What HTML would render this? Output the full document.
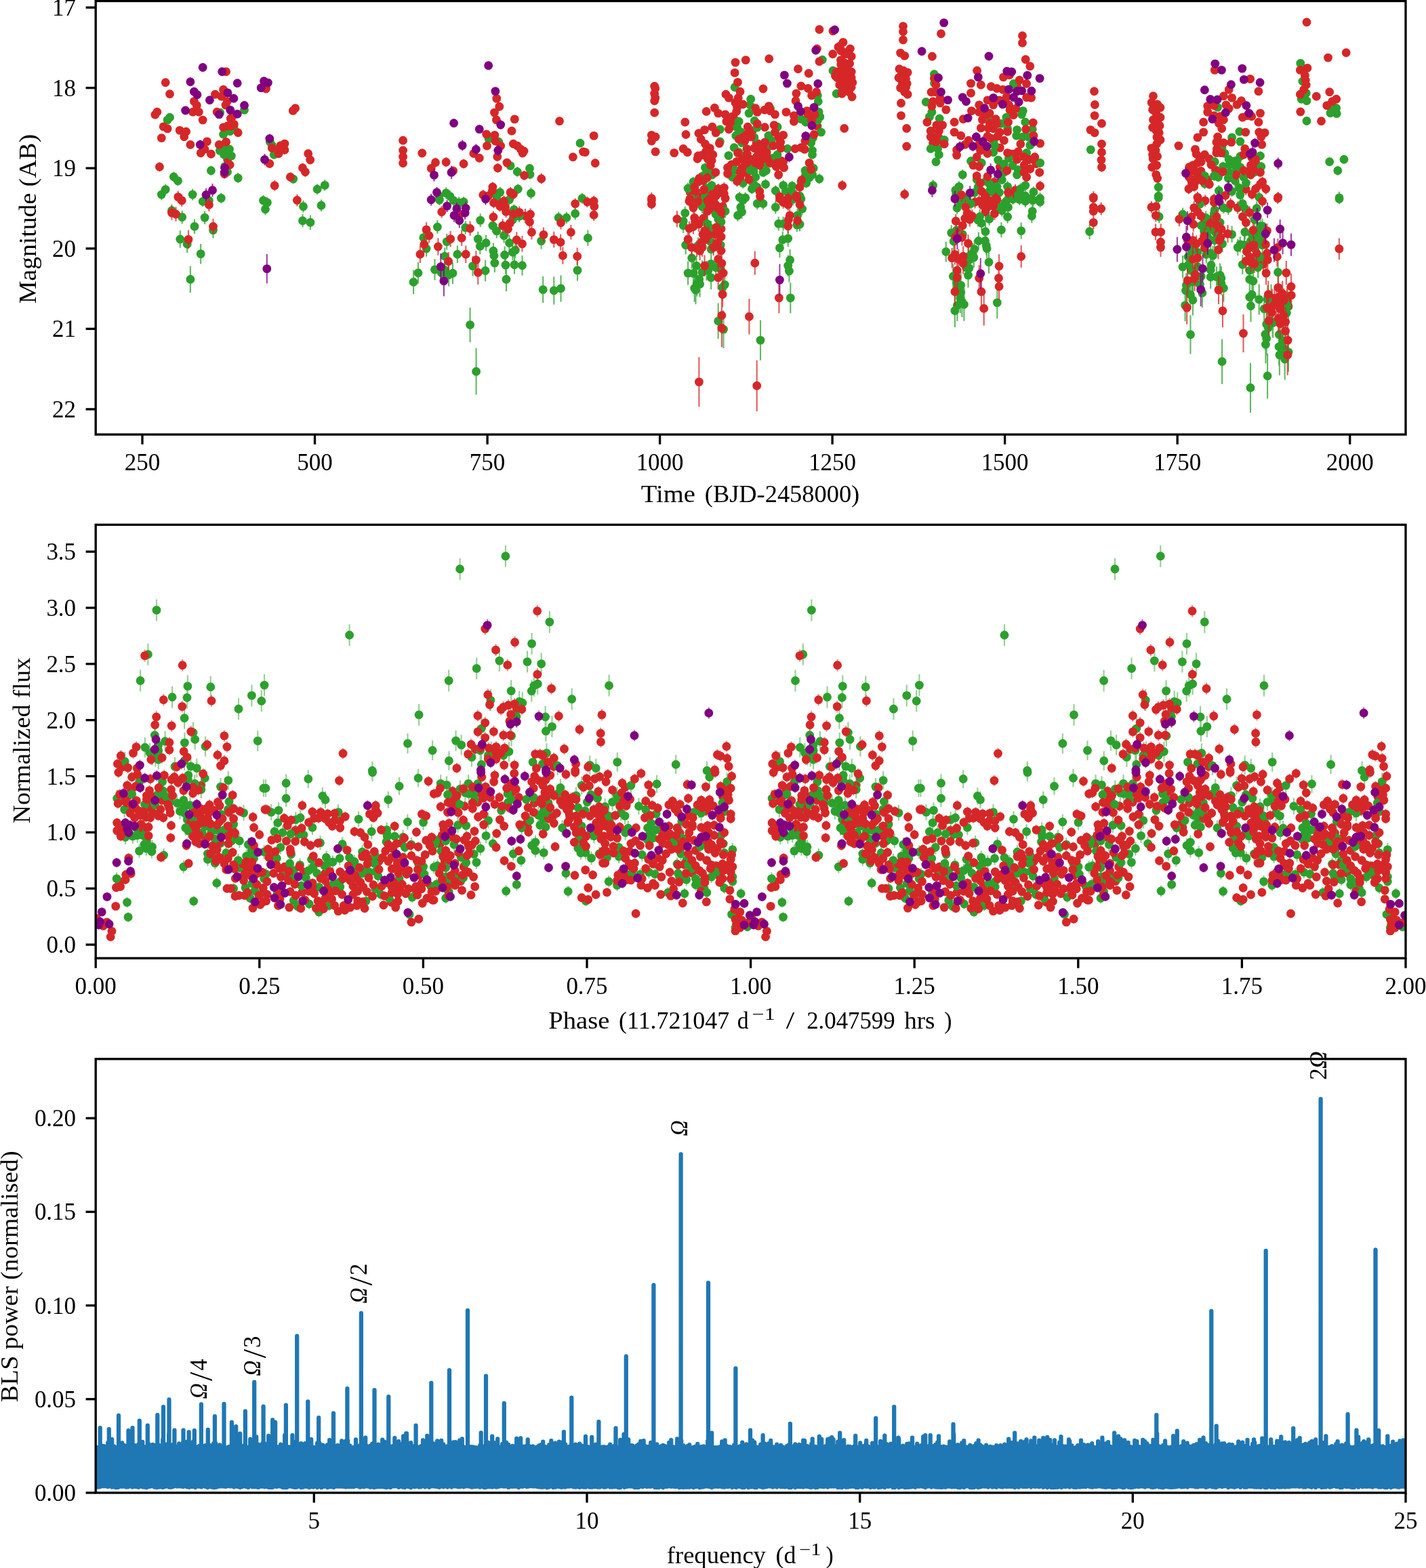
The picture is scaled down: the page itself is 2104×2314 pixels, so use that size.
<!DOCTYPE html><html><head><meta charset="utf-8"><title>Light curve and periodogram</title>
<style>html,body{margin:0;padding:0;background:#fff}svg{display:block}text{font-family:"Liberation Serif", "DejaVu Serif", serif;font-size:34.8px;fill:#000}</style></head><body>
<svg width="2104" height="2314" viewBox="0 0 2104 2314">
<rect width="2104" height="2314" fill="#fff"/>
<defs>
<clipPath id="c1"><rect x="141.2" y="1.5" width="1932.8" height="639.7"/></clipPath>
<clipPath id="c2"><rect x="141.2" y="774.4" width="1932.8" height="639.7"/></clipPath>
<clipPath id="c3"><rect x="141.2" y="1562.8" width="1932.8" height="640.2"/></clipPath>
</defs>
<g clip-path="url(#c1)"><path d="M1135.0 209.0v12.2M1514.7 219.6v12.1M1140.1 227.4v12.0M1515.6 230.0v12.1M1821.6 231.1v13.7M1825.3 231.1v12.5M1110.9 238.2v13.5M1129.8 234.3v12.4M1494.2 237.1v14.4M1824.8 235.7v12.6M1793.8 243.8v14.3M1824.0 241.2v14.6M1045.7 245.3v14.6M1823.6 248.2v14.3M1851.6 246.7v14.0M1198.6 250.2v14.9M1454.7 259.7v15.4M1478.3 258.3v14.0M1822.3 259.0v15.8M1049.8 271.7v16.6M1116.9 268.2v15.7M1443.3 268.3v15.1M1461.8 270.5v16.0M1410.7 277.9v16.4M1459.5 275.3v15.2M1817.6 274.4v16.0M647.7 281.0v16.7M1426.2 282.1v18.1M1495.5 280.1v16.9M1521.9 283.7v17.8M1035.0 286.4v16.4M1170.0 284.8v18.5M1484.3 288.7v17.0M1494.5 285.8v16.3M1521.5 285.9v16.6M1524.3 286.2v18.4M677.2 290.4v17.6M1036.0 295.5v18.7M1416.8 290.0v18.1M1481.6 293.4v18.5M1482.5 290.8v16.7M1478.3 301.8v17.8M1792.2 300.0v19.5M1038.4 311.8v21.6M1789.8 311.4v21.0M1008.2 315.9v20.9M1851.0 314.2v20.3M1779.0 323.5v22.7M1411.4 328.7v22.3M1776.6 330.4v21.8M1793.5 331.4v23.2M1847.3 335.4v21.4M1852.5 333.7v24.0M1856.6 330.4v23.5M1792.1 343.0v22.9M1835.9 348.3v26.1M1851.8 355.3v24.1M1779.8 362.4v26.2M1429.1 363.9v29.0M1855.7 371.4v26.5M1027.6 377.8v29.1M1753.9 376.0v28.6M1766.9 379.6v27.8M656.4 383.5v29.9M1042.4 384.7v29.2M1045.0 384.7v28.1M1772.3 392.6v30.1M1794.9 393.2v30.6M1758.9 399.1v33.7M1801.8 400.4v35.0M1412.8 407.5v34.2M1875.6 419.5v39.9M1899.2 427.8v38.4M1893.4 430.5v40.7M1891.6 448.3v44.5M1877.6 454.2v42.1M1878.2 454.0v44.8M1892.8 477.1v51.8" stroke="#2ca02c" stroke-width="2.1" stroke-opacity="0.75" fill="none"/><path d="M1378.6 123.0h0M1966.5 157.5h0M1971.6 159.5h0M1507.5 168.9h0M1113.3 178.2h0M1462.3 176.1h0M1081.7 183.1h0M1476.8 182.4h0M1079.3 185.4h0M1206.1 186.3h0M339.5 193.8h0M1092.9 194.6h0M1107.9 194.5h0M1517.1 202.0h0M721.1 204.9h0M1465.9 207.5h0M1135.0 215.1h0M1802.9 218.4h0M324.4 222.4h0M1514.7 225.6h0M1140.1 233.4h0M1515.6 236.0h0M1821.6 238.0h0M1825.3 237.3h0M1110.9 244.9h0M1129.8 240.5h0M1494.2 244.3h0M1824.8 242.0h0M1793.8 251.0h0M1824.0 248.5h0M1045.7 252.6h0M1823.6 255.3h0M1851.6 253.8h0M1198.6 257.7h0M1454.7 267.4h0M1478.3 265.2h0M1822.3 266.8h0M1049.8 279.9h0M1116.9 276.1h0M1443.3 275.8h0M1461.8 278.5h0M1410.7 286.1h0M1459.5 282.9h0M1817.6 282.4h0M647.7 289.3h0M1426.2 291.2h0M1495.5 288.6h0M1521.9 292.6h0M1035.0 294.6h0M1170.0 294.1h0M1484.3 297.2h0M1494.5 294.0h0M1521.5 294.2h0M1524.3 295.4h0M677.2 299.2h0M1036.0 304.9h0M1416.8 299.0h0M1481.6 302.7h0M1482.5 299.2h0M1478.3 310.7h0M1792.2 309.7h0M1038.4 322.6h0M1789.8 321.9h0M1008.2 326.4h0M1851.0 324.3h0M1779.0 334.8h0M1411.4 339.9h0M1776.6 341.3h0M1793.5 343.0h0M1847.3 346.0h0M1852.5 345.7h0M1856.6 342.2h0M1792.1 354.5h0M1835.9 361.4h0M1851.8 367.4h0M1779.8 375.5h0M1429.1 378.4h0M1855.7 384.6h0M1027.6 392.3h0M1753.9 390.3h0M1766.9 393.5h0M656.4 398.5h0M1042.4 399.3h0M1045.0 398.8h0M1772.3 407.7h0M1794.9 408.5h0M1758.9 415.9h0M1801.8 417.9h0M1412.8 424.6h0M1875.6 439.5h0M1899.2 447.0h0M1893.4 450.8h0M1891.6 470.5h0M1877.6 475.3h0M1878.2 476.4h0M1892.8 503.0h0" stroke="#2ca02c" stroke-width="12.9" stroke-linecap="round" fill="none"/><path d="M413.8 208.8v12.3M302.0 214.0v12.3M1475.3 211.9v12.4M1454.0 215.0v12.3M1770.1 225.9v13.0M1044.4 227.8v13.5M1120.7 232.4v12.0M1153.5 231.0v13.4M1518.7 228.9v13.2M1701.3 228.0v12.3M1784.2 228.0v12.7M1079.1 236.5v13.0M1136.3 234.0v13.2M1155.6 232.9v12.4M1528.7 235.4v12.7M1853.0 233.9v14.0M1101.9 240.5v13.4M1475.3 239.7v13.8M1853.4 243.6v13.4M1854.8 244.2v13.1M1102.0 248.0v15.1M1756.9 245.7v14.6M1762.5 245.1v12.9M1771.9 246.0v12.9M1793.7 244.5v14.1M1843.7 245.1v13.4M1823.8 250.8v14.9M1037.8 259.6v14.1M1466.9 260.8v16.1M1757.8 258.4v15.9M1764.0 260.1v15.0M1781.9 258.0v14.2M1758.6 262.6v16.4M1498.0 271.9v17.4M1838.2 270.8v17.1M1018.1 275.1v16.8M1044.2 278.1v15.6M1055.6 275.3v16.1M1060.0 276.4v17.7M1494.3 277.7v15.5M720.8 280.2v17.6M1033.5 282.1v16.8M1047.0 279.0v16.1M737.4 289.9v17.9M1438.6 288.5v19.0M1778.1 287.4v17.3M1046.9 293.7v17.0M1066.4 295.6v18.1M1050.2 297.7v18.2M1826.2 297.3v18.3M1453.9 303.4v18.7M774.9 308.1v21.1M1037.8 312.8v18.9M1063.4 308.7v19.3M1758.0 310.7v18.9M1778.3 317.5v21.2M1031.2 319.8v22.1M1064.0 326.5v22.9M1792.4 325.6v23.4M1414.8 334.0v21.3M1752.4 343.5v23.1M1773.4 343.1v25.2M1861.6 342.3v25.5M1759.3 351.4v25.6M1844.1 364.8v29.4M1863.9 376.6v26.8M1880.4 421.4v37.4M1899.2 422.5v36.9M1877.0 426.5v35.7M1890.8 428.5v40.9M1876.5 433.5v40.7M1876.4 438.6v45.1" stroke="#d62728" stroke-width="2.1" stroke-opacity="0.75" fill="none"/><path d="M1240.6 74.9h0M1243.3 76.1h0M1246.1 92.7h0M1240.8 95.3h0M1489.5 110.8h0M1380.9 125.2h0M1500.4 127.3h0M1485.3 143.0h0M1089.2 144.5h0M1387.2 145.1h0M1514.6 143.8h0M335.3 149.5h0M1387.2 152.1h0M1483.3 149.0h0M1809.0 154.9h0M1825.1 154.4h0M1128.1 162.3h0M1490.1 162.5h0M342.8 172.1h0M1080.9 171.9h0M1192.1 169.3h0M1460.1 167.2h0M1800.4 171.6h0M1846.7 171.8h0M340.3 175.0h0M1078.1 175.0h0M1082.6 173.7h0M1192.0 175.0h0M1449.4 176.6h0M1080.3 185.7h0M1128.4 187.8h0M1205.2 185.8h0M1458.1 189.2h0M1110.1 193.3h0M1475.1 195.3h0M1096.1 202.9h0M1381.9 201.8h0M1707.0 202.4h0M1150.9 208.4h0M1385.2 203.2h0M1462.1 204.2h0M413.8 214.9h0M1116.0 211.6h0M1118.2 211.9h0M1151.7 210.1h0M1376.6 211.4h0M1443.8 214.3h0M1446.1 213.9h0M302.0 220.2h0M412.4 218.9h0M1102.0 219.6h0M1118.9 220.6h0M1475.3 218.1h0M1795.4 219.7h0M1041.7 223.2h0M1121.0 225.1h0M1454.0 221.1h0M1097.8 230.4h0M1492.2 227.1h0M1495.5 227.2h0M1770.1 232.4h0M1846.8 232.5h0M335.7 235.6h0M1044.4 234.6h0M1120.7 238.4h0M1153.5 237.7h0M1518.7 235.5h0M1701.3 234.2h0M1784.2 234.4h0M1079.1 243.0h0M1136.3 240.6h0M1155.6 239.1h0M1528.7 241.8h0M1853.0 240.9h0M1101.9 247.2h0M1475.3 246.6h0M1853.4 250.4h0M1854.8 250.7h0M1102.0 255.5h0M1756.9 252.9h0M1762.5 251.6h0M1771.9 252.4h0M1793.7 251.5h0M1843.7 251.8h0M1823.8 258.2h0M1037.8 266.7h0M1466.9 268.9h0M1757.8 266.4h0M1764.0 267.6h0M1781.9 265.1h0M1758.6 270.8h0M1498.0 280.6h0M1838.2 279.3h0M1018.1 283.5h0M1044.2 285.9h0M1055.6 283.4h0M1060.0 285.2h0M1494.3 285.5h0M720.8 289.0h0M1033.5 290.5h0M1047.0 287.0h0M737.4 298.9h0M1438.6 298.1h0M1778.1 296.1h0M1046.9 302.2h0M1066.4 304.7h0M1050.2 306.8h0M1826.2 306.5h0M1453.9 312.7h0M774.9 318.6h0M1037.8 322.2h0M1063.4 318.3h0M1758.0 320.1h0M1778.3 328.0h0M1031.2 330.8h0M1064.0 337.9h0M1792.4 337.3h0M1414.8 344.6h0M1752.4 355.0h0M1773.4 355.7h0M1861.6 355.0h0M1759.3 364.3h0M1844.1 379.5h0M1863.9 390.0h0M1880.4 440.1h0M1899.2 440.9h0M1877.0 444.4h0M1890.8 449.0h0M1876.5 453.8h0M1876.4 461.2h0" stroke="#d62728" stroke-width="12.9" stroke-linecap="round" fill="none"/><path d="M330.6 218.1v12.4M335.5 220.2v12.1M330.6 222.2v12.0M341.4 223.9v12.4M404.3 221.6v13.2M311.4 244.8v14.0M331.6 239.2v13.4M335.5 246.2v15.1M351.2 255.0v15.2M256.4 253.6v14.8M262.5 259.8v14.1M432.7 257.3v13.7M244.2 272.0v15.3M238.3 278.6v17.0M284.1 278.7v16.7M479.3 265.0v16.7M468.1 271.4v15.7M326.3 284.5v15.7M388.5 288.1v15.7M394.4 291.0v15.7M391.5 299.9v17.7M299.2 289.5v15.7M308.4 288.1v15.7M447.5 295.9v17.7M474.0 294.4v17.7M253.4 301.8v17.7M268.7 310.7v19.6M302.1 311.3v19.6M287.0 323.4v21.6M446.5 316.0v19.6M457.9 317.5v21.6M314.5 327.9v23.6M265.8 340.2v25.5M276.2 347.5v25.5M296.2 359.9v29.5M280.9 392.7v39.3M753.1 238.5v12.3M781.5 242.1v12.9M763.3 246.1v14.7M781.9 250.2v14.4M764.3 271.5v14.9M737.7 276.1v15.6M783.5 276.5v17.5M658.2 276.3v17.2M664.1 281.2v17.1M669.0 287.8v15.7M648.4 287.2v15.7M684.1 290.2v15.7M732.8 281.9v15.7M751.5 286.8v15.7M858.9 284.9v15.7M758.4 301.6v15.7M848.7 306.5v17.7M824.2 312.4v17.7M835.9 312.4v17.7M766.2 310.4v17.7M708.7 315.3v19.6M756.4 314.3v19.6M645.4 325.1v19.6M726.9 323.2v19.6M686.7 326.1v19.6M732.8 330.0v21.6M743.6 336.9v21.6M624.8 339.9v21.6M705.3 341.8v21.6M867.4 339.5v23.6M659.2 344.8v23.6M717.1 346.7v23.6M798.6 343.8v23.6M751.5 346.7v23.6M708.3 351.7v23.6M629.1 355.2v23.6M760.3 357.5v23.6M727.9 358.5v23.6M674.9 362.5v25.5M744.6 363.4v25.5M756.4 360.5v23.6M656.2 365.4v25.5M760.3 357.3v23.6M728.9 364.5v25.5M729.9 374.4v27.5M746.0 377.3v27.5M759.0 376.9v27.5M770.5 376.9v29.5M697.5 377.9v29.5M716.1 383.8v31.4M852.0 383.2v31.4M641.5 382.2v31.4M617.0 387.1v31.4M651.3 386.7v31.4M668.0 387.5v31.4M662.1 389.1v33.4M610.1 398.5v35.4M747.0 394.6v35.4M801.2 407.8v39.3M817.3 408.2v41.2M827.5 406.2v39.3M693.6 453.9v51.1M702.6 513.8v68.7M1198.5 215.9v12.4M1075.0 223.3v12.6M1147.0 222.1v12.2M1090.2 218.7v12.1M1198.5 222.0v12.5M1040.5 240.8v13.3M1200.2 241.1v14.5M1188.0 244.7v14.2M1084.1 243.8v14.2M1106.8 244.4v13.0M1112.0 245.5v14.2M1130.4 244.5v14.6M1126.0 247.4v14.1M1050.9 251.2v13.5M1188.8 250.8v14.3M1037.0 252.2v15.0M1080.6 254.7v13.4M1114.7 254.3v14.1M1208.9 256.6v14.7M1194.1 254.6v15.3M1023.0 261.3v14.2M1096.3 262.1v16.1M1181.9 260.7v15.4M1189.7 262.8v14.7M1129.5 264.3v15.0M1112.0 264.6v16.2M1155.7 266.1v15.1M1168.8 267.2v14.6M1015.1 269.7v16.6M1042.2 269.8v16.4M1050.1 266.4v14.5M1109.4 271.5v14.8M1144.3 273.4v16.2M1159.2 274.1v16.5M1167.9 273.7v17.2M1091.1 283.1v16.0M1099.8 283.7v16.5M1040.5 282.3v17.6M1180.1 280.4v17.8M1024.7 283.5v16.4M1042.2 282.7v18.1M1056.2 306.5v19.4M1096.3 286.8v16.8M1092.8 297.0v17.3M1094.6 302.7v20.1M1088.5 309.2v17.5M1117.3 291.7v17.5M1126.0 291.7v17.5M1144.3 295.8v19.7M1181.9 285.1v16.7M1183.6 299.0v18.6M1010.8 304.8v19.2M1070.1 302.2v19.2M1059.7 313.2v20.0M1064.0 317.9v19.2M1176.6 307.8v20.3M1148.7 319.7v20.9M1155.7 319.7v20.9M1175.8 321.4v20.9M1180.1 320.6v20.9M1008.2 321.4v22.7M1043.4 320.0v20.3M1049.2 325.7v22.8M1154.8 341.5v24.4M1162.7 339.8v24.4M1011.7 347.6v27.9M1049.2 344.6v25.3M1063.2 348.8v25.5M1150.4 352.0v27.9M1049.2 352.8v29.7M1030.0 350.3v24.4M1020.7 365.1v31.4M1165.6 368.0v31.4M1162.7 376.4v31.4M1164.4 383.4v33.2M1049.2 375.9v27.2M1056.2 380.0v29.5M1063.2 382.1v28.9M1015.1 385.7v34.9M1023.0 386.0v34.9M1036.1 384.3v34.9M1049.2 392.1v34.9M1031.7 394.7v34.9M1028.2 399.1v38.4M1032.6 400.0v38.4M1024.7 405.2v40.2M1026.5 407.0v41.9M1069.3 400.9v38.4M1065.8 405.2v38.4M1166.3 416.9v45.4M1059.7 447.5v52.4M1067.5 458.1v55.9M1122.0 472.4v59.4M1465.7 218.5v12.5M1381.0 232.2v13.1M1432.5 231.1v13.5M1472.7 230.0v12.2M1534.6 233.8v13.3M1448.2 233.8v13.2M1481.4 235.5v13.4M1502.3 243.7v14.5M1420.3 250.2v15.3M1441.2 257.3v15.2M1500.6 251.3v13.3M1481.4 247.4v14.0M1376.6 265.5v16.3M1460.4 263.7v16.3M1470.9 267.4v15.9M1486.6 267.0v16.7M1512.8 265.3v16.7M1415.1 267.2v16.3M1409.8 272.4v16.3M1505.8 270.5v16.7M1525.0 275.3v15.9M1437.7 275.4v17.4M1465.7 275.2v17.7M1474.4 275.7v16.7M1502.3 279.7v15.8M1512.8 280.3v18.1M1534.6 284.2v17.3M1421.2 284.3v18.4M1432.5 292.2v16.6M1488.4 283.1v17.2M1504.1 285.9v16.9M1512.8 288.1v17.8M1534.6 289.6v16.4M1412.1 298.2v17.5M1472.7 295.8v18.1M1487.5 297.0v17.5M1523.3 302.2v19.2M1522.4 308.3v20.9M1486.6 310.4v19.2M1445.6 309.0v21.3M1443.0 315.3v19.2M1448.2 318.2v22.1M1459.6 313.6v19.2M1477.4 327.9v22.7M1506.7 328.4v24.4M1454.0 330.5v22.7M1403.7 332.2v22.7M1420.3 335.0v21.7M1443.9 342.4v26.2M1453.5 342.4v26.2M1407.2 343.2v26.2M1455.2 348.5v27.9M1456.1 352.8v27.9M1437.7 353.7v27.9M1395.8 356.7v29.7M1435.1 359.0v29.7M1436.9 365.1v29.7M1429.0 370.2v28.1M1459.0 370.3v33.2M1429.9 379.0v33.2M1425.5 378.2v33.2M1428.5 387.8v36.7M1406.3 389.5v36.7M1411.6 398.2v38.4M1417.7 400.9v40.2M1417.7 410.5v41.9M1416.8 418.3v43.6M1419.4 422.7v45.4M1422.4 424.8v48.9M1412.4 427.0v47.1M1408.9 434.0v48.9M1471.3 423.0v47.1M1709.3 267.8v16.9M1709.3 281.2v16.3M1807.1 220.0v13.0M1829.8 224.5v12.7M1813.2 228.9v12.7M1792.3 231.8v13.8M1814.1 236.0v14.2M1804.5 238.8v13.7M1829.8 240.0v13.2M1859.5 223.4v13.2M1777.4 252.1v15.1M1791.4 252.1v15.1M1797.5 254.4v13.9M1813.2 247.6v13.5M1812.3 255.3v15.8M1835.0 254.4v13.9M1838.5 262.6v15.0M1828.1 268.7v16.8M1798.4 273.2v16.5M1777.4 263.2v15.5M1829.8 279.3v16.6M1857.7 282.6v17.0M1709.3 282.7v18.1M1710.2 310.1v19.2M1607.6 330.5v22.7M1770.4 292.2v18.3M1745.1 306.6v19.2M1805.4 297.9v17.3M1812.3 297.7v19.4M1791.4 305.1v20.5M1833.3 291.5v17.9M1836.8 298.6v17.7M1854.2 297.4v20.1M1779.2 311.3v20.2M1800.1 317.3v22.3M1772.2 322.2v21.2M1786.2 328.0v21.7M1817.6 333.6v24.4M1836.8 330.7v23.4M1859.5 323.4v20.5M1782.7 340.0v22.2M1803.6 347.4v24.9M1829.8 348.9v23.6M1826.3 353.0v24.2M1845.5 343.0v25.0M1856.0 343.1v22.9M1758.2 358.2v24.2M1767.0 358.7v26.6M1786.2 359.5v28.6M1753.0 365.8v26.5M1789.6 362.9v28.7M1745.1 377.3v33.2M1787.0 374.7v33.2M1757.3 381.7v34.9M1786.2 383.5v29.5M1833.3 376.1v28.6M1843.8 383.3v31.6M1856.0 379.6v30.2M1786.2 391.3v34.9M1800.1 388.6v34.9M1801.9 393.0v34.9M1843.8 395.2v33.9M1849.0 399.0v31.6M1770.4 402.3v35.6M1750.4 403.1v35.6M1749.5 407.8v41.9M1805.4 405.2v40.2M1756.5 413.1v43.6M1773.9 410.5v43.6M1760.0 420.1v45.4M1847.3 416.7v36.5M1843.8 419.1v38.6M1857.7 419.2v45.4M1748.6 427.0v47.1M1845.5 427.9v47.1M1756.5 464.9v57.6M1803.1 500.4v66.3M1845.0 535.6v73.3M1983.0 228.8v12.7M1961.7 232.6v12.1M1973.8 244.8v14.0M1860.8 239.4v12.6M1976.0 282.8v18.2M1976.0 285.6v15.7M1862.6 322.6v22.1M1860.8 336.8v21.6M1862.6 349.9v23.3M1862.6 364.4v29.2M1885.6 384.3v34.9M1856.4 377.3v33.2M1870.4 420.9v41.9M1901.0 430.5v43.6M1865.2 435.8v40.1M1898.3 442.2v39.5M1868.7 455.5v46.2M1871.3 460.2v47.1M1866.9 469.8v47.1M1868.7 473.8v51.3M1887.3 467.5v52.4M1867.4 480.3v55.9M1887.0 483.8v55.9M1895.7 486.4v57.6M1901.0 490.8v57.6M1887.9 494.3v59.4M1895.7 499.5v61.1M1870.1 521.7v66.3" stroke="#2ca02c" stroke-width="2.1" stroke-opacity="0.75" fill="none"/><path d="M360.5 162.4h0M324.7 166.3h0M250.5 173.2h0M247.1 177.1h0M345.3 188.9h0M329.6 198.3h0M398.4 209.5h0M401.3 214.4h0M333.6 218.4h0M338.5 220.3h0M330.6 224.3h0M335.5 226.2h0M330.6 228.2h0M341.4 230.1h0M404.3 228.2h0M311.4 251.8h0M331.6 245.9h0M335.5 253.7h0M351.2 262.6h0M256.4 261.0h0M262.5 266.9h0M432.7 264.1h0M244.2 279.6h0M238.3 287.1h0M284.1 287.1h0M479.3 273.4h0M468.1 279.2h0M326.3 292.4h0M388.5 295.9h0M394.4 298.9h0M391.5 308.7h0M299.2 297.3h0M308.4 295.9h0M447.5 304.8h0M474.0 303.2h0M253.4 310.7h0M268.7 320.5h0M302.1 321.1h0M287.0 334.2h0M446.5 325.8h0M457.9 328.3h0M314.5 339.6h0M265.8 353.0h0M276.2 360.3h0M296.2 374.6h0M280.9 412.3h0M735.8 209.3h0M856.0 211.2h0M753.1 244.6h0M781.5 248.5h0M763.3 253.5h0M781.9 257.4h0M764.3 279.0h0M737.7 283.9h0M783.5 285.3h0M658.2 284.9h0M664.1 289.8h0M669.0 295.7h0M648.4 295.1h0M684.1 298.0h0M732.8 289.8h0M751.5 294.7h0M858.9 292.7h0M758.4 309.4h0M848.7 315.3h0M824.2 321.2h0M835.9 321.2h0M766.2 319.2h0M708.7 325.1h0M756.4 324.2h0M645.4 335.0h0M726.9 333.0h0M686.7 335.9h0M732.8 340.9h0M743.6 347.7h0M624.8 350.7h0M705.3 352.6h0M867.4 351.3h0M659.2 356.6h0M717.1 358.5h0M798.6 355.6h0M751.5 358.5h0M708.3 363.4h0M629.1 367.0h0M760.3 369.3h0M727.9 370.3h0M674.9 375.2h0M744.6 376.2h0M756.4 372.3h0M656.2 378.2h0M760.3 369.1h0M728.9 377.3h0M729.9 388.1h0M746.0 391.1h0M759.0 390.7h0M770.5 391.7h0M697.5 392.6h0M716.1 399.5h0M852.0 398.9h0M641.5 397.9h0M617.0 402.8h0M651.3 402.5h0M668.0 403.2h0M662.1 405.8h0M610.1 416.2h0M747.0 412.3h0M801.2 427.4h0M817.3 428.8h0M827.5 425.8h0M693.6 479.4h0M702.6 548.2h0M1213.3 88.2h0M1229.0 104.3h0M1084.1 128.7h0M1234.2 138.3h0M1107.7 146.2h0M1206.3 140.9h0M1207.2 149.7h0M1106.8 154.9h0M1105.1 167.1h0M1136.5 160.1h0M1208.1 165.4h0M1209.8 172.4h0M1090.2 179.3h0M1181.9 175.8h0M1188.8 180.2h0M1087.6 188.1h0M1206.3 177.6h0M1062.3 191.0h0M1117.3 188.1h0M1147.0 187.2h0M1211.5 195.1h0M1085.8 200.3h0M1133.9 200.3h0M1112.9 202.9h0M1062.3 209.0h0M1199.3 203.8h0M1138.2 207.3h0M1094.6 210.8h0M1196.7 210.8h0M1083.2 217.7h0M1161.8 219.5h0M1198.5 222.1h0M1075.0 229.6h0M1147.0 228.2h0M1090.2 224.7h0M1198.5 228.2h0M1040.5 247.4h0M1200.2 248.3h0M1188.0 251.8h0M1084.1 250.9h0M1106.8 250.9h0M1112.0 252.7h0M1130.4 251.8h0M1126.0 254.4h0M1050.9 257.9h0M1188.8 257.9h0M1037.0 259.6h0M1080.6 261.4h0M1114.7 261.4h0M1208.9 264.0h0M1194.1 262.3h0M1023.0 268.4h0M1096.3 270.1h0M1181.9 268.4h0M1189.7 270.1h0M1129.5 271.9h0M1112.0 272.7h0M1155.7 273.6h0M1168.8 274.5h0M1015.1 278.0h0M1042.2 278.0h0M1050.1 273.6h0M1109.4 278.8h0M1144.3 281.5h0M1159.2 282.3h0M1167.9 282.3h0M1091.1 291.1h0M1099.8 291.9h0M1040.5 291.1h0M1180.1 289.3h0M1024.7 291.7h0M1042.2 291.7h0M1056.2 316.2h0M1096.3 295.2h0M1092.8 305.7h0M1094.6 312.7h0M1088.5 317.9h0M1117.3 300.5h0M1126.0 300.5h0M1144.3 305.7h0M1181.9 293.5h0M1183.6 308.3h0M1010.8 314.4h0M1070.1 311.8h0M1059.7 323.2h0M1064.0 327.5h0M1176.6 317.9h0M1148.7 330.2h0M1155.7 330.2h0M1175.8 331.9h0M1180.1 331.0h0M1008.2 332.8h0M1043.4 330.2h0M1049.2 337.1h0M1154.8 353.7h0M1162.7 352.0h0M1011.7 361.6h0M1049.2 357.2h0M1063.2 361.6h0M1150.4 365.9h0M1049.2 367.7h0M1030.0 362.4h0M1020.7 380.8h0M1165.6 383.7h0M1162.7 392.1h0M1164.4 400.0h0M1049.2 389.5h0M1056.2 394.7h0M1063.2 396.5h0M1015.1 403.1h0M1023.0 403.5h0M1036.1 401.7h0M1049.2 409.6h0M1031.7 412.2h0M1028.2 418.3h0M1032.6 419.2h0M1024.7 425.3h0M1026.5 427.9h0M1069.3 420.1h0M1065.8 424.4h0M1166.3 439.6h0M1059.7 473.7h0M1067.5 486.1h0M1122.0 502.1h0M1234.4 138.3h0M1378.4 109.5h0M1495.4 123.5h0M1366.2 150.5h0M1374.9 165.4h0M1509.3 163.6h0M1371.4 172.4h0M1386.2 175.0h0M1484.9 173.2h0M1512.8 180.2h0M1500.6 191.6h0M1486.6 189.8h0M1523.3 190.7h0M1499.7 200.3h0M1509.3 202.0h0M1393.2 206.4h0M1467.4 214.3h0M1373.2 219.5h0M1383.6 219.5h0M1519.8 214.3h0M1465.7 224.7h0M1385.4 228.2h0M1381.0 238.7h0M1432.5 237.8h0M1472.7 236.1h0M1488.4 233.5h0M1534.6 240.4h0M1448.2 240.4h0M1481.4 242.2h0M1502.3 250.9h0M1420.3 257.9h0M1441.2 264.9h0M1500.6 257.9h0M1481.4 254.4h0M1376.6 273.6h0M1460.4 271.9h0M1470.9 275.4h0M1486.6 275.4h0M1512.8 273.6h0M1415.1 275.4h0M1409.8 280.6h0M1505.8 278.8h0M1525.0 283.2h0M1437.7 284.1h0M1465.7 284.1h0M1474.4 284.1h0M1502.3 287.6h0M1512.8 289.3h0M1534.6 292.8h0M1421.2 293.5h0M1432.5 300.5h0M1488.4 291.7h0M1504.1 294.4h0M1512.8 297.0h0M1534.6 297.9h0M1412.1 306.9h0M1472.7 304.8h0M1487.5 305.7h0M1523.3 311.8h0M1522.4 318.8h0M1486.6 320.0h0M1445.6 319.7h0M1443.0 324.9h0M1448.2 329.3h0M1459.6 323.2h0M1477.4 339.2h0M1506.7 340.6h0M1454.0 341.8h0M1403.7 343.6h0M1420.3 345.9h0M1443.9 355.5h0M1453.5 355.5h0M1407.2 356.3h0M1455.2 362.4h0M1456.1 366.8h0M1437.7 367.7h0M1395.8 371.5h0M1435.1 373.8h0M1436.9 379.9h0M1429.0 384.3h0M1459.0 386.9h0M1429.9 395.6h0M1425.5 394.7h0M1428.5 406.1h0M1406.3 407.8h0M1411.6 417.4h0M1417.7 420.9h0M1417.7 431.4h0M1416.8 440.1h0M1419.4 445.4h0M1422.4 449.2h0M1412.4 450.6h0M1408.9 458.5h0M1471.3 446.6h0M1609.3 220.9h0M1709.3 276.2h0M1709.3 289.3h0M1796.6 158.4h0M1828.9 194.2h0M1817.6 202.9h0M1829.8 209.0h0M1807.1 226.5h0M1829.8 230.8h0M1813.2 235.2h0M1792.3 238.7h0M1814.1 243.1h0M1804.5 245.7h0M1829.8 246.6h0M1859.5 230.0h0M1777.4 259.6h0M1791.4 259.6h0M1797.5 261.4h0M1813.2 254.4h0M1812.3 263.1h0M1835.0 261.4h0M1838.5 270.1h0M1828.1 277.1h0M1798.4 281.5h0M1777.4 271.0h0M1829.8 287.6h0M1857.7 291.1h0M1709.3 291.7h0M1710.2 319.7h0M1607.6 341.8h0M1770.4 301.3h0M1745.1 316.2h0M1805.4 306.6h0M1812.3 307.5h0M1791.4 315.3h0M1833.3 300.5h0M1836.8 307.5h0M1854.2 307.5h0M1779.2 321.4h0M1800.1 328.4h0M1772.2 332.8h0M1786.2 338.9h0M1817.6 345.9h0M1836.8 342.4h0M1859.5 333.6h0M1782.7 351.1h0M1803.6 359.8h0M1829.8 360.7h0M1826.3 365.1h0M1845.5 355.5h0M1856.0 354.6h0M1758.2 370.3h0M1767.0 372.1h0M1786.2 373.8h0M1753.0 379.0h0M1789.6 377.3h0M1745.1 393.9h0M1787.0 391.3h0M1757.3 399.1h0M1786.2 398.2h0M1833.3 390.4h0M1843.8 399.1h0M1856.0 394.7h0M1786.2 408.7h0M1800.1 406.1h0M1801.9 410.5h0M1843.8 412.2h0M1849.0 414.8h0M1770.4 420.1h0M1750.4 420.9h0M1749.5 428.8h0M1805.4 425.3h0M1756.5 434.9h0M1773.9 432.3h0M1760.0 442.8h0M1847.3 434.9h0M1843.8 438.4h0M1857.7 441.9h0M1748.6 450.6h0M1845.5 451.5h0M1756.5 493.7h0M1803.1 533.5h0M1845.0 572.3h0M1918.8 93.4h0M1921.9 120.0h0M1927.2 137.4h0M1920.2 146.2h0M1928.0 148.8h0M1962.9 166.8h0M1972.2 167.6h0M1928.0 178.5h0M1983.0 235.2h0M1961.7 238.7h0M1973.8 251.8h0M1860.8 245.7h0M1976.0 291.9h0M1976.0 293.5h0M1862.6 333.6h0M1860.8 347.6h0M1862.6 361.6h0M1862.6 379.0h0M1885.6 401.7h0M1856.4 393.9h0M1870.4 441.9h0M1901.0 452.4h0M1865.2 455.8h0M1898.3 462.0h0M1868.7 478.5h0M1871.3 483.8h0M1866.9 493.4h0M1868.7 499.5h0M1887.3 493.7h0M1867.4 508.2h0M1887.0 511.7h0M1895.7 515.2h0M1901.0 519.6h0M1887.9 523.9h0M1895.7 530.0h0M1870.1 554.8h0" stroke="#2ca02c" stroke-width="12.9" stroke-linecap="round" fill="none"/><path d="M296.2 219.3v13.0M311.4 221.2v12.0M401.3 212.2v12.2M420.0 215.1v12.3M454.7 220.6v12.3M457.7 229.9v12.4M397.8 234.9v13.2M339.1 236.1v14.3M235.4 239.4v13.7M446.5 240.9v13.9M450.4 246.2v14.9M331.2 249.8v13.8M428.4 254.4v13.6M405.2 266.1v15.7M262.8 281.8v17.7M268.3 287.1v17.7M308.4 292.4v19.6M438.4 286.7v17.7M253.4 303.2v21.6M259.5 305.2v21.6M314.5 322.5v23.6M278.0 339.6v27.5M757.4 206.2v12.0M773.1 216.8v12.4M594.6 225.0v12.6M594.6 234.0v13.3M622.8 219.8v12.4M698.9 220.3v12.6M707.3 227.0v12.5M733.8 224.7v13.2M845.4 225.8v12.1M642.5 232.7v13.9M658.2 232.3v14.0M684.1 234.8v13.8M878.2 234.1v13.1M748.0 233.8v12.5M636.2 241.5v14.0M668.6 245.4v13.4M734.4 241.0v13.8M773.5 252.0v14.0M798.8 255.8v15.7M726.9 268.5v15.0M726.5 272.3v17.3M712.8 280.0v15.7M753.1 276.0v15.7M757.4 279.0v15.7M743.6 288.8v15.7M728.5 291.4v15.7M848.7 292.7v15.7M866.4 290.2v15.7M876.2 288.8v15.7M876.8 296.7v15.7M737.7 296.7v15.7M745.6 297.6v15.7M746.6 303.5v17.7M651.7 303.9v17.7M766.2 304.5v17.7M757.4 307.5v17.7M782.5 307.5v17.7M876.2 308.4v17.7M727.9 311.4v17.7M678.8 307.5v17.7M781.5 317.7v19.6M827.5 318.9v19.6M752.5 319.2v19.6M741.7 323.2v19.6M749.5 328.1v19.6M629.1 328.1v21.6M693.6 326.5v21.6M784.5 332.0v21.6M842.4 332.0v21.6M802.0 335.5v21.6M633.1 336.9v21.6M664.7 340.9v23.6M681.2 339.5v23.6M817.3 341.8v23.6M762.3 342.2v23.6M827.1 345.8v23.6M625.8 348.7v23.6M770.5 348.1v23.6M646.4 351.3v25.5M619.9 362.5v25.5M687.3 362.5v25.5M830.4 364.4v25.5M851.7 365.4v25.5M661.7 372.0v27.5M702.4 369.9v27.5M705.3 384.6v35.4M1112.9 212.6v12.1M1014.3 218.6v12.2M1088.5 219.5v12.2M1131.2 218.6v12.2M1051.8 221.6v13.2M1030.0 223.8v12.3M1035.2 223.1v11.9M1117.3 223.3v13.3M1029.1 228.2v12.2M1094.6 228.6v13.3M1126.0 228.1v12.4M1132.1 227.2v12.5M1086.7 231.9v13.5M1194.1 234.3v12.3M1050.1 230.5v12.9M1147.0 234.2v12.5M1101.6 233.7v13.5M1114.7 234.0v12.8M1048.3 237.6v12.7M1120.8 236.8v14.3M1073.6 241.1v12.7M1145.2 238.6v14.2M1094.6 241.0v14.5M1156.6 240.9v13.0M1196.7 243.1v13.9M1092.0 247.8v13.3M1055.8 247.8v13.2M1073.6 248.7v14.8M1148.7 250.4v15.0M1031.7 255.6v15.0M1043.4 255.1v14.3M1092.0 254.0v14.8M1105.1 257.3v15.1M1087.6 259.5v16.1M1182.7 257.9v15.7M1030.0 261.3v14.2M1024.7 269.0v14.5M1068.4 269.1v16.0M1059.7 270.9v15.9M1180.1 268.0v16.5M1038.7 272.2v15.0M1026.5 273.5v17.6M1120.8 273.7v17.4M1068.4 277.2v17.2M1056.2 281.2v16.3M961.4 284.1v17.4M1017.8 285.0v17.4M1150.4 281.7v17.0M1162.7 283.9v17.8M1174.9 280.4v17.7M1047.4 285.7v16.0M961.4 287.0v16.6M961.4 293.5v15.7M1016.9 288.9v16.2M1029.1 289.2v17.4M1023.0 297.9v17.4M1043.9 287.1v18.1M1052.7 287.0v16.5M1070.1 284.2v16.9M1056.2 293.9v16.7M1059.7 298.4v18.1M1043.9 302.5v18.6M1064.0 303.7v18.0M1121.6 282.1v15.8M1150.4 284.5v17.9M1160.9 287.7v18.6M1175.8 282.7v18.1M1180.1 293.1v17.6M1155.7 289.7v18.0M1162.7 293.4v17.6M998.9 310.9v24.4M1024.7 310.7v21.5M1025.6 316.4v22.3M1165.3 308.6v18.7M1163.5 313.8v20.4M1176.6 316.3v19.1M1023.0 323.6v21.9M1016.9 326.8v20.8M1162.7 322.9v21.6M1057.0 324.7v21.3M1039.6 329.3v22.7M1037.0 334.9v21.9M1045.7 334.4v24.8M1055.3 334.4v23.0M1064.0 338.5v21.7M1015.1 340.4v25.6M1040.5 341.8v23.8M1035.2 344.8v24.8M1057.9 347.6v22.8M1020.4 352.1v25.9M1052.7 352.8v24.5M1028.2 354.8v24.0M1036.1 351.4v27.3M1032.6 356.3v27.9M1064.0 356.4v27.2M1059.7 368.5v28.1M1064.9 373.3v30.8M1039.6 376.4v31.4M1113.8 370.8v34.9M1067.2 387.6v30.8M1059.7 392.1v34.9M1066.1 415.2v38.4M1149.4 416.9v45.4M1064.9 439.3v52.4M1105.4 441.0v52.4M1064.9 456.4v55.9M1031.4 526.9v73.3M1116.7 531.8v75.1M1242.7 266.0v15.3M1334.7 278.6v16.1M1505.8 206.5v12.1M1534.6 205.7v11.9M1411.6 215.0v12.6M1446.5 216.0v12.2M1502.3 217.4v12.9M1457.0 220.5v11.9M1411.6 223.1v12.0M1441.2 225.3v12.7M1526.8 225.5v12.3M1436.0 237.6v12.7M1444.7 238.5v14.3M1511.1 237.0v14.0M1519.8 242.0v14.3M1485.8 244.9v13.7M1511.1 247.5v13.8M1533.8 247.6v13.7M1441.2 252.7v13.9M1457.0 253.3v14.5M1514.6 254.5v13.7M1446.5 263.1v14.1M1534.6 266.8v15.5M1448.2 274.1v16.5M1487.5 275.4v17.4M1418.5 278.8v17.6M1453.5 281.1v16.4M1469.2 284.2v17.2M1444.7 287.6v18.8M1451.7 287.0v16.5M1460.4 287.6v17.1M1470.9 286.2v16.4M1450.0 294.2v17.8M1457.0 295.8v19.9M1465.7 294.8v18.4M1424.7 295.8v19.8M1467.4 305.7v19.1M1427.3 304.6v19.7M1434.3 309.2v19.3M1423.8 312.1v20.3M1410.3 315.8v20.9M1430.8 313.6v20.9M1420.3 322.3v20.9M1409.8 337.1v24.4M1419.4 338.0v24.4M1428.5 346.2v26.2M1408.9 360.7v29.7M1404.6 365.9v29.7M1421.2 363.3v29.7M1414.2 367.7v29.7M1421.2 372.9v31.4M1506.7 361.9v33.2M1474.1 375.2v34.9M1412.1 381.7v34.9M1412.1 391.3v36.7M1444.7 391.3v38.4M1473.5 391.3v38.4M1474.1 402.6v40.2M1408.9 409.6v41.9M1447.9 408.7v43.6M1451.7 430.0v50.6M1625.5 218.5v12.6M1625.0 229.5v13.2M1625.5 239.5v14.2M1613.3 282.2v17.7M1706.7 236.8v14.2M1699.7 239.7v13.7M1705.8 251.2v13.5M1707.6 256.2v13.9M1763.5 214.4v12.0M1801.9 219.5v12.2M1835.0 221.8v12.8M1767.0 234.4v12.0M1772.2 231.8v13.7M1760.0 237.6v12.7M1754.7 240.0v13.0M1787.0 236.7v12.7M1845.5 237.7v12.6M1835.0 244.5v14.6M1804.0 246.7v13.6M1767.0 253.2v14.6M1754.7 253.6v15.6M1845.5 250.9v14.0M1859.5 247.6v13.7M1773.9 259.2v14.9M1784.4 264.7v14.4M1761.7 268.1v14.6M1753.9 271.4v15.0M1852.5 271.1v15.5M1859.5 264.1v15.6M1847.3 278.9v15.6M1808.0 279.6v17.7M1767.0 283.0v16.1M1791.4 285.7v16.0M1613.3 284.6v16.1M1613.3 296.8v17.7M1624.7 298.4v19.2M1613.3 302.4v18.8M1613.3 318.2v20.3M1698.9 297.0v17.5M1705.8 296.1v17.5M1705.3 308.3v19.2M1705.0 330.2v24.4M1712.8 330.2v24.4M1712.5 344.1v26.2M1712.5 351.1v27.9M1767.8 285.4v16.1M1791.4 289.3v18.8M1815.8 292.5v17.7M1761.7 296.9v19.5M1767.0 302.4v20.6M1772.2 309.4v18.8M1794.9 309.0v21.4M1739.9 313.0v20.9M1760.8 320.2v21.6M1786.2 318.1v22.4M1794.9 321.7v20.3M1833.3 309.9v19.5M1843.8 304.5v18.1M1838.5 318.7v19.4M1801.9 327.3v21.4M1849.0 329.2v21.0M1811.5 331.9v26.2M1776.6 337.6v21.8M1801.0 339.3v21.9M1760.0 342.8v23.6M1765.2 347.3v25.1M1799.2 341.7v25.8M1777.4 353.2v25.5M1797.5 354.6v27.9M1843.8 353.3v23.5M1849.9 349.5v24.1M1839.4 358.7v24.9M1854.2 359.7v28.2M1760.0 367.6v29.9M1767.0 367.1v27.3M1838.5 370.1v30.1M1845.5 373.4v27.0M1850.7 376.2v26.7M1763.5 387.8v34.9M1752.1 395.6v36.7M1762.6 393.0v36.7M1798.0 407.0v41.9M1751.2 429.7v48.9M1804.0 434.4v48.9M1834.5 464.1v55.9M1867.8 270.8v16.1M1862.6 261.0v14.8M1885.8 282.9v16.3M1885.3 284.1v17.0M1862.6 288.0v18.0M1869.5 329.7v21.8M1867.4 348.2v24.9M1885.3 352.1v25.9M1869.5 359.9v27.8M1884.4 364.2v29.0M1870.4 368.5v29.8M1868.1 385.7v34.9M1897.8 385.1v34.9M1886.1 406.3v36.2M1905.0 403.8v38.4M1871.3 414.5v40.2M1892.2 414.6v37.2M1887.0 420.4v35.9M1905.3 415.7v40.2M1894.0 425.6v36.1M1883.5 427.1v40.1M1869.5 432.3v43.6M1888.7 434.6v42.5M1894.0 445.0v40.9M1886.1 448.3v43.1M1872.2 451.7v43.2M1896.6 454.1v42.0M1888.7 455.5v44.3M1896.6 462.3v52.4M1900.1 475.1v54.1M1899.7 494.3v59.4M1975.9 351.6v31.4" stroke="#d62728" stroke-width="2.1" stroke-opacity="0.75" fill="none"/><path d="M333.6 105.8h0M244.2 121.7h0M250.5 138.8h0M329.6 132.3h0M317.4 139.2h0M326.7 142.2h0M286.4 149.6h0M290.3 155.5h0M333.0 155.1h0M392.5 131.0h0M231.8 165.3h0M228.9 169.3h0M284.5 165.3h0M293.3 165.3h0M320.2 165.3h0M435.7 159.8h0M432.3 163.4h0M299.2 177.1h0M241.2 186.9h0M247.1 189.9h0M265.2 192.4h0M274.6 194.2h0M271.7 201.7h0M329.6 187.9h0M335.5 186.0h0M341.4 186.0h0M345.3 183.4h0M351.2 195.8h0M238.3 203.6h0M305.5 208.9h0M280.9 213.5h0M323.3 213.5h0M333.6 209.5h0M296.2 225.8h0M311.4 227.2h0M420.0 212.1h0M401.3 218.4h0M420.0 221.3h0M411.1 226.8h0M454.7 226.8h0M457.7 236.0h0M397.8 241.5h0M339.1 243.3h0M235.4 246.3h0M446.5 247.8h0M450.4 253.7h0M331.2 256.7h0M428.4 261.2h0M405.2 273.9h0M262.8 290.6h0M268.3 295.9h0M308.4 302.2h0M438.4 295.5h0M253.4 314.0h0M259.5 316.0h0M314.5 334.2h0M278.0 353.4h0M732.8 145.4h0M736.8 157.2h0M729.5 166.1h0M732.4 176.9h0M759.3 175.9h0M825.5 178.8h0M755.0 193.2h0M717.7 198.1h0M729.9 199.4h0M876.2 200.4h0M594.6 207.3h0M730.9 208.3h0M718.5 215.2h0M738.7 215.2h0M757.4 212.2h0M763.3 215.2h0M768.2 220.1h0M773.1 223.0h0M771.1 226.0h0M594.6 222.0h0M594.6 231.3h0M594.6 240.7h0M622.8 226.0h0M698.9 226.5h0M707.3 233.2h0M733.8 231.3h0M860.5 224.0h0M863.4 224.6h0M845.4 231.8h0M642.5 239.7h0M658.2 239.3h0M684.1 241.7h0M878.2 240.7h0M748.0 240.1h0M636.2 248.5h0M668.6 252.1h0M734.4 248.0h0M773.5 259.0h0M798.8 263.7h0M726.9 276.0h0M726.5 280.9h0M712.8 287.8h0M753.1 283.9h0M757.4 286.8h0M743.6 296.7h0M728.5 299.2h0M848.7 300.6h0M866.4 298.0h0M876.2 296.7h0M876.8 304.5h0M737.7 304.5h0M745.6 305.5h0M746.6 312.4h0M651.7 312.8h0M766.2 313.4h0M757.4 316.3h0M782.5 316.3h0M876.2 317.3h0M727.9 320.2h0M678.8 316.3h0M781.5 327.5h0M827.5 328.7h0M752.5 329.1h0M741.7 333.0h0M749.5 337.9h0M629.1 338.9h0M693.6 337.3h0M784.5 342.8h0M842.4 342.8h0M802.0 346.4h0M633.1 347.7h0M664.7 352.6h0M681.2 351.3h0M817.3 353.6h0M762.3 354.0h0M827.1 357.5h0M625.8 360.5h0M770.5 359.9h0M646.4 364.0h0M619.9 375.2h0M687.3 375.2h0M830.4 377.2h0M851.7 378.2h0M661.7 385.8h0M702.4 383.6h0M705.3 402.3h0M1208.9 43.5h0M1229.0 45.8h0M1205.4 72.0h0M1228.7 79.8h0M1239.8 67.6h0M1085.0 92.1h0M1100.3 88.6h0M1134.7 86.8h0M1208.9 90.7h0M1177.5 101.7h0M1193.2 108.3h0M1084.1 107.4h0M1234.2 106.0h0M1232.5 112.1h0M1239.8 114.7h0M1088.5 121.4h0M965.7 127.3h0M966.8 130.5h0M1181.9 127.0h0M1192.3 130.5h0M1126.0 131.0h0M1092.0 135.2h0M1204.6 135.7h0M1174.9 138.0h0M965.7 138.3h0M1071.0 139.2h0M1197.6 140.9h0M966.8 144.4h0M965.7 148.8h0M1075.4 144.4h0M1085.0 151.4h0M1096.3 154.0h0M1087.6 158.4h0M1174.0 148.8h0M1054.4 159.3h0M1042.2 164.5h0M1114.7 159.8h0M1134.4 156.6h0M1117.3 165.4h0M1086.7 164.5h0M1059.7 167.1h0M1070.1 168.9h0M1136.5 163.6h0M1143.5 168.9h0M1160.0 165.4h0M1171.4 170.6h0M1190.6 163.6h0M1201.9 168.9h0M1197.6 177.6h0M965.7 166.2h0M1010.8 180.2h0M1071.9 179.3h0M1117.3 182.8h0M1142.1 184.6h0M1171.4 179.3h0M1050.9 187.2h0M1103.3 187.2h0M1039.6 191.6h0M1075.4 190.7h0M1143.5 195.1h0M1030.9 196.8h0M1056.2 195.9h0M1012.0 198.5h0M1101.6 198.5h0M1155.7 199.4h0M961.4 199.4h0M967.1 202.0h0M1034.3 205.5h0M961.4 208.1h0M1090.2 205.5h0M1108.5 202.0h0M1148.7 202.0h0M1201.1 198.5h0M1098.9 208.1h0M1128.6 209.9h0M1061.4 211.6h0M1040.5 212.5h0M1188.0 208.1h0M1126.0 216.0h0M1140.8 215.1h0M1112.9 218.6h0M1047.4 218.6h0M1152.2 218.6h0M1008.2 219.5h0M1173.1 219.5h0M1181.9 217.7h0M1187.1 220.4h0M1014.3 224.7h0M967.1 223.9h0M994.7 225.6h0M1088.5 225.6h0M1131.2 224.7h0M1051.8 228.2h0M1030.0 230.0h0M1035.2 229.1h0M1102.4 227.3h0M1117.3 230.0h0M1029.1 234.3h0M1094.6 235.2h0M1108.5 235.2h0M1126.0 234.3h0M1132.1 233.5h0M1086.7 238.7h0M1194.1 240.4h0M1050.1 237.0h0M1147.0 240.4h0M1101.6 240.4h0M1114.7 240.4h0M1048.3 243.9h0M1120.8 243.9h0M1073.6 247.4h0M1145.2 245.7h0M1094.6 248.3h0M1156.6 247.4h0M1196.7 250.0h0M1092.0 254.4h0M1055.8 254.4h0M1073.6 256.2h0M1148.7 257.9h0M1031.7 263.1h0M1043.4 262.3h0M1092.0 261.4h0M1105.1 264.9h0M1087.6 267.5h0M1182.7 265.8h0M1030.0 268.4h0M1024.7 276.2h0M1068.4 277.1h0M1059.7 278.8h0M1180.1 276.2h0M1038.7 279.7h0M1026.5 282.3h0M1120.8 282.3h0M1068.4 285.8h0M1056.2 289.3h0M961.4 292.8h0M1017.8 293.7h0M1150.4 290.2h0M1162.7 292.8h0M1174.9 289.3h0M1047.4 293.7h0M961.4 295.2h0M961.4 301.3h0M1016.9 297.0h0M1029.1 297.9h0M1023.0 306.6h0M1043.9 296.1h0M1052.7 295.2h0M1070.1 292.6h0M1056.2 302.2h0M1059.7 307.5h0M1043.9 311.8h0M1064.0 312.7h0M1121.6 290.0h0M1150.4 293.5h0M1160.9 297.0h0M1175.8 291.7h0M1180.1 301.9h0M1155.7 298.7h0M1162.7 302.2h0M998.9 323.2h0M1024.7 321.4h0M1025.6 327.5h0M1165.3 317.9h0M1163.5 324.0h0M1176.6 325.8h0M1023.0 334.5h0M1016.9 337.1h0M1162.7 333.6h0M1057.0 335.4h0M1039.6 340.6h0M1037.0 345.9h0M1045.7 346.7h0M1055.3 345.9h0M1064.0 349.4h0M1015.1 353.2h0M1040.5 353.7h0M1035.2 357.2h0M1057.9 359.0h0M1020.4 365.1h0M1052.7 365.1h0M1028.2 366.8h0M1036.1 365.1h0M1032.6 370.3h0M1064.0 370.0h0M1059.7 382.5h0M1064.9 388.6h0M1039.6 392.1h0M1113.8 388.3h0M1067.2 403.0h0M1059.7 409.6h0M1066.1 434.4h0M1149.4 439.6h0M1064.9 465.5h0M1105.4 467.2h0M1064.9 484.3h0M1031.4 563.6h0M1116.7 569.3h0M1244.0 62.4h0M1254.4 72.0h0M1256.2 83.3h0M1253.6 93.8h0M1242.2 102.5h0M1256.2 106.0h0M1247.5 111.3h0M1256.2 114.7h0M1240.5 116.5h0M1250.9 123.5h0M1256.2 128.7h0M1243.1 132.2h0M1242.2 138.3h0M1257.1 143.0h0M1245.7 189.5h0M1242.7 273.6h0M1332.5 38.8h0M1332.5 46.7h0M1332.5 58.9h0M1328.6 78.1h0M1334.7 82.4h0M1326.9 101.7h0M1339.1 106.9h0M1329.5 111.3h0M1336.5 116.5h0M1326.0 114.7h0M1338.2 123.5h0M1328.6 129.6h0M1334.7 135.7h0M1339.1 139.2h0M1329.5 152.3h0M1329.5 170.6h0M1337.7 189.5h0M1337.7 216.0h0M1334.7 286.7h0M1388.5 49.8h0M1375.4 83.3h0M1508.5 52.8h0M1508.5 63.2h0M1513.2 87.7h0M1519.8 97.8h0M1441.6 104.3h0M1480.5 113.9h0M1378.4 115.6h0M1504.1 118.2h0M1432.5 123.1h0M1447.3 125.2h0M1462.2 127.8h0M1470.9 130.5h0M1479.6 132.2h0M1514.6 123.5h0M1374.0 136.0h0M1380.1 135.7h0M1432.5 137.4h0M1521.5 144.4h0M1376.6 149.7h0M1457.0 147.9h0M1444.7 154.9h0M1465.7 154.9h0M1474.4 147.9h0M1488.4 154.9h0M1498.8 160.1h0M1374.9 156.6h0M1395.8 161.9h0M1433.4 163.6h0M1444.7 165.4h0M1455.2 169.7h0M1495.4 169.7h0M1421.2 175.8h0M1367.9 180.2h0M1408.1 180.2h0M1469.2 175.8h0M1460.4 182.0h0M1470.9 182.8h0M1487.5 180.2h0M1524.2 181.1h0M1381.9 184.6h0M1390.6 184.6h0M1447.3 188.9h0M1465.7 189.8h0M1513.7 190.7h0M1373.2 193.3h0M1385.4 193.3h0M1408.1 195.1h0M1486.6 194.2h0M1417.7 200.3h0M1457.0 201.2h0M1471.8 201.2h0M1525.0 200.3h0M1373.2 202.0h0M1429.0 207.3h0M1481.4 207.3h0M1381.9 209.0h0M1393.2 212.5h0M1505.8 212.5h0M1534.6 211.6h0M1423.8 213.4h0M1411.6 221.2h0M1446.5 222.1h0M1502.3 223.9h0M1486.6 225.6h0M1457.0 226.5h0M1411.6 229.1h0M1441.2 231.7h0M1511.1 231.7h0M1526.8 231.7h0M1500.6 235.2h0M1436.0 243.9h0M1444.7 245.7h0M1511.1 243.9h0M1519.8 249.2h0M1485.8 251.8h0M1511.1 254.4h0M1533.8 254.4h0M1441.2 259.6h0M1457.0 260.5h0M1514.6 261.4h0M1446.5 270.1h0M1534.6 274.5h0M1448.2 282.3h0M1487.5 284.1h0M1418.5 287.6h0M1453.5 289.3h0M1469.2 292.8h0M1444.7 297.0h0M1451.7 295.2h0M1460.4 296.1h0M1470.9 294.4h0M1450.0 303.1h0M1457.0 305.7h0M1465.7 304.0h0M1424.7 305.7h0M1467.4 315.3h0M1427.3 314.4h0M1434.3 318.8h0M1423.8 322.3h0M1410.3 326.3h0M1430.8 324.0h0M1420.3 332.8h0M1409.8 349.4h0M1419.4 350.2h0M1428.5 359.3h0M1408.9 375.5h0M1404.6 380.8h0M1421.2 378.2h0M1414.2 382.5h0M1421.2 388.6h0M1506.7 378.5h0M1474.1 392.7h0M1412.1 399.1h0M1412.1 409.6h0M1444.7 410.5h0M1473.5 410.5h0M1474.1 422.7h0M1408.9 430.5h0M1447.9 430.5h0M1451.7 455.3h0M1614.5 134.8h0M1615.4 154.5h0M1615.1 170.6h0M1625.5 182.3h0M1609.0 191.6h0M1615.1 195.9h0M1625.5 212.5h0M1625.5 224.7h0M1625.0 236.1h0M1625.5 246.6h0M1613.3 291.1h0M1701.5 141.8h0M1699.2 151.4h0M1707.6 154.0h0M1712.0 158.7h0M1700.6 161.9h0M1705.8 167.1h0M1712.0 173.2h0M1701.5 176.7h0M1707.6 180.2h0M1711.1 185.5h0M1700.6 188.1h0M1705.8 192.4h0M1710.2 195.9h0M1712.0 206.4h0M1706.7 212.5h0M1698.9 218.6h0M1705.0 222.1h0M1700.6 228.2h0M1707.6 230.8h0M1706.7 243.9h0M1699.7 246.6h0M1705.8 257.9h0M1707.6 263.1h0M1739.0 215.1h0M1792.3 103.4h0M1844.6 116.5h0M1813.2 132.2h0M1856.9 134.8h0M1805.4 141.8h0M1817.6 144.4h0M1831.5 148.8h0M1781.8 156.6h0M1791.4 155.8h0M1813.2 160.1h0M1781.8 165.4h0M1833.3 173.2h0M1791.4 170.6h0M1840.3 170.6h0M1859.5 167.1h0M1775.7 180.2h0M1805.4 176.7h0M1798.4 182.0h0M1856.9 180.2h0M1802.7 189.8h0M1775.7 195.1h0M1837.7 195.1h0M1857.7 195.1h0M1767.0 202.9h0M1796.6 202.0h0M1794.9 209.9h0M1805.4 210.8h0M1816.7 209.9h0M1763.5 220.4h0M1765.2 227.3h0M1836.8 219.5h0M1777.4 228.2h0M1794.9 225.6h0M1801.9 225.6h0M1835.0 228.2h0M1767.0 240.4h0M1772.2 238.7h0M1760.0 243.9h0M1754.7 246.6h0M1787.0 243.1h0M1852.5 235.2h0M1845.5 243.9h0M1835.0 251.8h0M1804.0 253.5h0M1767.0 260.5h0M1754.7 261.4h0M1845.5 257.9h0M1859.5 254.4h0M1773.9 266.6h0M1784.4 271.9h0M1761.7 275.4h0M1753.9 278.8h0M1852.5 278.8h0M1859.5 271.9h0M1847.3 286.7h0M1808.0 288.5h0M1767.0 291.1h0M1791.4 293.7h0M1613.3 292.6h0M1613.3 305.7h0M1624.7 308.0h0M1613.3 311.8h0M1613.3 328.4h0M1698.9 305.7h0M1705.8 304.8h0M1705.3 317.9h0M1705.0 342.4h0M1712.8 342.4h0M1712.5 357.2h0M1712.5 365.1h0M1767.8 293.5h0M1791.4 298.7h0M1815.8 301.3h0M1761.7 306.6h0M1767.0 312.7h0M1772.2 318.8h0M1794.9 319.7h0M1739.9 323.5h0M1760.8 331.0h0M1786.2 329.3h0M1794.9 331.9h0M1833.3 319.7h0M1843.8 313.6h0M1838.5 328.4h0M1801.9 338.0h0M1849.0 339.8h0M1811.5 345.0h0M1776.6 348.5h0M1801.0 350.2h0M1760.0 354.6h0M1765.2 359.8h0M1799.2 354.6h0M1777.4 365.9h0M1797.5 368.6h0M1843.8 365.1h0M1849.9 361.6h0M1839.4 371.2h0M1854.2 373.8h0M1760.0 382.5h0M1767.0 380.8h0M1838.5 385.1h0M1845.5 386.9h0M1850.7 389.5h0M1763.5 405.2h0M1752.1 413.9h0M1762.6 411.3h0M1798.0 427.9h0M1751.2 454.1h0M1804.0 458.8h0M1834.5 492.0h0M1928.0 32.7h0M1986.2 77.7h0M1959.5 85.1h0M1928.9 100.4h0M1918.4 103.4h0M1925.4 111.3h0M1926.3 118.2h0M1927.2 125.2h0M1923.7 132.2h0M1918.4 139.2h0M1961.7 135.7h0M1942.3 142.2h0M1971.7 146.2h0M1965.6 149.7h0M1957.7 155.8h0M1918.8 165.0h0M1949.5 178.8h0M1866.1 195.9h0M1860.8 202.0h0M1861.7 213.4h0M1867.8 278.8h0M1862.6 268.4h0M1885.8 291.1h0M1885.3 292.6h0M1862.6 297.0h0M1869.5 340.6h0M1867.4 360.7h0M1885.3 365.1h0M1869.5 373.8h0M1884.4 378.7h0M1870.4 383.4h0M1868.1 403.1h0M1897.8 402.6h0M1886.1 424.4h0M1905.0 423.0h0M1871.3 434.5h0M1892.2 433.2h0M1887.0 438.4h0M1905.3 435.8h0M1894.0 443.6h0M1883.5 447.1h0M1869.5 454.1h0M1888.7 455.8h0M1894.0 465.5h0M1886.1 469.8h0M1872.2 473.3h0M1896.6 475.1h0M1888.7 477.7h0M1896.6 488.5h0M1900.1 502.1h0M1899.7 523.9h0M1975.9 367.3h0M1237.0 69.4h0M1247.5 79.8h0M1240.5 88.6h0M1249.2 100.8h0M1237.0 107.8h0M1252.7 109.5h0M1245.7 120.0h0M1238.7 125.2h0M1252.7 135.7h0M1247.5 130.5h0M1235.2 114.7h0M1257.9 121.7h0M1333.0 104.3h0M1334.7 113.0h0M1331.3 121.7h0M1336.5 128.7h0M1333.0 132.2h0" stroke="#d62728" stroke-width="12.9" stroke-linecap="round" fill="none"/><path d="M295.3 206.6v13.7M397.8 197.5v14.2M390.5 226.9v17.2M331.6 239.4v16.8M331.2 245.1v17.3M313.5 271.0v19.6M304.1 277.7v19.6M393.8 375.0v43.2M669.6 175.4v12.7M738.7 177.3v13.6M707.3 184.3v12.7M682.2 206.6v16.0M702.4 212.5v15.9M734.8 213.8v16.5M666.1 244.8v19.4M640.5 249.0v18.8M644.5 276.0v15.7M636.2 285.9v17.7M716.5 284.9v17.7M659.6 295.3v17.7M673.9 299.0v17.7M687.1 298.2v17.7M686.1 304.5v19.6M670.0 308.1v19.6M677.8 314.7v21.6M650.3 374.0v39.3M654.9 392.0v45.2M1197.9 178.7v13.6M1188.8 193.9v13.6M1164.4 223.9v15.6M1150.4 389.5v47.1M1428.1 167.9v12.4M1440.4 195.2v13.7M1450.0 201.6v14.9M1456.1 209.0v14.0M1416.4 208.4v15.9M1435.5 208.8v14.5M1525.9 201.1v15.2M1461.7 241.3v19.1M1472.3 248.0v18.0M1375.4 270.7v20.4M1431.3 274.3v20.5M1408.9 281.5v22.7M1408.9 282.3v22.4M1412.4 336.6v31.4M1446.8 381.1v45.4M1808.3 160.1v12.3M1788.8 169.7v12.3M1851.6 204.0v14.2M1848.1 216.4v16.7M1844.6 219.1v16.5M1749.5 247.0v17.3M1812.3 266.8v19.6M1798.4 281.6v22.3M1798.9 285.9v22.8M1855.1 306.9v24.4M1752.1 311.8v27.9M1750.4 333.3v33.2M1750.4 346.7v34.9M1781.8 342.7v33.2M1736.9 349.7v36.7M1774.5 376.4v40.2M1771.7 403.0v48.9M1885.8 232.8v17.1M1870.1 298.7v22.7M1854.7 307.1v24.4M1888.7 324.0v27.9M1867.3 330.2v29.7M1892.6 342.0v33.2M1905.0 344.5v33.2M1880.0 351.5v34.9" stroke="#800080" stroke-width="2.1" stroke-opacity="0.75" fill="none"/><path d="M299.2 99.5h0M327.7 105.8h0M280.9 120.8h0M350.2 122.7h0M389.5 119.8h0M395.4 122.1h0M385.2 129.6h0M286.4 135.3h0M290.9 139.8h0M335.9 136.9h0M309.4 147.7h0M344.9 145.3h0M360.5 155.5h0M273.6 163.0h0M339.8 162.4h0M350.2 168.3h0M323.3 168.9h0M295.3 213.5h0M397.8 204.6h0M390.5 235.5h0M331.6 247.8h0M331.2 253.7h0M313.5 280.8h0M304.1 287.5h0M393.8 396.6h0M720.7 96.7h0M730.9 134.6h0M669.6 181.8h0M738.7 184.1h0M707.3 190.6h0M682.2 214.6h0M702.4 220.5h0M734.8 222.0h0M666.1 254.4h0M640.5 258.4h0M644.5 283.9h0M636.2 294.7h0M716.5 293.7h0M659.6 304.1h0M673.9 307.9h0M687.1 307.1h0M686.1 314.3h0M670.0 317.9h0M677.8 325.5h0M650.3 393.6h0M654.9 414.6h0M1231.6 44.0h0M1203.7 74.2h0M1157.4 110.9h0M1161.4 123.1h0M1206.8 123.5h0M1177.5 156.6h0M1181.3 164.5h0M1201.1 158.4h0M1197.9 185.5h0M1188.8 200.6h0M1164.4 231.7h0M1150.4 413.1h0M1392.7 33.6h0M1360.1 75.8h0M1459.0 83.0h0M1485.8 105.1h0M1492.7 106.0h0M1384.5 114.7h0M1443.3 113.9h0M1515.8 111.3h0M1534.1 115.6h0M1488.4 131.9h0M1500.6 134.8h0M1507.6 133.9h0M1521.9 134.3h0M1388.5 135.7h0M1495.4 143.6h0M1465.7 144.4h0M1420.3 143.6h0M1425.5 149.7h0M1398.5 147.6h0M1503.2 150.5h0M1479.3 154.0h0M1452.6 159.8h0M1428.1 174.1h0M1440.4 202.0h0M1450.0 209.0h0M1456.1 216.0h0M1416.4 216.4h0M1435.5 216.0h0M1525.9 208.7h0M1461.7 250.9h0M1472.3 257.0h0M1375.4 280.9h0M1431.3 284.6h0M1408.9 292.8h0M1408.9 293.5h0M1412.4 352.3h0M1446.8 403.8h0M1792.8 94.1h0M1802.4 103.4h0M1832.8 101.1h0M1835.4 117.4h0M1816.4 124.7h0M1859.1 121.7h0M1777.4 132.7h0M1785.8 146.5h0M1796.1 147.0h0M1838.9 155.8h0M1842.9 167.1h0M1808.3 166.2h0M1788.8 175.8h0M1851.6 211.1h0M1848.1 224.7h0M1844.6 227.3h0M1749.5 255.6h0M1812.3 276.6h0M1798.4 292.8h0M1798.9 297.3h0M1855.1 319.2h0M1752.1 325.8h0M1750.4 349.9h0M1750.4 364.2h0M1781.8 359.3h0M1736.9 368.0h0M1774.5 396.5h0M1771.7 427.4h0M1885.8 241.3h0M1870.1 310.1h0M1854.7 319.3h0M1888.7 338.0h0M1867.3 345.0h0M1892.6 358.6h0M1905.0 361.1h0M1880.0 368.9h0" stroke="#800080" stroke-width="12.9" stroke-linecap="round" fill="none"/></g>
<rect x="141.2" y="1.5" width="1932.8" height="639.7" fill="none" stroke="#000" stroke-width="3.33"/>
<path d="M210.0 641.2v14.6" stroke="#000" stroke-width="3.33"/>
<text x="210.0" y="693.5" text-anchor="middle" textLength="52.5" lengthAdjust="spacingAndGlyphs">250</text>
<path d="M464.5 641.2v14.6" stroke="#000" stroke-width="3.33"/>
<text x="464.5" y="693.5" text-anchor="middle" textLength="52.5" lengthAdjust="spacingAndGlyphs">500</text>
<path d="M719.1 641.2v14.6" stroke="#000" stroke-width="3.33"/>
<text x="719.1" y="693.5" text-anchor="middle" textLength="52.5" lengthAdjust="spacingAndGlyphs">750</text>
<path d="M973.6 641.2v14.6" stroke="#000" stroke-width="3.33"/>
<text x="973.6" y="693.5" text-anchor="middle" textLength="69.9" lengthAdjust="spacingAndGlyphs">1000</text>
<path d="M1228.1 641.2v14.6" stroke="#000" stroke-width="3.33"/>
<text x="1228.1" y="693.5" text-anchor="middle" textLength="69.9" lengthAdjust="spacingAndGlyphs">1250</text>
<path d="M1482.6 641.2v14.6" stroke="#000" stroke-width="3.33"/>
<text x="1482.6" y="693.5" text-anchor="middle" textLength="69.9" lengthAdjust="spacingAndGlyphs">1500</text>
<path d="M1737.2 641.2v14.6" stroke="#000" stroke-width="3.33"/>
<text x="1737.2" y="693.5" text-anchor="middle" textLength="69.9" lengthAdjust="spacingAndGlyphs">1750</text>
<path d="M1991.7 641.2v14.6" stroke="#000" stroke-width="3.33"/>
<text x="1991.7" y="693.5" text-anchor="middle" textLength="69.9" lengthAdjust="spacingAndGlyphs">2000</text>
<path d="M141.2 11.1h-14.6" stroke="#000" stroke-width="3.33"/>
<text x="112.1" y="23.1" text-anchor="end" textLength="35.0" lengthAdjust="spacingAndGlyphs">17</text>
<path d="M141.2 129.7h-14.6" stroke="#000" stroke-width="3.33"/>
<text x="112.1" y="141.7" text-anchor="end" textLength="35.0" lengthAdjust="spacingAndGlyphs">18</text>
<path d="M141.2 248.2h-14.6" stroke="#000" stroke-width="3.33"/>
<text x="112.1" y="260.2" text-anchor="end" textLength="35.0" lengthAdjust="spacingAndGlyphs">19</text>
<path d="M141.2 366.8h-14.6" stroke="#000" stroke-width="3.33"/>
<text x="112.1" y="378.8" text-anchor="end" textLength="35.0" lengthAdjust="spacingAndGlyphs">20</text>
<path d="M141.2 485.3h-14.6" stroke="#000" stroke-width="3.33"/>
<text x="112.1" y="497.3" text-anchor="end" textLength="35.0" lengthAdjust="spacingAndGlyphs">21</text>
<path d="M141.2 603.9h-14.6" stroke="#000" stroke-width="3.33"/>
<text x="112.1" y="615.9" text-anchor="end" textLength="35.0" lengthAdjust="spacingAndGlyphs">22</text>
<text><tspan x="945.8" y="740.8" textLength="80.2" lengthAdjust="spacingAndGlyphs">Time</tspan> <tspan x="1039.8" y="740.8" textLength="228.4" lengthAdjust="spacingAndGlyphs">(BJD-2458000)</tspan></text>
<text transform="translate(52.9 323) rotate(-90)" text-anchor="middle" textLength="250" lengthAdjust="spacingAndGlyphs">Magnitude (AB)</text>
<g clip-path="url(#c2)"><path d="M760.2 1036.6v32.0M761.9 1041.4v32.0M233.5 1085.0v29.8M724.8 1094.1v29.2M225.1 1100.8v28.8M229.3 1102.5v28.7M272.0 1108.5v28.4M277.3 1136.9v26.7M205.9 1140.1v26.5M275.0 1139.8v26.5M704.8 1143.5v26.3M240.2 1153.9v25.7M686.4 1157.2v25.5M698.7 1158.1v25.5M704.0 1157.2v25.5M223.5 1162.8v25.2M239.0 1163.8v25.1M822.4 1158.8v25.4M222.4 1166.5v25.0M338.0 1170.6v24.7M672.2 1167.1v24.9M881.5 1165.5v25.0M912.0 1170.4v24.8M221.2 1173.8v24.6M261.3 1172.8v24.6M749.5 1172.1v24.7M809.1 1172.6v24.6M271.7 1179.7v24.2M1042.7 1180.1v24.2M220.5 1184.9v23.9M839.7 1188.0v23.7M863.1 1184.6v23.9M916.2 1187.7v23.7M1031.3 1183.4v24.0M1068.6 1185.7v23.9M326.3 1190.0v23.6M803.6 1190.2v23.6M968.1 1189.2v23.7M276.3 1197.8v23.1M291.2 1200.2v23.0M801.5 1196.8v23.2M899.3 1200.9v23.0M202.7 1212.2v22.3M302.9 1208.0v22.6M926.8 1210.9v22.4M321.4 1214.3v22.2M417.0 1217.8v22.0M570.6 1219.4v21.9M960.7 1218.2v22.0M440.9 1220.4v21.8M571.4 1223.7v21.6M876.5 1223.0v21.7M957.8 1221.4v21.8M990.0 1226.2v21.5M1014.3 1226.1v21.5M1063.4 1222.5v21.7M216.5 1231.0v21.2M634.4 1230.1v21.3M647.8 1228.1v21.4M650.4 1232.3v21.1M955.1 1228.3v21.4M325.4 1234.0v21.0M1004.1 1238.5v20.8M216.0 1242.1v20.6M371.3 1245.4v20.4M400.7 1248.9v20.2M699.3 1250.4v20.1M864.0 1248.3v20.2M319.3 1251.7v20.0M680.1 1255.1v19.8M522.9 1261.8v19.4M1012.7 1260.1v19.5M485.1 1263.5v19.3M617.3 1265.0v19.2M353.6 1271.1v18.9M433.3 1275.5v18.6M461.8 1270.4v18.9M538.5 1274.6v18.6M1055.4 1270.3v18.9M421.6 1280.8v18.3M540.1 1276.6v18.5M554.3 1277.1v18.5M944.7 1281.3v18.3M957.4 1277.9v18.5M658.2 1284.9v18.0M1002.6 1285.6v18.0M501.7 1292.2v17.6M660.8 1294.1v17.5M922.5 1288.4v17.8M1031.4 1292.7v17.6M529.7 1299.7v17.2M362.0 1301.4v17.1M660.9 1305.9v16.8M1035.4 1301.9v17.1M1038.9 1302.6v17.0M409.3 1309.6v16.6M561.8 1311.7v16.5M662.3 1307.5v16.7M433.3 1321.0v15.9M456.2 1326.2v15.6M1726.6 1036.6v32.0M1728.3 1041.4v32.0M1199.9 1085.0v29.8M1691.2 1094.1v29.2M1191.5 1100.8v28.8M1195.7 1102.5v28.7M1238.4 1108.5v28.4M1243.7 1136.9v26.7M1172.3 1140.1v26.5M1241.4 1139.8v26.5M1671.2 1143.5v26.3M1206.6 1153.9v25.7M1652.8 1157.2v25.5M1665.1 1158.1v25.5M1670.4 1157.2v25.5M1189.9 1162.8v25.2M1205.4 1163.8v25.1M1788.8 1158.8v25.4M1188.8 1166.5v25.0M1304.4 1170.6v24.7M1638.6 1167.1v24.9M1847.9 1165.5v25.0M1878.4 1170.4v24.8M1187.6 1173.8v24.6M1227.7 1172.8v24.6M1715.9 1172.1v24.7M1775.5 1172.6v24.6M1238.1 1179.7v24.2M2009.1 1180.1v24.2M1186.9 1184.9v23.9M1806.1 1188.0v23.7M1829.5 1184.6v23.9M1882.6 1187.7v23.7M1997.7 1183.4v24.0M2035.0 1185.7v23.9M1292.7 1190.0v23.6M1770.0 1190.2v23.6M1934.5 1189.2v23.7M1242.7 1197.8v23.1M1257.6 1200.2v23.0M1767.9 1196.8v23.2M1865.7 1200.9v23.0M1169.1 1212.2v22.3M1269.3 1208.0v22.6M1893.2 1210.9v22.4M1287.8 1214.3v22.2M1383.4 1217.8v22.0M1537.0 1219.4v21.9M1927.1 1218.2v22.0M1407.3 1220.4v21.8M1537.8 1223.7v21.6M1842.9 1223.0v21.7M1924.2 1221.4v21.8M1956.4 1226.2v21.5M1980.7 1226.1v21.5M2029.8 1222.5v21.7M1182.9 1231.0v21.2M1600.8 1230.1v21.3M1614.2 1228.1v21.4M1616.8 1232.3v21.1M1921.5 1228.3v21.4M1291.8 1234.0v21.0M1970.5 1238.5v20.8M1182.4 1242.1v20.6M1337.7 1245.4v20.4M1367.1 1248.9v20.2M1665.7 1250.4v20.1M1830.4 1248.3v20.2M1285.7 1251.7v20.0M1646.5 1255.1v19.8M1489.3 1261.8v19.4M1979.1 1260.1v19.5M1451.5 1263.5v19.3M1583.7 1265.0v19.2M1320.0 1271.1v18.9M1399.7 1275.5v18.6M1428.2 1270.4v18.9M1504.9 1274.6v18.6M2021.8 1270.3v18.9M1388.0 1280.8v18.3M1506.5 1276.6v18.5M1520.7 1277.1v18.5M1911.1 1281.3v18.3M1923.8 1277.9v18.5M1624.6 1284.9v18.0M1969.0 1285.6v18.0M1468.1 1292.2v17.6M1627.2 1294.1v17.5M1888.9 1288.4v17.8M1997.8 1292.7v17.6M1496.1 1299.7v17.2M1328.4 1301.4v17.1M1627.3 1305.9v16.8M2001.8 1301.9v17.1M2005.3 1302.6v17.0M1375.7 1309.6v16.6M1528.2 1311.7v16.5M1628.7 1307.5v16.7M1399.7 1321.0v15.9M1422.6 1326.2v15.6" stroke="#2ca02c" stroke-width="2.1" stroke-opacity="0.5" fill="none"/><path d="M760.2 1052.6h0M761.9 1057.4h0M233.5 1099.8h0M724.8 1108.7h0M225.1 1115.2h0M229.3 1116.9h0M272.0 1122.7h0M277.3 1150.2h0M205.9 1153.4h0M275.0 1153.0h0M704.8 1156.7h0M240.2 1166.7h0M686.4 1169.9h0M698.7 1170.8h0M704.0 1170.0h0M223.5 1175.4h0M239.0 1176.4h0M822.4 1171.5h0M222.4 1178.9h0M338.0 1183.0h0M672.2 1179.6h0M881.5 1178.1h0M912.0 1182.7h0M221.2 1186.1h0M261.3 1185.1h0M749.5 1184.4h0M809.1 1184.9h0M271.7 1191.8h0M1042.7 1192.2h0M220.5 1196.9h0M839.7 1199.9h0M863.1 1196.6h0M916.2 1199.6h0M1031.3 1195.4h0M1068.6 1197.7h0M326.3 1201.8h0M803.6 1202.0h0M968.1 1201.0h0M276.3 1209.4h0M291.2 1211.7h0M801.5 1208.4h0M899.3 1212.3h0M202.7 1223.4h0M302.9 1219.2h0M926.8 1222.1h0M321.4 1225.4h0M417.0 1228.8h0M570.6 1230.3h0M960.7 1229.2h0M440.9 1231.3h0M571.4 1234.5h0M876.5 1233.8h0M957.8 1232.3h0M990.0 1236.9h0M1014.3 1236.9h0M1063.4 1233.4h0M216.5 1241.6h0M634.4 1240.8h0M647.8 1238.8h0M650.4 1242.8h0M955.1 1239.0h0M325.4 1244.5h0M1004.1 1248.9h0M216.0 1252.3h0M371.3 1255.5h0M400.7 1259.0h0M699.3 1260.5h0M864.0 1258.4h0M319.3 1261.7h0M680.1 1265.0h0M522.9 1271.5h0M1012.7 1269.8h0M485.1 1273.1h0M617.3 1274.6h0M353.6 1280.6h0M433.3 1284.8h0M461.8 1279.8h0M538.5 1283.9h0M1055.4 1279.8h0M421.6 1289.9h0M540.1 1285.8h0M554.3 1286.3h0M944.7 1290.4h0M957.4 1287.1h0M658.2 1293.9h0M1002.6 1294.6h0M501.7 1301.1h0M660.8 1302.9h0M922.5 1297.3h0M1031.4 1301.5h0M529.7 1308.3h0M362.0 1309.9h0M660.9 1314.3h0M1035.4 1310.4h0M1038.9 1311.1h0M409.3 1317.9h0M561.8 1319.9h0M662.3 1315.9h0M433.3 1328.9h0M456.2 1334.0h0M1726.6 1052.6h0M1728.3 1057.4h0M1199.9 1099.8h0M1691.2 1108.7h0M1191.5 1115.2h0M1195.7 1116.9h0M1238.4 1122.7h0M1243.7 1150.2h0M1172.3 1153.4h0M1241.4 1153.0h0M1671.2 1156.7h0M1206.6 1166.7h0M1652.8 1169.9h0M1665.1 1170.8h0M1670.4 1170.0h0M1189.9 1175.4h0M1205.4 1176.4h0M1788.8 1171.5h0M1188.8 1178.9h0M1304.4 1183.0h0M1638.6 1179.6h0M1847.9 1178.1h0M1878.4 1182.7h0M1187.6 1186.1h0M1227.7 1185.1h0M1715.9 1184.4h0M1775.5 1184.9h0M1238.1 1191.8h0M2009.1 1192.2h0M1186.9 1196.9h0M1806.1 1199.9h0M1829.5 1196.6h0M1882.6 1199.6h0M1997.7 1195.4h0M2035.0 1197.7h0M1292.7 1201.8h0M1770.0 1202.0h0M1934.5 1201.0h0M1242.7 1209.4h0M1257.6 1211.7h0M1767.9 1208.4h0M1865.7 1212.3h0M1169.1 1223.4h0M1269.3 1219.2h0M1893.2 1222.1h0M1287.8 1225.4h0M1383.4 1228.8h0M1537.0 1230.3h0M1927.1 1229.2h0M1407.3 1231.3h0M1537.8 1234.5h0M1842.9 1233.8h0M1924.2 1232.3h0M1956.4 1236.9h0M1980.7 1236.9h0M2029.8 1233.4h0M1182.9 1241.6h0M1600.8 1240.8h0M1614.2 1238.8h0M1616.8 1242.8h0M1921.5 1239.0h0M1291.8 1244.5h0M1970.5 1248.9h0M1182.4 1252.3h0M1337.7 1255.5h0M1367.1 1259.0h0M1665.7 1260.5h0M1830.4 1258.4h0M1285.7 1261.7h0M1646.5 1265.0h0M1489.3 1271.5h0M1979.1 1269.8h0M1451.5 1273.1h0M1583.7 1274.6h0M1320.0 1280.6h0M1399.7 1284.8h0M1428.2 1279.8h0M1504.9 1283.9h0M2021.8 1279.8h0M1388.0 1289.9h0M1506.5 1285.8h0M1520.7 1286.3h0M1911.1 1290.4h0M1923.8 1287.1h0M1624.6 1293.9h0M1969.0 1294.6h0M1468.1 1301.1h0M1627.2 1302.9h0M1888.9 1297.3h0M1997.8 1301.5h0M1496.1 1308.3h0M1328.4 1309.9h0M1627.3 1314.3h0M2001.8 1310.4h0M2005.3 1311.1h0M1375.7 1317.9h0M1528.2 1319.9h0M1628.7 1315.9h0M1399.7 1328.9h0M1422.6 1334.0h0" stroke="#2ca02c" stroke-width="12.9" stroke-linecap="round" fill="none"/><path d="M761.9 1035.7v17.5M701.3 1097.3v16.5M731.7 1101.3v16.5M726.4 1104.3v16.4M179.9 1124.2v16.1M817.0 1123.2v16.1M884.7 1138.3v15.9M253.1 1142.6v15.8M753.8 1148.9v15.7M193.5 1157.0v15.6M296.6 1151.3v15.7M869.5 1151.8v15.7M922.4 1153.9v15.6M1068.3 1156.9v15.6M667.7 1159.7v15.6M718.4 1161.3v15.5M755.8 1161.3v15.5M803.9 1161.7v15.5M187.6 1168.5v15.4M228.1 1167.9v15.4M1066.5 1168.3v15.4M179.9 1173.3v15.3M238.9 1173.3v15.3M670.0 1172.1v15.4M713.3 1170.1v15.4M837.0 1171.0v15.4M919.9 1173.3v15.3M667.5 1180.8v15.2M705.0 1176.2v15.3M730.0 1179.3v15.3M788.4 1177.7v15.3M838.4 1176.2v15.3M840.1 1175.4v15.3M1043.8 1177.4v15.3M191.2 1185.4v15.2M219.0 1183.2v15.2M249.7 1185.3v15.2M285.4 1186.6v15.1M296.9 1186.3v15.1M554.1 1186.7v15.1M668.7 1185.1v15.2M685.6 1182.2v15.2M751.6 1184.7v15.2M995.9 1186.4v15.1M1044.2 1185.1v15.2M205.0 1189.0v15.1M285.5 1188.6v15.1M299.2 1188.1v15.1M316.0 1188.7v15.1M1041.1 1189.0v15.1M207.1 1195.7v15.0M215.3 1198.4v15.0M233.6 1196.4v15.0M483.4 1193.5v15.0M840.4 1195.9v15.0M887.3 1193.8v15.0M1062.2 1194.4v15.0M306.6 1200.4v14.9M323.9 1205.0v14.9M469.9 1199.8v14.9M494.3 1203.0v14.9M501.6 1204.1v14.9M809.2 1200.6v14.9M840.7 1200.4v14.9M889.8 1203.4v14.9M280.4 1206.9v14.8M292.6 1209.3v14.8M776.3 1208.2v14.8M879.5 1207.1v14.8M896.0 1205.7v14.8M1021.3 1209.7v14.8M177.7 1215.4v14.7M180.5 1216.8v14.7M213.6 1214.2v14.7M342.8 1216.6v14.7M655.0 1216.6v14.7M778.5 1213.7v14.7M877.2 1215.3v14.7M977.1 1217.0v14.7M1021.5 1212.6v14.7M181.9 1219.3v14.6M211.8 1217.7v14.7M340.3 1222.9v14.6M435.8 1218.1v14.6M657.7 1220.1v14.6M976.6 1220.7v14.6M978.6 1218.5v14.6M988.8 1223.7v14.6M1003.2 1222.0v14.6M1041.1 1218.9v14.6M1045.6 1221.2v14.6M346.6 1229.3v14.5M666.8 1228.2v14.5M901.1 1227.9v14.5M984.8 1226.6v14.5M303.5 1231.7v14.4M422.5 1233.9v14.4M860.3 1230.7v14.5M1001.2 1234.0v14.4M1013.8 1230.5v14.5M1023.9 1232.9v14.4M1037.0 1235.5v14.4M1044.5 1234.1v14.4M323.6 1236.0v14.4M592.0 1236.9v14.4M649.3 1238.3v14.3M690.9 1239.4v14.3M696.4 1239.8v14.3M977.9 1237.4v14.3M1041.6 1239.6v14.3M579.9 1245.7v14.2M691.9 1242.5v14.3M1005.7 1243.1v14.3M1026.2 1247.9v14.2M1054.9 1244.8v14.2M1058.2 1245.0v14.2M676.5 1251.1v14.1M913.7 1250.0v14.1M929.0 1249.1v14.2M314.2 1259.8v14.0M402.7 1257.3v14.0M542.5 1258.8v14.0M577.7 1258.4v14.0M594.6 1258.2v14.0M970.2 1259.1v14.0M542.5 1260.4v14.0M547.9 1262.3v14.0M559.1 1264.1v13.9M656.3 1264.5v13.9M660.9 1263.0v13.9M357.6 1267.4v13.9M928.3 1267.6v13.9M930.2 1271.2v13.8M1009.0 1268.8v13.9M1057.3 1271.1v13.8M1073.8 1269.9v13.8M346.0 1275.3v13.8M370.4 1275.0v13.8M419.6 1272.4v13.8M578.3 1275.3v13.8M591.6 1274.2v13.8M671.3 1278.0v13.7M684.2 1272.4v13.8M1073.3 1275.2v13.8M448.5 1280.2v13.7M479.7 1282.2v13.6M511.7 1283.6v13.6M922.5 1282.5v13.6M1020.8 1281.4v13.7M1036.6 1282.0v13.7M370.0 1285.6v13.6M427.0 1287.0v13.6M526.9 1289.9v13.5M618.5 1285.0v13.6M678.1 1288.6v13.5M922.2 1289.5v13.5M1061.6 1286.8v13.6M1066.0 1289.9v13.5M176.1 1294.4v13.5M679.6 1293.8v13.5M925.1 1291.5v13.5M461.1 1296.3v13.4M484.3 1301.1v13.4M573.1 1296.5v13.4M584.0 1301.3v13.4M613.7 1301.7v13.3M660.0 1302.0v13.3M411.3 1307.8v13.3M483.9 1304.3v13.3M584.7 1302.7v13.3M614.0 1307.3v13.3M445.9 1310.0v13.2M487.8 1310.5v13.2M586.8 1312.9v13.2M614.7 1308.4v13.2M1034.3 1308.4v13.2M352.6 1314.8v13.1M412.9 1320.4v13.1M577.3 1325.0v13.0M1086.2 1345.0v12.7M1728.3 1035.7v17.5M1667.7 1097.3v16.5M1698.1 1101.3v16.5M1692.8 1104.3v16.4M1146.3 1124.2v16.1M1783.4 1123.2v16.1M1851.1 1138.3v15.9M1219.5 1142.6v15.8M1720.2 1148.9v15.7M1159.9 1157.0v15.6M1263.0 1151.3v15.7M1835.9 1151.8v15.7M1888.8 1153.9v15.6M2034.7 1156.9v15.6M1634.1 1159.7v15.6M1684.8 1161.3v15.5M1722.2 1161.3v15.5M1770.3 1161.7v15.5M1154.0 1168.5v15.4M1194.5 1167.9v15.4M2032.9 1168.3v15.4M1146.3 1173.3v15.3M1205.3 1173.3v15.3M1636.4 1172.1v15.4M1679.7 1170.1v15.4M1803.4 1171.0v15.4M1886.3 1173.3v15.3M1633.9 1180.8v15.2M1671.4 1176.2v15.3M1696.4 1179.3v15.3M1754.8 1177.7v15.3M1804.8 1176.2v15.3M1806.5 1175.4v15.3M2010.2 1177.4v15.3M1157.6 1185.4v15.2M1185.4 1183.2v15.2M1216.1 1185.3v15.2M1251.8 1186.6v15.1M1263.3 1186.3v15.1M1520.5 1186.7v15.1M1635.1 1185.1v15.2M1652.0 1182.2v15.2M1718.0 1184.7v15.2M1962.3 1186.4v15.1M2010.6 1185.1v15.2M1171.4 1189.0v15.1M1251.9 1188.6v15.1M1265.6 1188.1v15.1M1282.4 1188.7v15.1M2007.5 1189.0v15.1M1173.5 1195.7v15.0M1181.7 1198.4v15.0M1200.0 1196.4v15.0M1449.8 1193.5v15.0M1806.8 1195.9v15.0M1853.7 1193.8v15.0M2028.6 1194.4v15.0M1273.0 1200.4v14.9M1290.3 1205.0v14.9M1436.3 1199.8v14.9M1460.7 1203.0v14.9M1468.0 1204.1v14.9M1775.6 1200.6v14.9M1807.1 1200.4v14.9M1856.2 1203.4v14.9M1246.8 1206.9v14.8M1259.0 1209.3v14.8M1742.7 1208.2v14.8M1845.9 1207.1v14.8M1862.4 1205.7v14.8M1987.7 1209.7v14.8M1144.1 1215.4v14.7M1146.9 1216.8v14.7M1180.0 1214.2v14.7M1309.2 1216.6v14.7M1621.4 1216.6v14.7M1744.9 1213.7v14.7M1843.6 1215.3v14.7M1943.5 1217.0v14.7M1987.9 1212.6v14.7M1148.3 1219.3v14.6M1178.2 1217.7v14.7M1306.7 1222.9v14.6M1402.2 1218.1v14.6M1624.1 1220.1v14.6M1943.0 1220.7v14.6M1945.0 1218.5v14.6M1955.2 1223.7v14.6M1969.6 1222.0v14.6M2007.5 1218.9v14.6M2012.0 1221.2v14.6M1313.0 1229.3v14.5M1633.2 1228.2v14.5M1867.5 1227.9v14.5M1951.2 1226.6v14.5M1269.9 1231.7v14.4M1388.9 1233.9v14.4M1826.7 1230.7v14.5M1967.6 1234.0v14.4M1980.2 1230.5v14.5M1990.3 1232.9v14.4M2003.4 1235.5v14.4M2010.9 1234.1v14.4M1290.0 1236.0v14.4M1558.4 1236.9v14.4M1615.7 1238.3v14.3M1657.3 1239.4v14.3M1662.8 1239.8v14.3M1944.3 1237.4v14.3M2008.0 1239.6v14.3M1546.3 1245.7v14.2M1658.3 1242.5v14.3M1972.1 1243.1v14.3M1992.6 1247.9v14.2M2021.3 1244.8v14.2M2024.6 1245.0v14.2M1642.9 1251.1v14.1M1880.1 1250.0v14.1M1895.4 1249.1v14.2M1280.6 1259.8v14.0M1369.1 1257.3v14.0M1508.9 1258.8v14.0M1544.1 1258.4v14.0M1561.0 1258.2v14.0M1936.6 1259.1v14.0M1508.9 1260.4v14.0M1514.3 1262.3v14.0M1525.5 1264.1v13.9M1622.7 1264.5v13.9M1627.3 1263.0v13.9M1324.0 1267.4v13.9M1894.7 1267.6v13.9M1896.6 1271.2v13.8M1975.4 1268.8v13.9M2023.7 1271.1v13.8M2040.2 1269.9v13.8M1312.4 1275.3v13.8M1336.8 1275.0v13.8M1386.0 1272.4v13.8M1544.7 1275.3v13.8M1558.0 1274.2v13.8M1637.7 1278.0v13.7M1650.6 1272.4v13.8M2039.7 1275.2v13.8M1414.9 1280.2v13.7M1446.1 1282.2v13.6M1478.1 1283.6v13.6M1888.9 1282.5v13.6M1987.2 1281.4v13.7M2003.0 1282.0v13.7M1336.4 1285.6v13.6M1393.4 1287.0v13.6M1493.3 1289.9v13.5M1584.9 1285.0v13.6M1644.5 1288.6v13.5M1888.6 1289.5v13.5M2028.0 1286.8v13.6M2032.4 1289.9v13.5M1142.5 1294.4v13.5M1646.0 1293.8v13.5M1891.5 1291.5v13.5M1427.5 1296.3v13.4M1450.7 1301.1v13.4M1539.5 1296.5v13.4M1550.4 1301.3v13.4M1580.1 1301.7v13.3M1626.4 1302.0v13.3M1377.7 1307.8v13.3M1450.3 1304.3v13.3M1551.1 1302.7v13.3M1580.4 1307.3v13.3M1412.3 1310.0v13.2M1454.2 1310.5v13.2M1553.2 1312.9v13.2M1581.1 1308.4v13.2M2000.7 1308.4v13.2M1319.0 1314.8v13.1M1379.3 1320.4v13.1M1543.7 1325.0v13.0M2052.6 1345.0v12.7" stroke="#d62728" stroke-width="2.1" stroke-opacity="0.5" fill="none"/><path d="M761.9 1044.4h0M701.3 1105.6h0M731.7 1109.5h0M726.4 1112.5h0M179.9 1132.2h0M817.0 1131.2h0M884.7 1146.2h0M253.1 1150.5h0M753.8 1156.7h0M193.5 1164.8h0M296.6 1159.1h0M869.5 1159.7h0M922.4 1161.8h0M1068.3 1164.7h0M667.7 1167.5h0M718.4 1169.1h0M755.8 1169.1h0M803.9 1169.4h0M187.6 1176.2h0M228.1 1175.6h0M1066.5 1176.0h0M179.9 1181.0h0M238.9 1180.9h0M670.0 1179.8h0M713.3 1177.8h0M837.0 1178.7h0M919.9 1181.0h0M667.5 1188.5h0M705.0 1183.8h0M730.0 1187.0h0M788.4 1185.3h0M838.4 1183.8h0M840.1 1183.1h0M1043.8 1185.0h0M191.2 1193.0h0M219.0 1190.8h0M249.7 1192.8h0M285.4 1194.2h0M296.9 1193.8h0M554.1 1194.3h0M668.7 1192.6h0M685.6 1189.8h0M751.6 1192.3h0M995.9 1194.0h0M1044.2 1192.7h0M205.0 1196.6h0M285.5 1196.1h0M299.2 1195.6h0M316.0 1196.3h0M1041.1 1196.5h0M207.1 1203.2h0M215.3 1205.9h0M233.6 1203.9h0M483.4 1201.0h0M840.4 1203.4h0M887.3 1201.3h0M1062.2 1201.9h0M306.6 1207.9h0M323.9 1212.5h0M469.9 1207.2h0M494.3 1210.4h0M501.6 1211.5h0M809.2 1208.0h0M840.7 1207.9h0M889.8 1210.8h0M280.4 1214.3h0M292.6 1216.7h0M776.3 1215.6h0M879.5 1214.5h0M896.0 1213.1h0M1021.3 1217.1h0M177.7 1222.8h0M180.5 1224.2h0M213.6 1221.5h0M342.8 1223.9h0M655.0 1223.9h0M778.5 1221.0h0M877.2 1222.6h0M977.1 1224.4h0M1021.5 1220.0h0M181.9 1226.6h0M211.8 1225.0h0M340.3 1230.2h0M435.8 1225.4h0M657.7 1227.4h0M976.6 1228.0h0M978.6 1225.9h0M988.8 1231.0h0M1003.2 1229.3h0M1041.1 1226.2h0M1045.6 1228.5h0M346.6 1236.6h0M666.8 1235.4h0M901.1 1235.1h0M984.8 1233.9h0M303.5 1238.9h0M422.5 1241.1h0M860.3 1237.9h0M1001.2 1241.2h0M1013.8 1237.7h0M1023.9 1240.1h0M1037.0 1242.7h0M1044.5 1241.3h0M323.6 1243.1h0M592.0 1244.0h0M649.3 1245.5h0M690.9 1246.5h0M696.4 1246.9h0M977.9 1244.5h0M1041.6 1246.8h0M579.9 1252.8h0M691.9 1249.7h0M1005.7 1250.2h0M1026.2 1255.0h0M1054.9 1252.0h0M1058.2 1252.1h0M676.5 1258.2h0M913.7 1257.1h0M929.0 1256.2h0M314.2 1266.8h0M402.7 1264.3h0M542.5 1265.8h0M577.7 1265.4h0M594.6 1265.2h0M970.2 1266.1h0M542.5 1267.4h0M547.9 1269.3h0M559.1 1271.1h0M656.3 1271.4h0M660.9 1270.0h0M357.6 1274.4h0M928.3 1274.5h0M930.2 1278.1h0M1009.0 1275.7h0M1057.3 1278.0h0M1073.8 1276.8h0M346.0 1282.1h0M370.4 1281.9h0M419.6 1279.3h0M578.3 1282.2h0M591.6 1281.1h0M671.3 1284.9h0M684.2 1279.3h0M1073.3 1282.1h0M448.5 1287.0h0M479.7 1289.0h0M511.7 1290.4h0M922.5 1289.3h0M1020.8 1288.2h0M1036.6 1288.8h0M370.0 1292.4h0M427.0 1293.8h0M526.9 1296.7h0M618.5 1291.8h0M678.1 1295.3h0M922.2 1296.3h0M1061.6 1293.6h0M1066.0 1296.6h0M176.1 1301.1h0M679.6 1300.5h0M925.1 1298.3h0M461.1 1303.1h0M484.3 1307.8h0M573.1 1303.2h0M584.0 1308.0h0M613.7 1308.3h0M660.0 1308.6h0M411.3 1314.4h0M483.9 1311.0h0M584.7 1309.4h0M614.0 1314.0h0M445.9 1316.6h0M487.8 1317.1h0M586.8 1319.5h0M614.7 1315.1h0M1034.3 1315.1h0M352.6 1321.4h0M412.9 1327.0h0M577.3 1331.5h0M1086.2 1351.3h0M1728.3 1044.4h0M1667.7 1105.6h0M1698.1 1109.5h0M1692.8 1112.5h0M1146.3 1132.2h0M1783.4 1131.2h0M1851.1 1146.2h0M1219.5 1150.5h0M1720.2 1156.7h0M1159.9 1164.8h0M1263.0 1159.1h0M1835.9 1159.7h0M1888.8 1161.8h0M2034.7 1164.7h0M1634.1 1167.5h0M1684.8 1169.1h0M1722.2 1169.1h0M1770.3 1169.4h0M1154.0 1176.2h0M1194.5 1175.6h0M2032.9 1176.0h0M1146.3 1181.0h0M1205.3 1180.9h0M1636.4 1179.8h0M1679.7 1177.8h0M1803.4 1178.7h0M1886.3 1181.0h0M1633.9 1188.5h0M1671.4 1183.8h0M1696.4 1187.0h0M1754.8 1185.3h0M1804.8 1183.8h0M1806.5 1183.1h0M2010.2 1185.0h0M1157.6 1193.0h0M1185.4 1190.8h0M1216.1 1192.8h0M1251.8 1194.2h0M1263.3 1193.8h0M1520.5 1194.3h0M1635.1 1192.6h0M1652.0 1189.8h0M1718.0 1192.3h0M1962.3 1194.0h0M2010.6 1192.7h0M1171.4 1196.6h0M1251.9 1196.1h0M1265.6 1195.6h0M1282.4 1196.3h0M2007.5 1196.5h0M1173.5 1203.2h0M1181.7 1205.9h0M1200.0 1203.9h0M1449.8 1201.0h0M1806.8 1203.4h0M1853.7 1201.3h0M2028.6 1201.9h0M1273.0 1207.9h0M1290.3 1212.5h0M1436.3 1207.2h0M1460.7 1210.4h0M1468.0 1211.5h0M1775.6 1208.0h0M1807.1 1207.9h0M1856.2 1210.8h0M1246.8 1214.3h0M1259.0 1216.7h0M1742.7 1215.6h0M1845.9 1214.5h0M1862.4 1213.1h0M1987.7 1217.1h0M1144.1 1222.8h0M1146.9 1224.2h0M1180.0 1221.5h0M1309.2 1223.9h0M1621.4 1223.9h0M1744.9 1221.0h0M1843.6 1222.6h0M1943.5 1224.4h0M1987.9 1220.0h0M1148.3 1226.6h0M1178.2 1225.0h0M1306.7 1230.2h0M1402.2 1225.4h0M1624.1 1227.4h0M1943.0 1228.0h0M1945.0 1225.9h0M1955.2 1231.0h0M1969.6 1229.3h0M2007.5 1226.2h0M2012.0 1228.5h0M1313.0 1236.6h0M1633.2 1235.4h0M1867.5 1235.1h0M1951.2 1233.9h0M1269.9 1238.9h0M1388.9 1241.1h0M1826.7 1237.9h0M1967.6 1241.2h0M1980.2 1237.7h0M1990.3 1240.1h0M2003.4 1242.7h0M2010.9 1241.3h0M1290.0 1243.1h0M1558.4 1244.0h0M1615.7 1245.5h0M1657.3 1246.5h0M1662.8 1246.9h0M1944.3 1244.5h0M2008.0 1246.8h0M1546.3 1252.8h0M1658.3 1249.7h0M1972.1 1250.2h0M1992.6 1255.0h0M2021.3 1252.0h0M2024.6 1252.1h0M1642.9 1258.2h0M1880.1 1257.1h0M1895.4 1256.2h0M1280.6 1266.8h0M1369.1 1264.3h0M1508.9 1265.8h0M1544.1 1265.4h0M1561.0 1265.2h0M1936.6 1266.1h0M1508.9 1267.4h0M1514.3 1269.3h0M1525.5 1271.1h0M1622.7 1271.4h0M1627.3 1270.0h0M1324.0 1274.4h0M1894.7 1274.5h0M1896.6 1278.1h0M1975.4 1275.7h0M2023.7 1278.0h0M2040.2 1276.8h0M1312.4 1282.1h0M1336.8 1281.9h0M1386.0 1279.3h0M1544.7 1282.2h0M1558.0 1281.1h0M1637.7 1284.9h0M1650.6 1279.3h0M2039.7 1282.1h0M1414.9 1287.0h0M1446.1 1289.0h0M1478.1 1290.4h0M1888.9 1289.3h0M1987.2 1288.2h0M2003.0 1288.8h0M1336.4 1292.4h0M1393.4 1293.8h0M1493.3 1296.7h0M1584.9 1291.8h0M1644.5 1295.3h0M1888.6 1296.3h0M2028.0 1293.6h0M2032.4 1296.6h0M1142.5 1301.1h0M1646.0 1300.5h0M1891.5 1298.3h0M1427.5 1303.1h0M1450.7 1307.8h0M1539.5 1303.2h0M1550.4 1308.0h0M1580.1 1308.3h0M1626.4 1308.6h0M1377.7 1314.4h0M1450.3 1311.0h0M1551.1 1309.4h0M1580.4 1314.0h0M1412.3 1316.6h0M1454.2 1317.1h0M1553.2 1319.5h0M1581.1 1315.1h0M2000.7 1315.1h0M1319.0 1321.4h0M1379.3 1327.0h0M1543.7 1331.5h0M2052.6 1351.3h0" stroke="#d62728" stroke-width="12.9" stroke-linecap="round" fill="none"/><path d="M239.6 1140.4v26.5M277.8 1130.5v27.1M287.3 1143.2v26.3M302.3 1134.8v26.8M336.8 1138.3v26.6M296.8 1152.3v25.8M325.5 1148.1v26.1M388.9 1150.2v25.9M194.6 1159.4v25.4M234.1 1158.6v25.4M245.0 1162.9v25.2M172.7 1165.7v25.0M270.9 1168.5v24.9M250.5 1172.0v24.7M280.5 1176.2v24.4M213.6 1174.8v24.5M228.7 1175.5v24.5M183.6 1182.5v24.0M265.5 1185.3v23.9M336.4 1182.5v24.0M359.6 1187.7v23.7M272.3 1188.2v23.7M284.6 1195.2v23.3M344.6 1205.0v22.7M273.7 1210.6v22.4M277.8 1214.9v22.1M298.2 1217.7v22.0M330.9 1213.4v22.2M311.8 1216.3v22.1M185.0 1224.7v21.6M195.9 1223.3v21.7M202.7 1221.9v21.7M210.9 1221.9v21.7M317.3 1227.5v21.4M341.9 1230.3v21.2M353.4 1230.3v21.2M366.4 1235.9v20.9M213.0 1235.9v20.9M224.6 1239.4v20.7M205.5 1245.8v20.3M223.9 1246.5v20.3M241.6 1252.1v20.0M306.4 1250.0v20.1M333.7 1248.6v20.2M306.4 1258.4v19.6M317.3 1264.0v19.3M351.4 1259.8v19.5M363.7 1253.5v19.9M374.6 1257.0v19.7M389.6 1247.2v20.3M270.9 1269.6v18.9M172.1 1287.6v17.9M319.8 1294.5v17.5M344.6 1302.7v17.0M389.6 1287.9v17.9M371.9 1294.9v17.5M376.0 1306.2v16.8M369.1 1317.4v16.1M388.2 1309.0v16.6M187.5 1323.7v15.8M285.7 1321.9v15.9M189.1 1346.2v14.5M549.6 1126.3v27.3M454.8 1136.2v26.8M422.1 1142.5v26.4M617.1 1134.8v26.8M589.1 1147.1v26.1M392.0 1150.2v25.9M422.1 1165.7v25.0M475.9 1162.2v25.2M480.0 1167.8v24.9M572.8 1167.8v24.9M411.1 1183.9v24.0M400.2 1186.7v23.8M499.1 1186.7v23.8M443.2 1195.2v23.3M436.4 1198.0v23.1M529.1 1197.3v23.2M409.8 1202.9v22.8M601.4 1201.5v22.9M624.6 1202.2v22.9M460.9 1209.9v22.4M570.7 1213.4v22.2M548.2 1216.3v22.1M405.0 1216.3v22.1M428.9 1219.8v21.9M448.0 1221.2v21.8M582.3 1223.3v21.7M594.6 1224.7v21.6M570.0 1231.7v21.2M472.5 1233.1v21.1M505.2 1235.2v21.0M413.9 1240.1v20.7M606.9 1235.9v20.9M597.3 1240.1v20.7M641.0 1235.9v20.9M534.6 1247.2v20.3M429.6 1250.7v20.1M515.5 1255.6v19.8M481.4 1255.6v19.8M501.2 1257.0v19.7M408.4 1257.0v19.7M553.7 1252.8v19.9M459.6 1258.4v19.6M427.5 1264.7v19.2M442.5 1266.8v19.1M490.9 1262.6v19.4M552.3 1264.7v19.2M526.4 1269.6v18.9M624.6 1269.6v18.9M640.3 1270.3v18.9M478.7 1268.2v19.0M455.5 1275.3v18.6M467.7 1279.5v18.4M545.5 1278.1v18.4M534.6 1279.5v18.4M626.0 1280.9v18.3M392.7 1280.9v18.3M451.4 1286.5v18.0M557.8 1283.7v18.1M589.1 1287.9v17.9M432.3 1287.9v17.9M492.3 1294.9v17.5M444.6 1298.4v17.3M470.5 1300.6v17.1M501.8 1300.6v17.1M553.7 1303.4v17.0M635.5 1299.2v17.2M608.2 1316.0v16.2M574.1 1317.4v16.1M540.0 1321.6v15.9M439.1 1330.1v15.4M485.5 1328.7v15.5M470.5 1338.5v14.9M604.1 1342.0v14.7M650.2 1143.2v26.3M659.1 1145.3v26.2M691.1 1143.2v26.3M678.9 1151.6v25.9M826.9 1149.5v26.0M858.2 1146.0v26.2M660.5 1160.1v25.4M691.8 1158.6v25.4M749.1 1158.6v25.4M871.9 1160.1v25.4M850.0 1161.5v25.3M754.6 1167.1v24.9M776.4 1167.1v24.9M787.3 1164.3v25.1M678.2 1174.8v24.5M700.0 1168.5v24.9M866.4 1171.3v24.7M739.6 1183.9v24.0M852.8 1179.7v24.2M802.3 1183.9v24.0M794.1 1191.0v23.5M781.8 1199.4v23.1M720.5 1199.4v23.1M809.1 1188.2v23.7M675.5 1206.4v22.6M687.7 1207.1v22.6M769.6 1210.6v22.4M796.8 1206.4v22.6M805.0 1209.2v22.5M829.6 1210.6v22.4M858.2 1207.8v22.6M717.1 1222.6v21.7M871.9 1217.7v22.0M642.7 1231.7v21.2M657.7 1230.3v21.2M670.0 1235.9v20.9M727.3 1234.5v21.0M790.0 1232.4v21.1M784.6 1237.3v20.8M854.1 1227.5v21.4M708.9 1242.0v20.6M650.9 1245.8v20.3M757.3 1250.0v20.1M790.0 1245.1v20.4M802.3 1248.3v20.2M856.9 1248.6v20.2M852.8 1241.5v20.6M884.1 1250.0v20.1M768.9 1259.8v19.5M872.5 1256.6v19.7M687.7 1263.3v19.3M703.0 1262.9v19.3M645.5 1268.2v19.0M657.7 1271.1v18.9M835.0 1279.5v18.4M683.6 1286.5v18.0M671.4 1287.9v17.9M762.3 1296.8v17.4M644.1 1296.3v17.4M746.7 1306.6v16.8M838.2 1307.2v16.7M657.7 1317.4v16.1M864.4 1321.6v15.9M1046.8 1133.4v26.9M1072.8 1140.4v26.5M969.1 1143.9v26.3M930.9 1146.0v26.2M910.5 1161.5v25.3M903.6 1171.3v24.7M892.7 1178.3v24.3M942.5 1177.6v24.3M1065.9 1172.7v24.6M952.7 1182.5v24.0M1023.7 1186.7v23.8M1034.6 1188.2v23.7M922.1 1192.4v23.5M898.2 1192.4v23.5M960.9 1203.6v22.8M955.5 1210.6v22.4M967.7 1213.4v22.2M922.7 1217.7v22.0M1005.9 1200.8v23.0M963.6 1226.1v21.5M1005.9 1226.1v21.5M993.7 1234.5v21.0M1067.3 1234.5v21.0M1033.2 1238.7v20.8M1080.9 1243.7v20.5M1068.7 1248.6v20.2M913.2 1240.1v20.7M947.3 1251.4v20.0M895.5 1255.6v19.8M913.2 1254.2v19.8M1004.6 1250.0v20.1M999.1 1265.4v19.2M1015.5 1266.8v19.1M1056.4 1278.1v18.4M1020.9 1272.5v18.8M1000.5 1279.5v18.4M1049.6 1285.1v18.0M1080.9 1285.1v18.0M966.4 1280.9v18.3M932.3 1279.5v18.4M898.2 1292.1v17.6M910.5 1297.7v17.3M1012.7 1289.3v17.8M1026.4 1287.9v17.9M1026.4 1297.0v17.3M1068.7 1302.0v17.0M1080.9 1292.1v17.6M985.5 1309.0v16.6M1010.0 1310.4v16.6M1042.8 1309.0v16.6M1093.2 1310.4v16.6M1079.6 1342.0v14.7M1102.8 1361.0v13.6M1085.0 1362.4v13.5M231.0 884.4v32.0M218.4 949.8v32.0M207.1 988.5v32.0M276.9 996.6v32.0M310.8 997.8v32.0M390.0 995.1v32.0M254.1 1012.8v32.0M276.0 1013.5v32.0M371.4 1010.4v32.0M385.8 1018.5v32.0M352.0 1030.2v32.0M272.1 1043.8v32.0M285.0 1065.5v30.9M228.3 1069.6v30.7M287.7 1076.1v30.3M243.6 1078.9v30.1M272.4 1081.1v30.0M380.3 1078.3v30.1M213.9 1088.2v29.6M303.0 1086.7v29.7M233.7 1092.8v29.3M221.1 1096.5v29.1M184.2 1109.5v28.3M233.7 1106.7v28.5M281.4 1116.9v27.9M258.0 1117.3v27.9M290.4 1119.7v27.7M745.9 804.8v32.0M678.6 823.8v32.0M515.6 921.3v32.0M784.6 933.9v32.0M736.9 959.1v32.0M778.0 960.6v32.0M798.7 963.6v32.0M703.2 970.5v32.0M662.2 988.5v32.0M793.3 993.3v32.0M787.9 996.0v32.0M754.2 1003.6v32.0M784.3 1003.8v32.0M723.9 1017.3v32.0M766.3 1019.4v32.0M770.8 1021.2v32.0M618.1 1038.9v32.0M710.4 1059.4v31.3M672.6 1078.0v30.2M680.7 1084.5v29.8M601.5 1082.2v29.9M754.6 1070.6v30.6M638.1 1092.8v29.3M708.6 1092.8v29.3M751.0 1094.7v29.2M696.0 1103.0v28.7M662.4 1108.6v28.4M720.3 1100.2v28.9M742.8 1100.2v28.9M786.1 1110.4v28.3M710.4 1114.1v28.0M549.3 1123.4v27.5M800.5 1113.2v28.1M810.9 901.9v32.0M898.6 995.7v32.0M843.7 1015.8v32.0M804.6 1042.0v32.0M814.5 1056.6v31.4M805.5 1063.5v31.0M806.4 1096.9v29.1M910.8 1110.4v28.3M997.2 1114.1v28.0M879.3 1119.7v27.7M822.6 1116.0v27.9M870.3 1115.1v28.0M1043.1 1123.4v27.5M1206.0 1140.4v26.5M1244.2 1130.5v27.1M1253.7 1143.2v26.3M1268.7 1134.8v26.8M1303.2 1138.3v26.6M1263.2 1152.3v25.8M1291.9 1148.1v26.1M1355.3 1150.2v25.9M1161.0 1159.4v25.4M1200.5 1158.6v25.4M1211.4 1162.9v25.2M1139.1 1165.7v25.0M1237.3 1168.5v24.9M1216.9 1172.0v24.7M1246.9 1176.2v24.4M1180.0 1174.8v24.5M1195.1 1175.5v24.5M1150.0 1182.5v24.0M1231.9 1185.3v23.9M1302.8 1182.5v24.0M1326.0 1187.7v23.7M1238.7 1188.2v23.7M1251.0 1195.2v23.3M1311.0 1205.0v22.7M1240.1 1210.6v22.4M1244.2 1214.9v22.1M1264.6 1217.7v22.0M1297.3 1213.4v22.2M1278.2 1216.3v22.1M1151.4 1224.7v21.6M1162.3 1223.3v21.7M1169.1 1221.9v21.7M1177.3 1221.9v21.7M1283.7 1227.5v21.4M1308.3 1230.3v21.2M1319.8 1230.3v21.2M1332.8 1235.9v20.9M1179.4 1235.9v20.9M1191.0 1239.4v20.7M1171.9 1245.8v20.3M1190.3 1246.5v20.3M1208.0 1252.1v20.0M1272.8 1250.0v20.1M1300.1 1248.6v20.2M1272.8 1258.4v19.6M1283.7 1264.0v19.3M1317.8 1259.8v19.5M1330.1 1253.5v19.9M1341.0 1257.0v19.7M1356.0 1247.2v20.3M1237.3 1269.6v18.9M1138.5 1287.6v17.9M1286.2 1294.5v17.5M1311.0 1302.7v17.0M1356.0 1287.9v17.9M1338.3 1294.9v17.5M1342.4 1306.2v16.8M1335.5 1317.4v16.1M1354.6 1309.0v16.6M1153.9 1323.7v15.8M1252.1 1321.9v15.9M1155.5 1346.2v14.5M1516.0 1126.3v27.3M1421.2 1136.2v26.8M1388.5 1142.5v26.4M1583.5 1134.8v26.8M1555.5 1147.1v26.1M1358.4 1150.2v25.9M1388.5 1165.7v25.0M1442.3 1162.2v25.2M1446.4 1167.8v24.9M1539.2 1167.8v24.9M1377.5 1183.9v24.0M1366.6 1186.7v23.8M1465.5 1186.7v23.8M1409.6 1195.2v23.3M1402.8 1198.0v23.1M1495.5 1197.3v23.2M1376.2 1202.9v22.8M1567.8 1201.5v22.9M1591.0 1202.2v22.9M1427.3 1209.9v22.4M1537.1 1213.4v22.2M1514.6 1216.3v22.1M1371.4 1216.3v22.1M1395.3 1219.8v21.9M1414.4 1221.2v21.8M1548.7 1223.3v21.7M1561.0 1224.7v21.6M1536.4 1231.7v21.2M1438.9 1233.1v21.1M1471.6 1235.2v21.0M1380.3 1240.1v20.7M1573.3 1235.9v20.9M1563.7 1240.1v20.7M1607.4 1235.9v20.9M1501.0 1247.2v20.3M1396.0 1250.7v20.1M1481.9 1255.6v19.8M1447.8 1255.6v19.8M1467.6 1257.0v19.7M1374.8 1257.0v19.7M1520.1 1252.8v19.9M1426.0 1258.4v19.6M1393.9 1264.7v19.2M1408.9 1266.8v19.1M1457.3 1262.6v19.4M1518.7 1264.7v19.2M1492.8 1269.6v18.9M1591.0 1269.6v18.9M1606.7 1270.3v18.9M1445.1 1268.2v19.0M1421.9 1275.3v18.6M1434.1 1279.5v18.4M1511.9 1278.1v18.4M1501.0 1279.5v18.4M1592.4 1280.9v18.3M1359.1 1280.9v18.3M1417.8 1286.5v18.0M1524.2 1283.7v18.1M1555.5 1287.9v17.9M1398.7 1287.9v17.9M1458.7 1294.9v17.5M1411.0 1298.4v17.3M1436.9 1300.6v17.1M1468.2 1300.6v17.1M1520.1 1303.4v17.0M1601.9 1299.2v17.2M1574.6 1316.0v16.2M1540.5 1317.4v16.1M1506.4 1321.6v15.9M1405.5 1330.1v15.4M1451.9 1328.7v15.5M1436.9 1338.5v14.9M1570.5 1342.0v14.7M1616.6 1143.2v26.3M1625.5 1145.3v26.2M1657.5 1143.2v26.3M1645.3 1151.6v25.9M1793.3 1149.5v26.0M1824.6 1146.0v26.2M1626.9 1160.1v25.4M1658.2 1158.6v25.4M1715.5 1158.6v25.4M1838.3 1160.1v25.4M1816.4 1161.5v25.3M1721.0 1167.1v24.9M1742.8 1167.1v24.9M1753.7 1164.3v25.1M1644.6 1174.8v24.5M1666.4 1168.5v24.9M1832.8 1171.3v24.7M1706.0 1183.9v24.0M1819.2 1179.7v24.2M1768.7 1183.9v24.0M1760.5 1191.0v23.5M1748.2 1199.4v23.1M1686.9 1199.4v23.1M1775.5 1188.2v23.7M1641.9 1206.4v22.6M1654.1 1207.1v22.6M1736.0 1210.6v22.4M1763.2 1206.4v22.6M1771.4 1209.2v22.5M1796.0 1210.6v22.4M1824.6 1207.8v22.6M1683.5 1222.6v21.7M1838.3 1217.7v22.0M1609.1 1231.7v21.2M1624.1 1230.3v21.2M1636.4 1235.9v20.9M1693.7 1234.5v21.0M1756.4 1232.4v21.1M1751.0 1237.3v20.8M1820.5 1227.5v21.4M1675.3 1242.0v20.6M1617.3 1245.8v20.3M1723.7 1250.0v20.1M1756.4 1245.1v20.4M1768.7 1248.3v20.2M1823.3 1248.6v20.2M1819.2 1241.5v20.6M1850.5 1250.0v20.1M1735.3 1259.8v19.5M1838.9 1256.6v19.7M1654.1 1263.3v19.3M1669.4 1262.9v19.3M1611.9 1268.2v19.0M1624.1 1271.1v18.9M1801.4 1279.5v18.4M1650.0 1286.5v18.0M1637.8 1287.9v17.9M1728.7 1296.8v17.4M1610.5 1296.3v17.4M1713.1 1306.6v16.8M1804.6 1307.2v16.7M1624.1 1317.4v16.1M1830.8 1321.6v15.9M2013.2 1133.4v26.9M2039.2 1140.4v26.5M1935.5 1143.9v26.3M1897.3 1146.0v26.2M1876.9 1161.5v25.3M1870.0 1171.3v24.7M1859.1 1178.3v24.3M1908.9 1177.6v24.3M2032.3 1172.7v24.6M1919.1 1182.5v24.0M1990.1 1186.7v23.8M2001.0 1188.2v23.7M1888.5 1192.4v23.5M1864.6 1192.4v23.5M1927.3 1203.6v22.8M1921.9 1210.6v22.4M1934.1 1213.4v22.2M1889.1 1217.7v22.0M1972.3 1200.8v23.0M1930.0 1226.1v21.5M1972.3 1226.1v21.5M1960.1 1234.5v21.0M2033.7 1234.5v21.0M1999.6 1238.7v20.8M2047.3 1243.7v20.5M2035.1 1248.6v20.2M1879.6 1240.1v20.7M1913.7 1251.4v20.0M1861.9 1255.6v19.8M1879.6 1254.2v19.8M1971.0 1250.0v20.1M1965.5 1265.4v19.2M1981.9 1266.8v19.1M2022.8 1278.1v18.4M1987.3 1272.5v18.8M1966.9 1279.5v18.4M2016.0 1285.1v18.0M2047.3 1285.1v18.0M1932.8 1280.9v18.3M1898.7 1279.5v18.4M1864.6 1292.1v17.6M1876.9 1297.7v17.3M1979.1 1289.3v17.8M1992.8 1287.9v17.9M1992.8 1297.0v17.3M2035.1 1302.0v17.0M2047.3 1292.1v17.6M1951.9 1309.0v16.6M1976.4 1310.4v16.6M2009.2 1309.0v16.6M2059.6 1310.4v16.6M2046.0 1342.0v14.7M2069.2 1361.0v13.6M2051.4 1362.4v13.5M1197.4 884.4v32.0M1184.8 949.8v32.0M1173.5 988.5v32.0M1243.3 996.6v32.0M1277.2 997.8v32.0M1356.4 995.1v32.0M1220.5 1012.8v32.0M1242.4 1013.5v32.0M1337.8 1010.4v32.0M1352.2 1018.5v32.0M1318.4 1030.2v32.0M1238.5 1043.8v32.0M1251.4 1065.5v30.9M1194.7 1069.6v30.7M1254.1 1076.1v30.3M1210.0 1078.9v30.1M1238.8 1081.1v30.0M1346.7 1078.3v30.1M1180.3 1088.2v29.6M1269.4 1086.7v29.7M1200.1 1092.8v29.3M1187.5 1096.5v29.1M1150.6 1109.5v28.3M1200.1 1106.7v28.5M1247.8 1116.9v27.9M1224.4 1117.3v27.9M1256.8 1119.7v27.7M1712.3 804.8v32.0M1645.0 823.8v32.0M1482.0 921.3v32.0M1751.0 933.9v32.0M1703.3 959.1v32.0M1744.4 960.6v32.0M1765.1 963.6v32.0M1669.6 970.5v32.0M1628.6 988.5v32.0M1759.7 993.3v32.0M1754.3 996.0v32.0M1720.6 1003.6v32.0M1750.7 1003.8v32.0M1690.3 1017.3v32.0M1732.7 1019.4v32.0M1737.2 1021.2v32.0M1584.5 1038.9v32.0M1676.8 1059.4v31.3M1639.0 1078.0v30.2M1647.1 1084.5v29.8M1567.9 1082.2v29.9M1721.0 1070.6v30.6M1604.5 1092.8v29.3M1675.0 1092.8v29.3M1717.4 1094.7v29.2M1662.4 1103.0v28.7M1628.8 1108.6v28.4M1686.7 1100.2v28.9M1709.2 1100.2v28.9M1752.5 1110.4v28.3M1676.8 1114.1v28.0M1515.7 1123.4v27.5M1766.9 1113.2v28.1M1777.3 901.9v32.0M1865.0 995.7v32.0M1810.1 1015.8v32.0M1771.0 1042.0v32.0M1780.9 1056.6v31.4M1771.9 1063.5v31.0M1772.8 1096.9v29.1M1877.2 1110.4v28.3M1963.6 1114.1v28.0M1845.7 1119.7v27.7M1789.0 1116.0v27.9M1836.7 1115.1v28.0M2009.5 1123.4v27.5" stroke="#2ca02c" stroke-width="2.1" stroke-opacity="0.5" fill="none"/><path d="M239.6 1153.6h0M277.8 1144.1h0M287.3 1156.4h0M302.3 1148.2h0M336.8 1151.6h0M296.8 1165.2h0M325.5 1161.1h0M388.9 1163.2h0M194.6 1172.1h0M234.1 1171.4h0M245.0 1175.5h0M172.7 1178.2h0M270.9 1180.9h0M250.5 1184.3h0M280.5 1188.4h0M213.6 1187.1h0M228.7 1187.7h0M183.6 1194.6h0M265.5 1197.3h0M336.4 1194.6h0M359.6 1199.6h0M272.3 1200.0h0M284.6 1206.8h0M344.6 1216.4h0M273.7 1221.8h0M277.8 1225.9h0M298.2 1228.7h0M330.9 1224.6h0M311.8 1227.3h0M185.0 1235.5h0M195.9 1234.1h0M202.7 1232.7h0M210.9 1232.7h0M317.3 1238.2h0M341.9 1240.9h0M353.4 1240.9h0M366.4 1246.4h0M213.0 1246.4h0M224.6 1249.8h0M205.5 1255.9h0M223.9 1256.6h0M241.6 1262.1h0M306.4 1260.0h0M333.7 1258.7h0M306.4 1268.2h0M317.3 1273.7h0M351.4 1269.6h0M363.7 1263.4h0M374.6 1266.8h0M389.6 1257.3h0M270.9 1279.1h0M172.1 1296.6h0M319.8 1303.3h0M344.6 1311.2h0M389.6 1296.8h0M371.9 1303.7h0M376.0 1314.6h0M369.1 1325.5h0M388.2 1317.3h0M187.5 1331.6h0M285.7 1329.9h0M189.1 1353.4h0M549.6 1140.0h0M454.8 1149.5h0M422.1 1155.7h0M617.1 1148.2h0M589.1 1160.2h0M392.0 1163.2h0M422.1 1178.2h0M475.9 1174.8h0M480.0 1180.2h0M572.8 1180.2h0M411.1 1195.9h0M400.2 1198.6h0M499.1 1198.6h0M443.2 1206.8h0M436.4 1209.6h0M529.1 1208.9h0M409.8 1214.3h0M601.4 1213.0h0M624.6 1213.6h0M460.9 1221.2h0M570.7 1224.6h0M548.2 1227.3h0M405.0 1227.3h0M428.9 1230.7h0M448.0 1232.1h0M582.3 1234.1h0M594.6 1235.5h0M570.0 1242.3h0M472.5 1243.7h0M505.2 1245.7h0M413.9 1250.5h0M606.9 1246.4h0M597.3 1250.5h0M641.0 1246.4h0M534.6 1257.3h0M429.6 1260.7h0M515.5 1265.5h0M481.4 1265.5h0M501.2 1266.8h0M408.4 1266.8h0M553.7 1262.7h0M459.6 1268.2h0M427.5 1274.3h0M442.5 1276.4h0M490.9 1272.3h0M552.3 1274.3h0M526.4 1279.1h0M624.6 1279.1h0M640.3 1279.8h0M478.7 1277.8h0M455.5 1284.6h0M467.7 1288.7h0M545.5 1287.3h0M534.6 1288.7h0M626.0 1290.0h0M392.7 1290.0h0M451.4 1295.5h0M557.8 1292.8h0M589.1 1296.8h0M432.3 1296.8h0M492.3 1303.7h0M444.6 1307.1h0M470.5 1309.1h0M501.8 1309.1h0M553.7 1311.8h0M635.5 1307.8h0M608.2 1324.1h0M574.1 1325.5h0M540.0 1329.6h0M439.1 1337.8h0M485.5 1336.4h0M470.5 1345.9h0M604.1 1349.4h0M650.2 1156.4h0M659.1 1158.4h0M691.1 1156.4h0M678.9 1164.5h0M826.9 1162.5h0M858.2 1159.1h0M660.5 1172.7h0M691.8 1171.4h0M749.1 1171.4h0M871.9 1172.7h0M850.0 1174.1h0M754.6 1179.6h0M776.4 1179.6h0M787.3 1176.8h0M678.2 1187.1h0M700.0 1180.9h0M866.4 1183.6h0M739.6 1195.9h0M852.8 1191.8h0M802.3 1195.9h0M794.1 1202.7h0M781.8 1210.9h0M720.5 1210.9h0M809.1 1200.0h0M675.5 1217.7h0M687.7 1218.4h0M769.6 1221.8h0M796.8 1217.7h0M805.0 1220.5h0M829.6 1221.8h0M858.2 1219.1h0M717.1 1233.4h0M871.9 1228.7h0M642.7 1242.3h0M657.7 1240.9h0M670.0 1246.4h0M727.3 1245.0h0M790.0 1243.0h0M784.6 1247.7h0M854.1 1238.2h0M708.9 1252.2h0M650.9 1255.9h0M757.3 1260.0h0M790.0 1255.2h0M802.3 1258.4h0M856.9 1258.7h0M852.8 1251.8h0M884.1 1260.0h0M768.9 1269.6h0M872.5 1266.4h0M687.7 1273.0h0M703.0 1272.6h0M645.5 1277.8h0M657.7 1280.5h0M835.0 1288.7h0M683.6 1295.5h0M671.4 1296.8h0M762.3 1305.4h0M644.1 1305.0h0M746.7 1315.0h0M838.2 1315.5h0M657.7 1325.5h0M864.4 1329.6h0M1046.8 1146.8h0M1072.8 1153.6h0M969.1 1157.0h0M930.9 1159.1h0M910.5 1174.1h0M903.6 1183.6h0M892.7 1190.5h0M942.5 1189.8h0M1065.9 1185.0h0M952.7 1194.6h0M1023.7 1198.6h0M1034.6 1200.0h0M922.1 1204.1h0M898.2 1204.1h0M960.9 1215.0h0M955.5 1221.8h0M967.7 1224.6h0M922.7 1228.7h0M1005.9 1212.3h0M963.6 1236.8h0M1005.9 1236.8h0M993.7 1245.0h0M1067.3 1245.0h0M1033.2 1249.1h0M1080.9 1253.9h0M1068.7 1258.7h0M913.2 1250.5h0M947.3 1261.4h0M895.5 1265.5h0M913.2 1264.1h0M1004.6 1260.0h0M999.1 1275.0h0M1015.5 1276.4h0M1056.4 1287.3h0M1020.9 1281.8h0M1000.5 1288.7h0M1049.6 1294.1h0M1080.9 1294.1h0M966.4 1290.0h0M932.3 1288.7h0M898.2 1300.9h0M910.5 1306.4h0M1012.7 1298.2h0M1026.4 1296.8h0M1026.4 1305.7h0M1068.7 1310.5h0M1080.9 1300.9h0M985.5 1317.3h0M1010.0 1318.7h0M1042.8 1317.3h0M1093.2 1318.7h0M1079.6 1349.4h0M1102.8 1367.8h0M1085.0 1369.1h0M231.0 900.4h0M218.4 965.8h0M207.1 1004.5h0M276.9 1012.6h0M310.8 1013.8h0M390.0 1011.1h0M254.1 1028.8h0M276.0 1029.5h0M371.4 1026.4h0M385.8 1034.5h0M352.0 1046.2h0M272.1 1059.8h0M285.0 1081.0h0M228.3 1085.0h0M287.7 1091.3h0M243.6 1094.0h0M272.4 1096.1h0M380.3 1093.4h0M213.9 1103.0h0M303.0 1101.5h0M233.7 1107.5h0M221.1 1111.1h0M184.2 1123.7h0M233.7 1121.0h0M281.4 1130.9h0M258.0 1131.2h0M290.4 1133.6h0M745.9 820.8h0M678.6 839.8h0M515.6 937.3h0M784.6 949.9h0M736.9 975.1h0M778.0 976.6h0M798.7 979.6h0M703.2 986.5h0M662.2 1004.5h0M793.3 1009.3h0M787.9 1012.0h0M754.2 1019.6h0M784.3 1019.8h0M723.9 1033.3h0M766.3 1035.4h0M770.8 1037.2h0M618.1 1054.9h0M710.4 1075.1h0M672.6 1093.1h0M680.7 1099.4h0M601.5 1097.2h0M754.6 1085.9h0M638.1 1107.5h0M708.6 1107.5h0M751.0 1109.3h0M696.0 1117.4h0M662.4 1122.8h0M720.3 1114.7h0M742.8 1114.7h0M786.1 1124.6h0M710.4 1128.2h0M549.3 1137.2h0M800.5 1127.3h0M810.9 917.9h0M898.6 1011.7h0M843.7 1031.8h0M804.6 1058.0h0M814.5 1072.4h0M805.5 1079.0h0M806.4 1111.4h0M910.8 1124.6h0M997.2 1128.2h0M879.3 1133.6h0M822.6 1130.0h0M870.3 1129.1h0M1043.1 1137.2h0M1206.0 1153.6h0M1244.2 1144.1h0M1253.7 1156.4h0M1268.7 1148.2h0M1303.2 1151.6h0M1263.2 1165.2h0M1291.9 1161.1h0M1355.3 1163.2h0M1161.0 1172.1h0M1200.5 1171.4h0M1211.4 1175.5h0M1139.1 1178.2h0M1237.3 1180.9h0M1216.9 1184.3h0M1246.9 1188.4h0M1180.0 1187.1h0M1195.1 1187.7h0M1150.0 1194.6h0M1231.9 1197.3h0M1302.8 1194.6h0M1326.0 1199.6h0M1238.7 1200.0h0M1251.0 1206.8h0M1311.0 1216.4h0M1240.1 1221.8h0M1244.2 1225.9h0M1264.6 1228.7h0M1297.3 1224.6h0M1278.2 1227.3h0M1151.4 1235.5h0M1162.3 1234.1h0M1169.1 1232.7h0M1177.3 1232.7h0M1283.7 1238.2h0M1308.3 1240.9h0M1319.8 1240.9h0M1332.8 1246.4h0M1179.4 1246.4h0M1191.0 1249.8h0M1171.9 1255.9h0M1190.3 1256.6h0M1208.0 1262.1h0M1272.8 1260.0h0M1300.1 1258.7h0M1272.8 1268.2h0M1283.7 1273.7h0M1317.8 1269.6h0M1330.1 1263.4h0M1341.0 1266.8h0M1356.0 1257.3h0M1237.3 1279.1h0M1138.5 1296.6h0M1286.2 1303.3h0M1311.0 1311.2h0M1356.0 1296.8h0M1338.3 1303.7h0M1342.4 1314.6h0M1335.5 1325.5h0M1354.6 1317.3h0M1153.9 1331.6h0M1252.1 1329.9h0M1155.5 1353.4h0M1516.0 1140.0h0M1421.2 1149.5h0M1388.5 1155.7h0M1583.5 1148.2h0M1555.5 1160.2h0M1358.4 1163.2h0M1388.5 1178.2h0M1442.3 1174.8h0M1446.4 1180.2h0M1539.2 1180.2h0M1377.5 1195.9h0M1366.6 1198.6h0M1465.5 1198.6h0M1409.6 1206.8h0M1402.8 1209.6h0M1495.5 1208.9h0M1376.2 1214.3h0M1567.8 1213.0h0M1591.0 1213.6h0M1427.3 1221.2h0M1537.1 1224.6h0M1514.6 1227.3h0M1371.4 1227.3h0M1395.3 1230.7h0M1414.4 1232.1h0M1548.7 1234.1h0M1561.0 1235.5h0M1536.4 1242.3h0M1438.9 1243.7h0M1471.6 1245.7h0M1380.3 1250.5h0M1573.3 1246.4h0M1563.7 1250.5h0M1607.4 1246.4h0M1501.0 1257.3h0M1396.0 1260.7h0M1481.9 1265.5h0M1447.8 1265.5h0M1467.6 1266.8h0M1374.8 1266.8h0M1520.1 1262.7h0M1426.0 1268.2h0M1393.9 1274.3h0M1408.9 1276.4h0M1457.3 1272.3h0M1518.7 1274.3h0M1492.8 1279.1h0M1591.0 1279.1h0M1606.7 1279.8h0M1445.1 1277.8h0M1421.9 1284.6h0M1434.1 1288.7h0M1511.9 1287.3h0M1501.0 1288.7h0M1592.4 1290.0h0M1359.1 1290.0h0M1417.8 1295.5h0M1524.2 1292.8h0M1555.5 1296.8h0M1398.7 1296.8h0M1458.7 1303.7h0M1411.0 1307.1h0M1436.9 1309.1h0M1468.2 1309.1h0M1520.1 1311.8h0M1601.9 1307.8h0M1574.6 1324.1h0M1540.5 1325.5h0M1506.4 1329.6h0M1405.5 1337.8h0M1451.9 1336.4h0M1436.9 1345.9h0M1570.5 1349.4h0M1616.6 1156.4h0M1625.5 1158.4h0M1657.5 1156.4h0M1645.3 1164.5h0M1793.3 1162.5h0M1824.6 1159.1h0M1626.9 1172.7h0M1658.2 1171.4h0M1715.5 1171.4h0M1838.3 1172.7h0M1816.4 1174.1h0M1721.0 1179.6h0M1742.8 1179.6h0M1753.7 1176.8h0M1644.6 1187.1h0M1666.4 1180.9h0M1832.8 1183.6h0M1706.0 1195.9h0M1819.2 1191.8h0M1768.7 1195.9h0M1760.5 1202.7h0M1748.2 1210.9h0M1686.9 1210.9h0M1775.5 1200.0h0M1641.9 1217.7h0M1654.1 1218.4h0M1736.0 1221.8h0M1763.2 1217.7h0M1771.4 1220.5h0M1796.0 1221.8h0M1824.6 1219.1h0M1683.5 1233.4h0M1838.3 1228.7h0M1609.1 1242.3h0M1624.1 1240.9h0M1636.4 1246.4h0M1693.7 1245.0h0M1756.4 1243.0h0M1751.0 1247.7h0M1820.5 1238.2h0M1675.3 1252.2h0M1617.3 1255.9h0M1723.7 1260.0h0M1756.4 1255.2h0M1768.7 1258.4h0M1823.3 1258.7h0M1819.2 1251.8h0M1850.5 1260.0h0M1735.3 1269.6h0M1838.9 1266.4h0M1654.1 1273.0h0M1669.4 1272.6h0M1611.9 1277.8h0M1624.1 1280.5h0M1801.4 1288.7h0M1650.0 1295.5h0M1637.8 1296.8h0M1728.7 1305.4h0M1610.5 1305.0h0M1713.1 1315.0h0M1804.6 1315.5h0M1624.1 1325.5h0M1830.8 1329.6h0M2013.2 1146.8h0M2039.2 1153.6h0M1935.5 1157.0h0M1897.3 1159.1h0M1876.9 1174.1h0M1870.0 1183.6h0M1859.1 1190.5h0M1908.9 1189.8h0M2032.3 1185.0h0M1919.1 1194.6h0M1990.1 1198.6h0M2001.0 1200.0h0M1888.5 1204.1h0M1864.6 1204.1h0M1927.3 1215.0h0M1921.9 1221.8h0M1934.1 1224.6h0M1889.1 1228.7h0M1972.3 1212.3h0M1930.0 1236.8h0M1972.3 1236.8h0M1960.1 1245.0h0M2033.7 1245.0h0M1999.6 1249.1h0M2047.3 1253.9h0M2035.1 1258.7h0M1879.6 1250.5h0M1913.7 1261.4h0M1861.9 1265.5h0M1879.6 1264.1h0M1971.0 1260.0h0M1965.5 1275.0h0M1981.9 1276.4h0M2022.8 1287.3h0M1987.3 1281.8h0M1966.9 1288.7h0M2016.0 1294.1h0M2047.3 1294.1h0M1932.8 1290.0h0M1898.7 1288.7h0M1864.6 1300.9h0M1876.9 1306.4h0M1979.1 1298.2h0M1992.8 1296.8h0M1992.8 1305.7h0M2035.1 1310.5h0M2047.3 1300.9h0M1951.9 1317.3h0M1976.4 1318.7h0M2009.2 1317.3h0M2059.6 1318.7h0M2046.0 1349.4h0M2069.2 1367.8h0M2051.4 1369.1h0M1197.4 900.4h0M1184.8 965.8h0M1173.5 1004.5h0M1243.3 1012.6h0M1277.2 1013.8h0M1356.4 1011.1h0M1220.5 1028.8h0M1242.4 1029.5h0M1337.8 1026.4h0M1352.2 1034.5h0M1318.4 1046.2h0M1238.5 1059.8h0M1251.4 1081.0h0M1194.7 1085.0h0M1254.1 1091.3h0M1210.0 1094.0h0M1238.8 1096.1h0M1346.7 1093.4h0M1180.3 1103.0h0M1269.4 1101.5h0M1200.1 1107.5h0M1187.5 1111.1h0M1150.6 1123.7h0M1200.1 1121.0h0M1247.8 1130.9h0M1224.4 1131.2h0M1256.8 1133.6h0M1712.3 820.8h0M1645.0 839.8h0M1482.0 937.3h0M1751.0 949.9h0M1703.3 975.1h0M1744.4 976.6h0M1765.1 979.6h0M1669.6 986.5h0M1628.6 1004.5h0M1759.7 1009.3h0M1754.3 1012.0h0M1720.6 1019.6h0M1750.7 1019.8h0M1690.3 1033.3h0M1732.7 1035.4h0M1737.2 1037.2h0M1584.5 1054.9h0M1676.8 1075.1h0M1639.0 1093.1h0M1647.1 1099.4h0M1567.9 1097.2h0M1721.0 1085.9h0M1604.5 1107.5h0M1675.0 1107.5h0M1717.4 1109.3h0M1662.4 1117.4h0M1628.8 1122.8h0M1686.7 1114.7h0M1709.2 1114.7h0M1752.5 1124.6h0M1676.8 1128.2h0M1515.7 1137.2h0M1766.9 1127.3h0M1777.3 917.9h0M1865.0 1011.7h0M1810.1 1031.8h0M1771.0 1058.0h0M1780.9 1072.4h0M1771.9 1079.0h0M1772.8 1111.4h0M1877.2 1124.6h0M1963.6 1128.2h0M1845.7 1133.6h0M1789.0 1130.0h0M1836.7 1129.1h0M2009.5 1137.2h0" stroke="#2ca02c" stroke-width="12.9" stroke-linecap="round" fill="none"/><path d="M174.8 1132.0v16.0M194.6 1138.9v15.9M202.7 1134.8v15.9M221.8 1141.6v15.8M242.3 1136.1v15.9M257.3 1138.9v15.9M269.6 1140.3v15.9M299.6 1134.1v16.0M187.7 1151.3v15.7M200.0 1152.6v15.7M220.5 1158.8v15.6M234.1 1154.7v15.6M252.5 1157.4v15.6M262.7 1147.1v15.8M270.9 1158.8v15.6M284.6 1154.0v15.6M292.8 1158.1v15.6M329.6 1154.7v15.6M176.8 1164.3v15.5M216.4 1166.4v15.5M254.6 1166.4v15.5M284.6 1162.9v15.5M343.2 1165.7v15.5M201.4 1173.9v15.3M216.4 1171.9v15.4M174.1 1178.1v15.3M186.4 1176.7v15.3M247.7 1179.4v15.2M321.4 1176.0v15.3M309.1 1180.1v15.2M324.1 1181.5v15.2M305.7 1184.9v15.2M200.0 1184.9v15.2M236.8 1187.0v15.1M344.6 1185.6v15.2M354.1 1189.7v15.1M391.0 1187.0v15.1M191.8 1192.5v15.0M211.6 1190.4v15.1M225.9 1192.5v15.0M251.2 1192.1v15.1M290.0 1192.5v15.0M307.8 1192.5v15.0M337.8 1191.1v15.1M198.6 1199.4v14.9M221.8 1199.4v14.9M240.9 1199.4v14.9M296.8 1199.4v14.9M328.2 1200.7v14.9M344.6 1200.7v14.9M373.2 1198.3v15.0M172.7 1206.9v14.8M208.2 1209.0v14.8M219.1 1213.1v14.7M252.5 1210.8v14.8M285.9 1210.4v14.8M300.9 1206.2v14.8M310.5 1208.3v14.8M320.0 1210.4v14.8M336.4 1211.7v14.7M288.7 1215.9v14.7M374.6 1213.8v14.7M172.7 1218.6v14.6M178.2 1226.9v14.5M219.1 1226.2v14.5M251.8 1229.2v14.5M284.6 1226.9v14.5M294.1 1225.5v14.5M309.1 1226.9v14.5M336.4 1226.9v14.5M346.6 1222.0v14.6M382.8 1224.4v14.5M288.7 1235.1v14.4M294.1 1237.8v14.3M337.1 1237.8v14.3M275.0 1240.6v14.3M313.2 1241.3v14.3M374.6 1240.6v14.3M320.0 1246.8v14.2M310.5 1253.0v14.1M343.2 1250.9v14.1M189.8 1259.2v14.0M237.5 1258.2v14.0M324.1 1258.5v14.0M336.4 1259.8v14.0M318.7 1264.0v13.9M330.9 1267.4v13.9M278.2 1267.4v13.9M344.6 1269.5v13.8M363.7 1264.7v13.9M371.9 1265.3v13.9M363.7 1272.2v13.8M333.7 1276.3v13.7M386.9 1280.5v13.7M185.7 1283.9v13.6M193.2 1282.5v13.6M185.0 1291.5v13.5M347.3 1289.4v13.5M360.9 1283.2v13.6M359.6 1292.8v13.5M380.0 1281.8v13.7M171.4 1303.1v13.3M177.5 1301.8v13.3M335.0 1304.5v13.3M340.5 1304.5v13.3M378.7 1298.3v13.4M347.0 1315.9v13.1M360.9 1314.8v13.1M365.0 1310.7v13.2M382.1 1314.8v13.1M388.2 1303.8v13.3M170.7 1330.9v12.9M373.0 1333.7v12.8M384.1 1328.6v12.9M388.2 1324.4v13.0M152.3 1360.2v12.4M157.7 1354.7v12.5M165.0 1368.2v12.3M163.2 1376.4v12.2M142.7 1349.2v12.6M500.5 1144.1v15.8M632.1 1145.1v15.8M445.9 1181.1v15.2M554.3 1181.1v15.2M393.4 1187.0v15.1M640.3 1163.6v15.5M460.9 1190.4v15.1M473.2 1191.1v15.1M493.7 1192.9v15.0M509.3 1197.6v15.0M545.5 1193.9v15.0M557.1 1192.5v15.0M550.9 1199.4v14.9M622.5 1193.9v15.0M628.7 1196.6v15.0M419.3 1200.0v14.9M429.6 1202.8v14.9M463.6 1200.0v14.9M480.0 1200.7v14.9M455.5 1206.2v14.8M485.5 1206.2v14.8M424.1 1211.0v14.8M490.2 1211.7v14.7M501.8 1214.2v14.7M445.2 1214.9v14.7M582.3 1211.7v14.7M523.0 1220.0v14.6M531.8 1221.4v14.6M562.5 1217.2v14.7M614.4 1220.7v14.6M538.0 1228.2v14.5M596.6 1229.6v14.5M400.9 1232.4v14.4M409.1 1230.3v14.5M435.7 1234.4v14.4M449.3 1235.1v14.4M458.2 1240.6v14.3M469.1 1237.2v14.3M542.8 1239.2v14.3M572.8 1239.2v14.3M585.0 1237.8v14.3M605.5 1240.6v14.3M617.1 1242.7v14.3M628.7 1233.0v14.4M636.9 1228.2v14.5M634.1 1240.6v14.3M395.5 1246.1v14.2M406.4 1249.5v14.2M428.2 1246.1v14.2M428.9 1250.9v14.1M512.1 1247.5v14.2M552.3 1249.5v14.2M540.0 1253.0v14.1M568.7 1248.8v14.2M606.9 1255.7v14.1M638.2 1248.8v14.2M627.3 1254.3v14.1M462.3 1256.4v14.1M534.6 1257.1v14.0M396.8 1258.5v14.0M564.6 1258.5v14.0M572.8 1264.0v13.9M586.4 1266.0v13.9M615.0 1262.6v14.0M621.9 1264.0v13.9M470.5 1266.0v13.9M542.1 1268.1v13.9M514.1 1270.8v13.8M407.7 1269.5v13.8M441.8 1272.2v13.8M413.2 1275.0v13.8M530.5 1273.6v13.8M559.1 1276.3v13.7M583.7 1273.6v13.8M602.8 1277.7v13.7M616.4 1276.3v13.7M426.1 1279.1v13.7M486.8 1279.1v13.7M501.8 1279.8v13.7M403.6 1281.8v13.7M587.8 1281.8v13.7M414.5 1287.3v13.6M473.2 1289.4v13.5M523.7 1284.6v13.6M544.1 1288.7v13.5M600.0 1283.2v13.6M621.9 1297.0v13.4M394.1 1294.2v13.5M425.5 1292.8v13.5M480.0 1292.8v13.5M505.9 1290.1v13.5M516.8 1292.8v13.5M531.8 1295.6v13.4M580.9 1295.6v13.4M593.2 1298.3v13.4M630.0 1295.6v13.4M435.0 1298.3v13.4M460.9 1302.5v13.3M520.9 1301.1v13.4M535.9 1302.5v13.3M550.9 1299.0v13.4M563.2 1301.1v13.4M578.2 1303.1v13.3M602.8 1305.2v13.3M621.9 1305.2v13.3M495.0 1308.0v13.2M428.2 1309.3v13.2M455.5 1308.6v13.2M527.8 1308.6v13.2M541.4 1309.3v13.2M590.5 1308.0v13.2M636.9 1309.3v13.2M578.2 1310.7v13.2M598.7 1312.1v13.2M394.1 1313.5v13.2M436.4 1314.8v13.1M463.6 1312.1v13.2M504.6 1313.5v13.2M520.9 1313.5v13.2M549.6 1316.2v13.1M567.3 1315.5v13.1M615.7 1314.1v13.2M630.0 1318.9v13.1M638.2 1321.7v13.0M450.0 1321.7v13.0M469.1 1323.1v13.0M480.0 1318.9v13.1M489.6 1320.3v13.1M527.8 1323.1v13.0M534.6 1324.4v13.0M587.1 1323.8v13.0M392.7 1323.1v13.0M623.2 1326.5v13.0M426.8 1332.7v12.9M410.5 1329.9v12.9M443.9 1334.1v12.8M474.6 1328.6v12.9M466.4 1334.1v12.8M477.3 1334.8v12.8M493.7 1329.9v12.9M507.3 1329.9v12.9M516.8 1332.7v12.9M526.4 1329.9v12.9M538.0 1334.1v12.8M565.9 1329.3v12.9M583.7 1332.7v12.9M499.1 1338.2v12.8M508.7 1336.8v12.8M617.8 1349.9v12.6M606.9 1354.7v12.5M710.9 1138.9v15.9M730.0 1136.1v15.9M758.7 1133.4v16.0M788.7 1137.5v15.9M795.5 1144.4v15.8M811.8 1136.1v15.9M805.0 1143.0v15.8M835.0 1134.8v15.9M848.7 1132.0v16.0M865.7 1140.9v15.8M877.3 1141.6v15.8M728.7 1145.8v15.8M784.6 1145.8v15.8M649.5 1155.4v15.6M683.6 1156.1v15.6M697.3 1154.0v15.6M716.4 1153.3v15.7M747.7 1155.4v15.6M761.4 1156.7v15.6M787.3 1155.4v15.6M800.9 1151.3v15.7M811.8 1156.7v15.6M860.9 1154.0v15.6M882.8 1160.2v15.5M645.5 1162.2v15.5M674.1 1166.4v15.5M710.9 1165.0v15.5M723.2 1169.1v15.4M736.8 1169.1v15.4M765.5 1169.1v15.4M806.4 1167.7v15.4M817.3 1166.4v15.5M833.7 1165.0v15.5M844.6 1169.1v15.4M850.0 1171.9v15.4M798.2 1171.9v15.4M826.9 1174.6v15.3M661.1 1176.7v15.3M650.2 1182.9v15.2M697.3 1177.4v15.3M740.9 1182.2v15.2M779.1 1184.2v15.2M799.6 1178.7v15.3M811.8 1184.2v15.2M829.6 1180.1v15.2M841.9 1182.9v15.2M836.4 1187.0v15.1M884.1 1182.9v15.2M876.0 1187.0v15.1M697.3 1185.6v15.2M676.1 1191.8v15.1M660.5 1191.1v15.1M787.3 1191.1v15.1M775.0 1196.6v15.0M713.6 1193.9v15.0M705.5 1198.0v15.0M737.5 1202.1v14.9M821.4 1192.5v15.0M814.6 1199.4v14.9M850.0 1196.6v15.0M859.6 1193.9v15.0M870.5 1196.6v15.0M885.5 1199.4v14.9M878.7 1192.5v15.0M683.6 1202.8v14.9M653.6 1209.7v14.8M662.5 1207.6v14.8M713.6 1209.7v14.8M743.7 1211.7v14.7M766.8 1209.7v14.8M817.3 1207.6v14.8M837.8 1206.2v14.8M852.8 1204.9v14.9M847.3 1213.1v14.7M885.5 1213.1v14.7M700.0 1219.3v14.6M732.7 1222.7v14.6M779.8 1220.7v14.6M801.3 1223.4v14.6M858.2 1220.0v14.6M850.0 1221.4v14.6M865.0 1226.9v14.5M882.8 1220.0v14.6M652.3 1225.5v14.5M689.1 1226.9v14.5M673.4 1231.0v14.4M685.0 1232.4v14.4M701.4 1234.0v14.4M847.3 1235.8v14.4M860.9 1236.5v14.4M864.4 1242.0v14.3M886.9 1231.0v14.4M732.1 1243.3v14.3M819.1 1242.4v14.3M657.7 1248.2v14.2M692.5 1251.6v14.1M765.5 1248.6v14.2M664.5 1255.7v14.1M653.6 1257.1v14.0M689.1 1255.7v14.1M885.5 1254.3v14.1M889.6 1248.8v14.2M744.1 1263.3v13.9M671.4 1267.4v13.9M889.6 1266.7v13.9M754.3 1271.5v13.8M652.3 1272.9v13.8M863.7 1277.0v13.7M691.1 1280.5v13.7M648.2 1281.8v13.7M874.6 1284.3v13.6M848.0 1284.9v13.6M665.2 1285.3v13.6M682.3 1284.6v13.6M698.6 1287.3v13.6M652.3 1291.5v13.5M671.4 1294.2v13.5M700.7 1301.8v13.3M671.4 1299.7v13.4M867.8 1303.6v13.3M681.6 1307.3v13.3M642.7 1308.6v13.2M879.1 1313.7v13.2M695.0 1314.1v13.2M858.2 1318.3v13.1M867.8 1321.0v13.0M661.8 1314.8v13.1M640.0 1321.7v13.0M896.8 1134.8v15.9M945.9 1133.4v16.0M1055.0 1132.0v16.0M1079.6 1137.5v15.9M936.4 1141.6v15.8M894.1 1145.8v15.8M918.0 1147.8v15.7M956.8 1150.6v15.7M1014.1 1149.9v15.7M1041.4 1153.3v15.7M1063.2 1152.6v15.7M1078.2 1155.4v15.6M903.6 1158.1v15.6M917.3 1162.2v15.5M960.9 1162.2v15.5M1015.5 1170.5v15.4M1034.6 1173.2v15.3M1046.8 1172.6v15.4M1074.1 1165.0v15.5M1075.5 1173.2v15.3M929.6 1171.9v15.4M992.3 1174.6v15.3M952.7 1174.6v15.3M914.5 1182.2v15.2M924.1 1181.5v15.2M962.3 1180.8v15.2M970.5 1184.9v15.2M986.8 1180.1v15.2M1003.2 1179.4v15.2M1029.1 1180.1v15.2M1052.3 1181.5v15.2M1035.9 1184.2v15.2M891.4 1188.4v15.1M907.7 1195.9v15.0M951.4 1199.4v14.9M959.6 1195.9v15.0M1000.5 1191.8v15.1M1015.5 1196.6v15.0M1022.3 1199.4v14.9M1063.2 1200.0v14.9M1078.2 1193.9v15.0M1078.2 1200.7v14.9M894.1 1211.7v14.7M902.3 1210.4v14.8M914.5 1213.1v14.7M938.4 1214.5v14.7M986.8 1211.7v14.7M999.1 1214.5v14.7M1012.7 1209.0v14.8M1034.6 1213.8v14.7M1044.1 1211.0v14.8M1053.7 1210.4v14.8M900.9 1220.0v14.6M1068.7 1221.4v14.6M1053.7 1225.5v14.5M997.7 1225.5v14.5M1016.8 1221.4v14.6M978.7 1228.2v14.5M973.2 1231.0v14.4M910.5 1229.6v14.5M891.4 1226.9v14.5M892.7 1237.8v14.3M905.0 1242.0v14.3M930.9 1237.8v14.3M937.7 1233.7v14.4M944.6 1240.6v14.3M958.2 1240.6v14.3M985.5 1239.2v14.3M1007.3 1235.1v14.4M1049.6 1239.2v14.3M1063.2 1235.1v14.4M1065.9 1237.8v14.3M990.9 1246.1v14.2M1000.5 1246.1v14.2M894.1 1248.8v14.2M905.0 1251.6v14.1M920.0 1248.8v14.2M1045.5 1246.1v14.2M1055.0 1251.6v14.1M1067.3 1254.3v14.1M1079.6 1254.3v14.1M1015.5 1253.0v14.1M1033.2 1257.1v14.0M982.7 1253.0v14.1M922.7 1259.8v14.0M956.8 1261.2v14.0M977.3 1262.6v14.0M1020.9 1262.6v14.0M1042.8 1262.6v14.0M1078.2 1261.2v14.0M892.7 1266.7v13.9M936.4 1266.7v13.9M963.6 1268.1v13.9M1000.5 1269.5v13.8M1026.4 1270.8v13.8M1049.6 1269.5v13.8M1065.9 1268.1v13.9M1080.9 1272.2v13.8M935.0 1275.0v13.8M952.7 1275.0v13.8M973.2 1272.2v13.8M1031.8 1277.7v13.7M1048.2 1275.0v13.8M1067.3 1277.7v13.7M911.8 1284.6v13.6M917.3 1280.5v13.7M988.2 1280.5v13.7M1012.1 1281.8v13.7M1078.2 1280.5v13.7M975.9 1287.3v13.6M947.3 1290.1v13.5M1040.0 1288.7v13.5M1078.2 1290.1v13.5M930.9 1292.1v13.5M990.9 1293.5v13.5M1001.8 1294.9v13.5M1061.8 1295.6v13.4M910.5 1292.8v13.5M1040.0 1295.6v13.4M963.6 1297.0v13.4M945.9 1299.7v13.4M955.5 1303.8v13.3M966.4 1299.7v13.4M993.7 1305.2v13.3M1076.9 1307.3v13.3M895.5 1310.3v13.2M974.8 1313.5v13.2M989.6 1315.5v13.1M1076.9 1320.3v13.1M1042.3 1324.4v13.0M1007.3 1326.2v13.0M1083.7 1335.4v12.8M1091.9 1339.6v12.8M938.1 1341.9v12.7M1085.0 1350.6v12.6M1094.6 1351.9v12.6M1086.4 1357.4v12.5M1091.9 1362.9v12.4M1085.0 1367.7v12.3M1105.5 1354.7v12.5M213.6 958.6v18.0M269.2 972.8v18.0M241.3 1023.9v17.7M312.0 1025.4v17.6M268.8 1033.9v17.5M230.7 1049.3v17.3M228.7 1061.1v17.1M253.2 1062.6v17.1M281.8 1071.1v16.9M330.9 1077.4v16.8M249.9 1087.4v16.7M305.7 1090.7v16.6M201.0 1094.1v16.6M334.9 1093.8v16.6M249.9 1098.3v16.5M271.2 1100.7v16.5M196.5 1103.2v16.4M321.0 1106.1v16.4M178.3 1107.0v16.4M276.0 1109.2v16.3M239.1 1110.1v16.3M222.9 1112.8v16.3M330.9 1114.6v16.3M173.4 1119.2v16.2M325.5 1121.9v16.1M188.7 1125.0v16.1M260.7 1123.7v16.1M202.2 1125.5v16.1M792.7 892.7v18.0M715.8 919.0v18.0M759.6 938.8v18.0M731.5 950.3v18.0M748.8 972.4v18.0M792.9 986.3v18.0M719.8 1016.3v17.8M722.5 1031.2v17.6M759.1 1030.3v17.6M750.1 1032.1v17.5M742.8 1034.8v17.5M739.2 1038.4v17.4M769.9 1038.1v17.4M705.0 1047.5v17.3M753.7 1045.7v17.3M715.8 1058.0v17.1M751.9 1055.7v17.2M705.0 1071.4v16.9M728.4 1071.1v16.9M742.8 1076.5v16.9M752.8 1076.5v16.9M715.8 1080.2v16.8M695.1 1090.1v16.6M708.6 1095.6v16.6M721.2 1095.6v16.6M732.0 1093.8v16.6M744.6 1095.6v16.6M690.6 1104.7v16.4M739.2 1102.8v16.4M789.7 1104.7v16.4M796.9 1104.7v16.4M506.1 1103.7v16.4M720.3 1111.9v16.3M732.0 1111.9v16.3M743.7 1121.0v16.2M759.1 1121.0v16.2M673.9 1125.5v16.1M791.5 1125.5v16.1M813.6 1007.2v17.9M824.4 1048.0v17.3M888.0 1046.2v17.3M855.0 1068.0v17.0M886.2 1073.8v16.9M886.5 1086.5v16.7M1071.9 1093.2v16.6M832.5 1097.0v16.5M1058.4 1105.6v16.4M1062.9 1107.4v16.4M1072.8 1111.0v16.3M817.2 1110.6v16.3M849.6 1119.2v16.2M808.2 1116.4v16.2M867.6 1123.7v16.1M1075.2 1122.8v16.1M848.7 1129.1v16.0M1054.5 1128.2v16.0M801.0 1106.5v16.4M1141.2 1132.0v16.0M1161.0 1138.9v15.9M1169.1 1134.8v15.9M1188.2 1141.6v15.8M1208.7 1136.1v15.9M1223.7 1138.9v15.9M1236.0 1140.3v15.9M1266.0 1134.1v16.0M1154.1 1151.3v15.7M1166.4 1152.6v15.7M1186.9 1158.8v15.6M1200.5 1154.7v15.6M1218.9 1157.4v15.6M1229.1 1147.1v15.8M1237.3 1158.8v15.6M1251.0 1154.0v15.6M1259.2 1158.1v15.6M1296.0 1154.7v15.6M1143.2 1164.3v15.5M1182.8 1166.4v15.5M1221.0 1166.4v15.5M1251.0 1162.9v15.5M1309.6 1165.7v15.5M1167.8 1173.9v15.3M1182.8 1171.9v15.4M1140.5 1178.1v15.3M1152.8 1176.7v15.3M1214.1 1179.4v15.2M1287.8 1176.0v15.3M1275.5 1180.1v15.2M1290.5 1181.5v15.2M1272.1 1184.9v15.2M1166.4 1184.9v15.2M1203.2 1187.0v15.1M1311.0 1185.6v15.2M1320.5 1189.7v15.1M1357.4 1187.0v15.1M1158.2 1192.5v15.0M1178.0 1190.4v15.1M1192.3 1192.5v15.0M1217.6 1192.1v15.1M1256.4 1192.5v15.0M1274.2 1192.5v15.0M1304.2 1191.1v15.1M1165.0 1199.4v14.9M1188.2 1199.4v14.9M1207.3 1199.4v14.9M1263.2 1199.4v14.9M1294.6 1200.7v14.9M1311.0 1200.7v14.9M1339.6 1198.3v15.0M1139.1 1206.9v14.8M1174.6 1209.0v14.8M1185.5 1213.1v14.7M1218.9 1210.8v14.8M1252.3 1210.4v14.8M1267.3 1206.2v14.8M1276.9 1208.3v14.8M1286.4 1210.4v14.8M1302.8 1211.7v14.7M1255.1 1215.9v14.7M1341.0 1213.8v14.7M1139.1 1218.6v14.6M1144.6 1226.9v14.5M1185.5 1226.2v14.5M1218.2 1229.2v14.5M1251.0 1226.9v14.5M1260.5 1225.5v14.5M1275.5 1226.9v14.5M1302.8 1226.9v14.5M1313.0 1222.0v14.6M1349.2 1224.4v14.5M1255.1 1235.1v14.4M1260.5 1237.8v14.3M1303.5 1237.8v14.3M1241.4 1240.6v14.3M1279.6 1241.3v14.3M1341.0 1240.6v14.3M1286.4 1246.8v14.2M1276.9 1253.0v14.1M1309.6 1250.9v14.1M1156.2 1259.2v14.0M1203.9 1258.2v14.0M1290.5 1258.5v14.0M1302.8 1259.8v14.0M1285.1 1264.0v13.9M1297.3 1267.4v13.9M1244.6 1267.4v13.9M1311.0 1269.5v13.8M1330.1 1264.7v13.9M1338.3 1265.3v13.9M1330.1 1272.2v13.8M1300.1 1276.3v13.7M1353.3 1280.5v13.7M1152.1 1283.9v13.6M1159.6 1282.5v13.6M1151.4 1291.5v13.5M1313.7 1289.4v13.5M1327.3 1283.2v13.6M1326.0 1292.8v13.5M1346.4 1281.8v13.7M1137.8 1303.1v13.3M1143.9 1301.8v13.3M1301.4 1304.5v13.3M1306.9 1304.5v13.3M1345.1 1298.3v13.4M1313.4 1315.9v13.1M1327.3 1314.8v13.1M1331.4 1310.7v13.2M1348.5 1314.8v13.1M1354.6 1303.8v13.3M1137.1 1330.9v12.9M1339.4 1333.7v12.8M1350.5 1328.6v12.9M1354.6 1324.4v13.0M1118.7 1360.2v12.4M1124.1 1354.7v12.5M1131.4 1368.2v12.3M1129.6 1376.4v12.2M1109.1 1349.2v12.6M1466.9 1144.1v15.8M1598.5 1145.1v15.8M1412.3 1181.1v15.2M1520.7 1181.1v15.2M1359.8 1187.0v15.1M1606.7 1163.6v15.5M1427.3 1190.4v15.1M1439.6 1191.1v15.1M1460.1 1192.9v15.0M1475.7 1197.6v15.0M1511.9 1193.9v15.0M1523.5 1192.5v15.0M1517.3 1199.4v14.9M1588.9 1193.9v15.0M1595.1 1196.6v15.0M1385.7 1200.0v14.9M1396.0 1202.8v14.9M1430.0 1200.0v14.9M1446.4 1200.7v14.9M1421.9 1206.2v14.8M1451.9 1206.2v14.8M1390.5 1211.0v14.8M1456.6 1211.7v14.7M1468.2 1214.2v14.7M1411.6 1214.9v14.7M1548.7 1211.7v14.7M1489.4 1220.0v14.6M1498.2 1221.4v14.6M1528.9 1217.2v14.7M1580.8 1220.7v14.6M1504.4 1228.2v14.5M1563.0 1229.6v14.5M1367.3 1232.4v14.4M1375.5 1230.3v14.5M1402.1 1234.4v14.4M1415.7 1235.1v14.4M1424.6 1240.6v14.3M1435.5 1237.2v14.3M1509.2 1239.2v14.3M1539.2 1239.2v14.3M1551.4 1237.8v14.3M1571.9 1240.6v14.3M1583.5 1242.7v14.3M1595.1 1233.0v14.4M1603.3 1228.2v14.5M1600.5 1240.6v14.3M1361.9 1246.1v14.2M1372.8 1249.5v14.2M1394.6 1246.1v14.2M1395.3 1250.9v14.1M1478.5 1247.5v14.2M1518.7 1249.5v14.2M1506.4 1253.0v14.1M1535.1 1248.8v14.2M1573.3 1255.7v14.1M1604.6 1248.8v14.2M1593.7 1254.3v14.1M1428.7 1256.4v14.1M1501.0 1257.1v14.0M1363.2 1258.5v14.0M1531.0 1258.5v14.0M1539.2 1264.0v13.9M1552.8 1266.0v13.9M1581.4 1262.6v14.0M1588.3 1264.0v13.9M1436.9 1266.0v13.9M1508.5 1268.1v13.9M1480.5 1270.8v13.8M1374.1 1269.5v13.8M1408.2 1272.2v13.8M1379.6 1275.0v13.8M1496.9 1273.6v13.8M1525.5 1276.3v13.7M1550.1 1273.6v13.8M1569.2 1277.7v13.7M1582.8 1276.3v13.7M1392.5 1279.1v13.7M1453.2 1279.1v13.7M1468.2 1279.8v13.7M1370.0 1281.8v13.7M1554.2 1281.8v13.7M1380.9 1287.3v13.6M1439.6 1289.4v13.5M1490.1 1284.6v13.6M1510.5 1288.7v13.5M1566.4 1283.2v13.6M1588.3 1297.0v13.4M1360.5 1294.2v13.5M1391.9 1292.8v13.5M1446.4 1292.8v13.5M1472.3 1290.1v13.5M1483.2 1292.8v13.5M1498.2 1295.6v13.4M1547.3 1295.6v13.4M1559.6 1298.3v13.4M1596.4 1295.6v13.4M1401.4 1298.3v13.4M1427.3 1302.5v13.3M1487.3 1301.1v13.4M1502.3 1302.5v13.3M1517.3 1299.0v13.4M1529.6 1301.1v13.4M1544.6 1303.1v13.3M1569.2 1305.2v13.3M1588.3 1305.2v13.3M1461.4 1308.0v13.2M1394.6 1309.3v13.2M1421.9 1308.6v13.2M1494.2 1308.6v13.2M1507.8 1309.3v13.2M1556.9 1308.0v13.2M1603.3 1309.3v13.2M1544.6 1310.7v13.2M1565.1 1312.1v13.2M1360.5 1313.5v13.2M1402.8 1314.8v13.1M1430.0 1312.1v13.2M1471.0 1313.5v13.2M1487.3 1313.5v13.2M1516.0 1316.2v13.1M1533.7 1315.5v13.1M1582.1 1314.1v13.2M1596.4 1318.9v13.1M1604.6 1321.7v13.0M1416.4 1321.7v13.0M1435.5 1323.1v13.0M1446.4 1318.9v13.1M1456.0 1320.3v13.1M1494.2 1323.1v13.0M1501.0 1324.4v13.0M1553.5 1323.8v13.0M1359.1 1323.1v13.0M1589.6 1326.5v13.0M1393.2 1332.7v12.9M1376.9 1329.9v12.9M1410.3 1334.1v12.8M1441.0 1328.6v12.9M1432.8 1334.1v12.8M1443.7 1334.8v12.8M1460.1 1329.9v12.9M1473.7 1329.9v12.9M1483.2 1332.7v12.9M1492.8 1329.9v12.9M1504.4 1334.1v12.8M1532.3 1329.3v12.9M1550.1 1332.7v12.9M1465.5 1338.2v12.8M1475.1 1336.8v12.8M1584.2 1349.9v12.6M1573.3 1354.7v12.5M1677.3 1138.9v15.9M1696.4 1136.1v15.9M1725.1 1133.4v16.0M1755.1 1137.5v15.9M1761.9 1144.4v15.8M1778.2 1136.1v15.9M1771.4 1143.0v15.8M1801.4 1134.8v15.9M1815.1 1132.0v16.0M1832.1 1140.9v15.8M1843.7 1141.6v15.8M1695.1 1145.8v15.8M1751.0 1145.8v15.8M1615.9 1155.4v15.6M1650.0 1156.1v15.6M1663.7 1154.0v15.6M1682.8 1153.3v15.7M1714.1 1155.4v15.6M1727.8 1156.7v15.6M1753.7 1155.4v15.6M1767.3 1151.3v15.7M1778.2 1156.7v15.6M1827.3 1154.0v15.6M1849.2 1160.2v15.5M1611.9 1162.2v15.5M1640.5 1166.4v15.5M1677.3 1165.0v15.5M1689.6 1169.1v15.4M1703.2 1169.1v15.4M1731.9 1169.1v15.4M1772.8 1167.7v15.4M1783.7 1166.4v15.5M1800.1 1165.0v15.5M1811.0 1169.1v15.4M1816.4 1171.9v15.4M1764.6 1171.9v15.4M1793.3 1174.6v15.3M1627.5 1176.7v15.3M1616.6 1182.9v15.2M1663.7 1177.4v15.3M1707.3 1182.2v15.2M1745.5 1184.2v15.2M1766.0 1178.7v15.3M1778.2 1184.2v15.2M1796.0 1180.1v15.2M1808.3 1182.9v15.2M1802.8 1187.0v15.1M1850.5 1182.9v15.2M1842.4 1187.0v15.1M1663.7 1185.6v15.2M1642.5 1191.8v15.1M1626.9 1191.1v15.1M1753.7 1191.1v15.1M1741.4 1196.6v15.0M1680.0 1193.9v15.0M1671.9 1198.0v15.0M1703.9 1202.1v14.9M1787.8 1192.5v15.0M1781.0 1199.4v14.9M1816.4 1196.6v15.0M1826.0 1193.9v15.0M1836.9 1196.6v15.0M1851.9 1199.4v14.9M1845.1 1192.5v15.0M1650.0 1202.8v14.9M1620.0 1209.7v14.8M1628.9 1207.6v14.8M1680.0 1209.7v14.8M1710.1 1211.7v14.7M1733.2 1209.7v14.8M1783.7 1207.6v14.8M1804.2 1206.2v14.8M1819.2 1204.9v14.9M1813.7 1213.1v14.7M1851.9 1213.1v14.7M1666.4 1219.3v14.6M1699.1 1222.7v14.6M1746.2 1220.7v14.6M1767.7 1223.4v14.6M1824.6 1220.0v14.6M1816.4 1221.4v14.6M1831.4 1226.9v14.5M1849.2 1220.0v14.6M1618.7 1225.5v14.5M1655.5 1226.9v14.5M1639.8 1231.0v14.4M1651.4 1232.4v14.4M1667.8 1234.0v14.4M1813.7 1235.8v14.4M1827.3 1236.5v14.4M1830.8 1242.0v14.3M1853.3 1231.0v14.4M1698.5 1243.3v14.3M1785.5 1242.4v14.3M1624.1 1248.2v14.2M1658.9 1251.6v14.1M1731.9 1248.6v14.2M1630.9 1255.7v14.1M1620.0 1257.1v14.0M1655.5 1255.7v14.1M1851.9 1254.3v14.1M1856.0 1248.8v14.2M1710.5 1263.3v13.9M1637.8 1267.4v13.9M1856.0 1266.7v13.9M1720.7 1271.5v13.8M1618.7 1272.9v13.8M1830.1 1277.0v13.7M1657.5 1280.5v13.7M1614.6 1281.8v13.7M1841.0 1284.3v13.6M1814.4 1284.9v13.6M1631.6 1285.3v13.6M1648.7 1284.6v13.6M1665.0 1287.3v13.6M1618.7 1291.5v13.5M1637.8 1294.2v13.5M1667.1 1301.8v13.3M1637.8 1299.7v13.4M1834.2 1303.6v13.3M1648.0 1307.3v13.3M1609.1 1308.6v13.2M1845.5 1313.7v13.2M1661.4 1314.1v13.2M1824.6 1318.3v13.1M1834.2 1321.0v13.0M1628.2 1314.8v13.1M1606.4 1321.7v13.0M1863.2 1134.8v15.9M1912.3 1133.4v16.0M2021.4 1132.0v16.0M2046.0 1137.5v15.9M1902.8 1141.6v15.8M1860.5 1145.8v15.8M1884.4 1147.8v15.7M1923.2 1150.6v15.7M1980.5 1149.9v15.7M2007.8 1153.3v15.7M2029.6 1152.6v15.7M2044.6 1155.4v15.6M1870.0 1158.1v15.6M1883.7 1162.2v15.5M1927.3 1162.2v15.5M1981.9 1170.5v15.4M2001.0 1173.2v15.3M2013.2 1172.6v15.4M2040.5 1165.0v15.5M2041.9 1173.2v15.3M1896.0 1171.9v15.4M1958.7 1174.6v15.3M1919.1 1174.6v15.3M1880.9 1182.2v15.2M1890.5 1181.5v15.2M1928.7 1180.8v15.2M1936.9 1184.9v15.2M1953.2 1180.1v15.2M1969.6 1179.4v15.2M1995.5 1180.1v15.2M2018.7 1181.5v15.2M2002.3 1184.2v15.2M1857.8 1188.4v15.1M1874.1 1195.9v15.0M1917.8 1199.4v14.9M1926.0 1195.9v15.0M1966.9 1191.8v15.1M1981.9 1196.6v15.0M1988.7 1199.4v14.9M2029.6 1200.0v14.9M2044.6 1193.9v15.0M2044.6 1200.7v14.9M1860.5 1211.7v14.7M1868.7 1210.4v14.8M1880.9 1213.1v14.7M1904.8 1214.5v14.7M1953.2 1211.7v14.7M1965.5 1214.5v14.7M1979.1 1209.0v14.8M2001.0 1213.8v14.7M2010.5 1211.0v14.8M2020.1 1210.4v14.8M1867.3 1220.0v14.6M2035.1 1221.4v14.6M2020.1 1225.5v14.5M1964.1 1225.5v14.5M1983.2 1221.4v14.6M1945.1 1228.2v14.5M1939.6 1231.0v14.4M1876.9 1229.6v14.5M1857.8 1226.9v14.5M1859.1 1237.8v14.3M1871.4 1242.0v14.3M1897.3 1237.8v14.3M1904.1 1233.7v14.4M1911.0 1240.6v14.3M1924.6 1240.6v14.3M1951.9 1239.2v14.3M1973.7 1235.1v14.4M2016.0 1239.2v14.3M2029.6 1235.1v14.4M2032.3 1237.8v14.3M1957.3 1246.1v14.2M1966.9 1246.1v14.2M1860.5 1248.8v14.2M1871.4 1251.6v14.1M1886.4 1248.8v14.2M2011.9 1246.1v14.2M2021.4 1251.6v14.1M2033.7 1254.3v14.1M2046.0 1254.3v14.1M1981.9 1253.0v14.1M1999.6 1257.1v14.0M1949.1 1253.0v14.1M1889.1 1259.8v14.0M1923.2 1261.2v14.0M1943.7 1262.6v14.0M1987.3 1262.6v14.0M2009.2 1262.6v14.0M2044.6 1261.2v14.0M1859.1 1266.7v13.9M1902.8 1266.7v13.9M1930.0 1268.1v13.9M1966.9 1269.5v13.8M1992.8 1270.8v13.8M2016.0 1269.5v13.8M2032.3 1268.1v13.9M2047.3 1272.2v13.8M1901.4 1275.0v13.8M1919.1 1275.0v13.8M1939.6 1272.2v13.8M1998.2 1277.7v13.7M2014.6 1275.0v13.8M2033.7 1277.7v13.7M1878.2 1284.6v13.6M1883.7 1280.5v13.7M1954.6 1280.5v13.7M1978.5 1281.8v13.7M2044.6 1280.5v13.7M1942.3 1287.3v13.6M1913.7 1290.1v13.5M2006.4 1288.7v13.5M2044.6 1290.1v13.5M1897.3 1292.1v13.5M1957.3 1293.5v13.5M1968.2 1294.9v13.5M2028.2 1295.6v13.4M1876.9 1292.8v13.5M2006.4 1295.6v13.4M1930.0 1297.0v13.4M1912.3 1299.7v13.4M1921.9 1303.8v13.3M1932.8 1299.7v13.4M1960.1 1305.2v13.3M2043.3 1307.3v13.3M1861.9 1310.3v13.2M1941.2 1313.5v13.2M1956.0 1315.5v13.1M2043.3 1320.3v13.1M2008.7 1324.4v13.0M1973.7 1326.2v13.0M2050.1 1335.4v12.8M2058.3 1339.6v12.8M1904.5 1341.9v12.7M2051.4 1350.6v12.6M2061.0 1351.9v12.6M2052.8 1357.4v12.5M2058.3 1362.9v12.4M2051.4 1367.7v12.3M2071.9 1354.7v12.5M1180.0 958.6v18.0M1235.6 972.8v18.0M1207.7 1023.9v17.7M1278.4 1025.4v17.6M1235.2 1033.9v17.5M1197.1 1049.3v17.3M1195.1 1061.1v17.1M1219.6 1062.6v17.1M1248.2 1071.1v16.9M1297.3 1077.4v16.8M1216.3 1087.4v16.7M1272.1 1090.7v16.6M1167.4 1094.1v16.6M1301.3 1093.8v16.6M1216.3 1098.3v16.5M1237.6 1100.7v16.5M1162.9 1103.2v16.4M1287.4 1106.1v16.4M1144.7 1107.0v16.4M1242.4 1109.2v16.3M1205.5 1110.1v16.3M1189.3 1112.8v16.3M1297.3 1114.6v16.3M1139.8 1119.2v16.2M1291.9 1121.9v16.1M1155.1 1125.0v16.1M1227.1 1123.7v16.1M1168.6 1125.5v16.1M1759.1 892.7v18.0M1682.2 919.0v18.0M1726.0 938.8v18.0M1697.9 950.3v18.0M1715.2 972.4v18.0M1759.3 986.3v18.0M1686.2 1016.3v17.8M1688.9 1031.2v17.6M1725.5 1030.3v17.6M1716.5 1032.1v17.5M1709.2 1034.8v17.5M1705.6 1038.4v17.4M1736.3 1038.1v17.4M1671.4 1047.5v17.3M1720.1 1045.7v17.3M1682.2 1058.0v17.1M1718.3 1055.7v17.2M1671.4 1071.4v16.9M1694.8 1071.1v16.9M1709.2 1076.5v16.9M1719.2 1076.5v16.9M1682.2 1080.2v16.8M1661.5 1090.1v16.6M1675.0 1095.6v16.6M1687.6 1095.6v16.6M1698.4 1093.8v16.6M1711.0 1095.6v16.6M1657.0 1104.7v16.4M1705.6 1102.8v16.4M1756.1 1104.7v16.4M1763.3 1104.7v16.4M1472.5 1103.7v16.4M1686.7 1111.9v16.3M1698.4 1111.9v16.3M1710.1 1121.0v16.2M1725.5 1121.0v16.2M1640.3 1125.5v16.1M1757.9 1125.5v16.1M1780.0 1007.2v17.9M1790.8 1048.0v17.3M1854.4 1046.2v17.3M1821.4 1068.0v17.0M1852.6 1073.8v16.9M1852.9 1086.5v16.7M2038.3 1093.2v16.6M1798.9 1097.0v16.5M2024.8 1105.6v16.4M2029.3 1107.4v16.4M2039.2 1111.0v16.3M1783.6 1110.6v16.3M1816.0 1119.2v16.2M1774.6 1116.4v16.2M1834.0 1123.7v16.1M2041.6 1122.8v16.1M1815.1 1129.1v16.0M2020.9 1128.2v16.0M1767.4 1106.5v16.4" stroke="#d62728" stroke-width="2.1" stroke-opacity="0.5" fill="none"/><path d="M174.8 1140.0h0M194.6 1146.8h0M202.7 1142.7h0M221.8 1149.5h0M242.3 1144.1h0M257.3 1146.8h0M269.6 1148.2h0M299.6 1142.0h0M187.7 1159.1h0M200.0 1160.5h0M220.5 1166.6h0M234.1 1162.5h0M252.5 1165.2h0M262.7 1155.0h0M270.9 1166.6h0M284.6 1161.8h0M292.8 1165.9h0M329.6 1162.5h0M176.8 1172.1h0M216.4 1174.1h0M254.6 1174.1h0M284.6 1170.7h0M343.2 1173.4h0M201.4 1181.6h0M216.4 1179.6h0M174.1 1185.7h0M186.4 1184.3h0M247.7 1187.1h0M321.4 1183.6h0M309.1 1187.7h0M324.1 1189.1h0M305.7 1192.5h0M200.0 1192.5h0M236.8 1194.6h0M344.6 1193.2h0M354.1 1197.3h0M391.0 1194.6h0M191.8 1200.0h0M211.6 1198.0h0M225.9 1200.0h0M251.2 1199.6h0M290.0 1200.0h0M307.8 1200.0h0M337.8 1198.6h0M198.6 1206.8h0M221.8 1206.8h0M240.9 1206.8h0M296.8 1206.8h0M328.2 1208.2h0M344.6 1208.2h0M373.2 1205.7h0M172.7 1214.3h0M208.2 1216.4h0M219.1 1220.5h0M252.5 1218.2h0M285.9 1217.7h0M300.9 1213.6h0M310.5 1215.7h0M320.0 1217.7h0M336.4 1219.1h0M288.7 1223.2h0M374.6 1221.2h0M172.7 1225.9h0M178.2 1234.1h0M219.1 1233.4h0M251.8 1236.4h0M284.6 1234.1h0M294.1 1232.7h0M309.1 1234.1h0M336.4 1234.1h0M346.6 1229.3h0M382.8 1231.7h0M288.7 1242.3h0M294.1 1245.0h0M337.1 1245.0h0M275.0 1247.7h0M313.2 1248.4h0M374.6 1247.7h0M320.0 1253.9h0M310.5 1260.0h0M343.2 1258.0h0M189.8 1266.2h0M237.5 1265.2h0M324.1 1265.5h0M336.4 1266.8h0M318.7 1270.9h0M330.9 1274.3h0M278.2 1274.3h0M344.6 1276.4h0M363.7 1271.6h0M371.9 1272.3h0M363.7 1279.1h0M333.7 1283.2h0M386.9 1287.3h0M185.7 1290.7h0M193.2 1289.3h0M185.0 1298.2h0M347.3 1296.2h0M360.9 1290.0h0M359.6 1299.6h0M380.0 1288.7h0M171.4 1309.8h0M177.5 1308.4h0M335.0 1311.2h0M340.5 1311.2h0M378.7 1305.0h0M347.0 1322.5h0M360.9 1321.4h0M365.0 1317.3h0M382.1 1321.4h0M388.2 1310.5h0M170.7 1337.4h0M373.0 1340.1h0M384.1 1335.0h0M388.2 1330.9h0M152.3 1366.4h0M157.7 1360.9h0M165.0 1374.3h0M163.2 1382.5h0M142.7 1355.5h0M500.5 1152.0h0M632.1 1153.0h0M445.9 1188.7h0M554.3 1188.7h0M393.4 1194.6h0M640.3 1171.4h0M460.9 1198.0h0M473.2 1198.6h0M493.7 1200.4h0M509.3 1205.1h0M545.5 1201.4h0M557.1 1200.0h0M550.9 1206.8h0M622.5 1201.4h0M628.7 1204.1h0M419.3 1207.5h0M429.6 1210.2h0M463.6 1207.5h0M480.0 1208.2h0M455.5 1213.6h0M485.5 1213.6h0M424.1 1218.4h0M490.2 1219.1h0M501.8 1221.6h0M445.2 1222.2h0M582.3 1219.1h0M523.0 1227.3h0M531.8 1228.7h0M562.5 1224.6h0M614.4 1228.0h0M538.0 1235.5h0M596.6 1236.8h0M400.9 1239.6h0M409.1 1237.5h0M435.7 1241.6h0M449.3 1242.3h0M458.2 1247.7h0M469.1 1244.3h0M542.8 1246.4h0M572.8 1246.4h0M585.0 1245.0h0M605.5 1247.7h0M617.1 1249.8h0M628.7 1240.2h0M636.9 1235.5h0M634.1 1247.7h0M395.5 1253.2h0M406.4 1256.6h0M428.2 1253.2h0M428.9 1258.0h0M512.1 1254.6h0M552.3 1256.6h0M540.0 1260.0h0M568.7 1255.9h0M606.9 1262.7h0M638.2 1255.9h0M627.3 1261.4h0M462.3 1263.4h0M534.6 1264.1h0M396.8 1265.5h0M564.6 1265.5h0M572.8 1270.9h0M586.4 1273.0h0M615.0 1269.6h0M621.9 1270.9h0M470.5 1273.0h0M542.1 1275.0h0M514.1 1277.8h0M407.7 1276.4h0M441.8 1279.1h0M413.2 1281.8h0M530.5 1280.5h0M559.1 1283.2h0M583.7 1280.5h0M602.8 1284.6h0M616.4 1283.2h0M426.1 1285.9h0M486.8 1285.9h0M501.8 1286.6h0M403.6 1288.7h0M587.8 1288.7h0M414.5 1294.1h0M473.2 1296.2h0M523.7 1291.4h0M544.1 1295.5h0M600.0 1290.0h0M621.9 1303.7h0M394.1 1300.9h0M425.5 1299.6h0M480.0 1299.6h0M505.9 1296.8h0M516.8 1299.6h0M531.8 1302.3h0M580.9 1302.3h0M593.2 1305.0h0M630.0 1302.3h0M435.0 1305.0h0M460.9 1309.1h0M520.9 1307.8h0M535.9 1309.1h0M550.9 1305.7h0M563.2 1307.8h0M578.2 1309.8h0M602.8 1311.8h0M621.9 1311.8h0M495.0 1314.6h0M428.2 1315.9h0M455.5 1315.3h0M527.8 1315.3h0M541.4 1315.9h0M590.5 1314.6h0M636.9 1315.9h0M578.2 1317.3h0M598.7 1318.7h0M394.1 1320.0h0M436.4 1321.4h0M463.6 1318.7h0M504.6 1320.0h0M520.9 1320.0h0M549.6 1322.8h0M567.3 1322.1h0M615.7 1320.7h0M630.0 1325.5h0M638.2 1328.2h0M450.0 1328.2h0M469.1 1329.6h0M480.0 1325.5h0M489.6 1326.9h0M527.8 1329.6h0M534.6 1330.9h0M587.1 1330.3h0M392.7 1329.6h0M623.2 1333.0h0M426.8 1339.1h0M410.5 1336.4h0M443.9 1340.5h0M474.6 1335.0h0M466.4 1340.5h0M477.3 1341.2h0M493.7 1336.4h0M507.3 1336.4h0M516.8 1339.1h0M526.4 1336.4h0M538.0 1340.5h0M565.9 1335.7h0M583.7 1339.1h0M499.1 1344.6h0M508.7 1343.2h0M617.8 1356.2h0M606.9 1360.9h0M710.9 1146.8h0M730.0 1144.1h0M758.7 1141.4h0M788.7 1145.5h0M795.5 1152.3h0M811.8 1144.1h0M805.0 1150.9h0M835.0 1142.7h0M848.7 1140.0h0M865.7 1148.9h0M877.3 1149.5h0M728.7 1153.6h0M784.6 1153.6h0M649.5 1163.2h0M683.6 1163.9h0M697.3 1161.8h0M716.4 1161.1h0M747.7 1163.2h0M761.4 1164.5h0M787.3 1163.2h0M800.9 1159.1h0M811.8 1164.5h0M860.9 1161.8h0M882.8 1168.0h0M645.5 1170.0h0M674.1 1174.1h0M710.9 1172.7h0M723.2 1176.8h0M736.8 1176.8h0M765.5 1176.8h0M806.4 1175.5h0M817.3 1174.1h0M833.7 1172.7h0M844.6 1176.8h0M850.0 1179.6h0M798.2 1179.6h0M826.9 1182.3h0M661.1 1184.3h0M650.2 1190.5h0M697.3 1185.0h0M740.9 1189.8h0M779.1 1191.8h0M799.6 1186.4h0M811.8 1191.8h0M829.6 1187.7h0M841.9 1190.5h0M836.4 1194.6h0M884.1 1190.5h0M876.0 1194.6h0M697.3 1193.2h0M676.1 1199.3h0M660.5 1198.6h0M787.3 1198.6h0M775.0 1204.1h0M713.6 1201.4h0M705.5 1205.5h0M737.5 1209.6h0M821.4 1200.0h0M814.6 1206.8h0M850.0 1204.1h0M859.6 1201.4h0M870.5 1204.1h0M885.5 1206.8h0M878.7 1200.0h0M683.6 1210.2h0M653.6 1217.1h0M662.5 1215.0h0M713.6 1217.1h0M743.7 1219.1h0M766.8 1217.1h0M817.3 1215.0h0M837.8 1213.6h0M852.8 1212.3h0M847.3 1220.5h0M885.5 1220.5h0M700.0 1226.6h0M732.7 1230.0h0M779.8 1228.0h0M801.3 1230.7h0M858.2 1227.3h0M850.0 1228.7h0M865.0 1234.1h0M882.8 1227.3h0M652.3 1232.7h0M689.1 1234.1h0M673.4 1238.2h0M685.0 1239.6h0M701.4 1241.2h0M847.3 1243.0h0M860.9 1243.7h0M864.4 1249.1h0M886.9 1238.2h0M732.1 1250.5h0M819.1 1249.5h0M657.7 1255.2h0M692.5 1258.7h0M765.5 1255.7h0M664.5 1262.7h0M653.6 1264.1h0M689.1 1262.7h0M885.5 1261.4h0M889.6 1255.9h0M744.1 1270.3h0M671.4 1274.3h0M889.6 1273.7h0M754.3 1278.4h0M652.3 1279.8h0M863.7 1283.9h0M691.1 1287.3h0M648.2 1288.7h0M874.6 1291.1h0M848.0 1291.7h0M665.2 1292.1h0M682.3 1291.4h0M698.6 1294.1h0M652.3 1298.2h0M671.4 1300.9h0M700.7 1308.4h0M671.4 1306.4h0M867.8 1310.2h0M681.6 1313.9h0M642.7 1315.3h0M879.1 1320.3h0M695.0 1320.7h0M858.2 1324.8h0M867.8 1327.5h0M661.8 1321.4h0M640.0 1328.2h0M896.8 1142.7h0M945.9 1141.4h0M1055.0 1140.0h0M1079.6 1145.5h0M936.4 1149.5h0M894.1 1153.6h0M918.0 1155.7h0M956.8 1158.4h0M1014.1 1157.7h0M1041.4 1161.1h0M1063.2 1160.5h0M1078.2 1163.2h0M903.6 1165.9h0M917.3 1170.0h0M960.9 1170.0h0M1015.5 1178.2h0M1034.6 1180.9h0M1046.8 1180.2h0M1074.1 1172.7h0M1075.5 1180.9h0M929.6 1179.6h0M992.3 1182.3h0M952.7 1182.3h0M914.5 1189.8h0M924.1 1189.1h0M962.3 1188.4h0M970.5 1192.5h0M986.8 1187.7h0M1003.2 1187.1h0M1029.1 1187.7h0M1052.3 1189.1h0M1035.9 1191.8h0M891.4 1195.9h0M907.7 1203.4h0M951.4 1206.8h0M959.6 1203.4h0M1000.5 1199.3h0M1015.5 1204.1h0M1022.3 1206.8h0M1063.2 1207.5h0M1078.2 1201.4h0M1078.2 1208.2h0M894.1 1219.1h0M902.3 1217.7h0M914.5 1220.5h0M938.4 1221.8h0M986.8 1219.1h0M999.1 1221.8h0M1012.7 1216.4h0M1034.6 1221.2h0M1044.1 1218.4h0M1053.7 1217.7h0M900.9 1227.3h0M1068.7 1228.7h0M1053.7 1232.7h0M997.7 1232.7h0M1016.8 1228.7h0M978.7 1235.5h0M973.2 1238.2h0M910.5 1236.8h0M891.4 1234.1h0M892.7 1245.0h0M905.0 1249.1h0M930.9 1245.0h0M937.7 1240.9h0M944.6 1247.7h0M958.2 1247.7h0M985.5 1246.4h0M1007.3 1242.3h0M1049.6 1246.4h0M1063.2 1242.3h0M1065.9 1245.0h0M990.9 1253.2h0M1000.5 1253.2h0M894.1 1255.9h0M905.0 1258.7h0M920.0 1255.9h0M1045.5 1253.2h0M1055.0 1258.7h0M1067.3 1261.4h0M1079.6 1261.4h0M1015.5 1260.0h0M1033.2 1264.1h0M982.7 1260.0h0M922.7 1266.8h0M956.8 1268.2h0M977.3 1269.6h0M1020.9 1269.6h0M1042.8 1269.6h0M1078.2 1268.2h0M892.7 1273.7h0M936.4 1273.7h0M963.6 1275.0h0M1000.5 1276.4h0M1026.4 1277.8h0M1049.6 1276.4h0M1065.9 1275.0h0M1080.9 1279.1h0M935.0 1281.8h0M952.7 1281.8h0M973.2 1279.1h0M1031.8 1284.6h0M1048.2 1281.8h0M1067.3 1284.6h0M911.8 1291.4h0M917.3 1287.3h0M988.2 1287.3h0M1012.1 1288.7h0M1078.2 1287.3h0M975.9 1294.1h0M947.3 1296.8h0M1040.0 1295.5h0M1078.2 1296.8h0M930.9 1298.9h0M990.9 1300.3h0M1001.8 1301.6h0M1061.8 1302.3h0M910.5 1299.6h0M1040.0 1302.3h0M963.6 1303.7h0M945.9 1306.4h0M955.5 1310.5h0M966.4 1306.4h0M993.7 1311.8h0M1076.9 1313.9h0M895.5 1316.9h0M974.8 1320.0h0M989.6 1322.1h0M1076.9 1326.9h0M1042.3 1330.9h0M1007.3 1332.7h0M1083.7 1341.9h0M1091.9 1345.9h0M938.1 1348.3h0M1085.0 1356.9h0M1094.6 1358.2h0M1086.4 1363.7h0M1091.9 1369.1h0M1085.0 1373.9h0M1105.5 1360.9h0M213.6 967.6h0M269.2 981.8h0M241.3 1032.7h0M312.0 1034.2h0M268.8 1042.6h0M230.7 1058.0h0M228.7 1069.7h0M253.2 1071.1h0M281.8 1079.6h0M330.9 1085.9h0M249.9 1095.8h0M305.7 1099.0h0M201.0 1102.4h0M334.9 1102.1h0M249.9 1106.6h0M271.2 1108.9h0M196.5 1111.4h0M321.0 1114.3h0M178.3 1115.2h0M276.0 1117.4h0M239.1 1118.3h0M222.9 1121.0h0M330.9 1122.8h0M173.4 1127.3h0M325.5 1130.0h0M188.7 1133.0h0M260.7 1131.8h0M202.2 1133.6h0M792.7 901.7h0M715.8 928.0h0M759.6 947.8h0M731.5 959.3h0M748.8 981.4h0M792.9 995.3h0M719.8 1025.2h0M722.5 1039.9h0M759.1 1039.0h0M750.1 1040.8h0M742.8 1043.5h0M739.2 1047.1h0M769.9 1046.8h0M705.0 1056.2h0M753.7 1054.4h0M715.8 1066.6h0M751.9 1064.3h0M705.0 1079.9h0M728.4 1079.6h0M742.8 1085.0h0M752.8 1085.0h0M715.8 1088.6h0M695.1 1098.5h0M708.6 1103.9h0M721.2 1103.9h0M732.0 1102.1h0M744.6 1103.9h0M690.6 1112.9h0M739.2 1111.1h0M789.7 1112.9h0M796.9 1112.9h0M506.1 1112.0h0M720.3 1120.1h0M732.0 1120.1h0M743.7 1129.1h0M759.1 1129.1h0M673.9 1133.6h0M791.5 1133.6h0M813.6 1016.2h0M824.4 1056.7h0M888.0 1054.9h0M855.0 1076.5h0M886.2 1082.3h0M886.5 1094.9h0M1071.9 1101.5h0M832.5 1105.3h0M1058.4 1113.8h0M1062.9 1115.6h0M1072.8 1119.2h0M817.2 1118.8h0M849.6 1127.3h0M808.2 1124.6h0M867.6 1131.8h0M1075.2 1130.9h0M848.7 1137.2h0M1054.5 1136.3h0M801.0 1114.7h0M1141.2 1140.0h0M1161.0 1146.8h0M1169.1 1142.7h0M1188.2 1149.5h0M1208.7 1144.1h0M1223.7 1146.8h0M1236.0 1148.2h0M1266.0 1142.0h0M1154.1 1159.1h0M1166.4 1160.5h0M1186.9 1166.6h0M1200.5 1162.5h0M1218.9 1165.2h0M1229.1 1155.0h0M1237.3 1166.6h0M1251.0 1161.8h0M1259.2 1165.9h0M1296.0 1162.5h0M1143.2 1172.1h0M1182.8 1174.1h0M1221.0 1174.1h0M1251.0 1170.7h0M1309.6 1173.4h0M1167.8 1181.6h0M1182.8 1179.6h0M1140.5 1185.7h0M1152.8 1184.3h0M1214.1 1187.1h0M1287.8 1183.6h0M1275.5 1187.7h0M1290.5 1189.1h0M1272.1 1192.5h0M1166.4 1192.5h0M1203.2 1194.6h0M1311.0 1193.2h0M1320.5 1197.3h0M1357.4 1194.6h0M1158.2 1200.0h0M1178.0 1198.0h0M1192.3 1200.0h0M1217.6 1199.6h0M1256.4 1200.0h0M1274.2 1200.0h0M1304.2 1198.6h0M1165.0 1206.8h0M1188.2 1206.8h0M1207.3 1206.8h0M1263.2 1206.8h0M1294.6 1208.2h0M1311.0 1208.2h0M1339.6 1205.7h0M1139.1 1214.3h0M1174.6 1216.4h0M1185.5 1220.5h0M1218.9 1218.2h0M1252.3 1217.7h0M1267.3 1213.6h0M1276.9 1215.7h0M1286.4 1217.7h0M1302.8 1219.1h0M1255.1 1223.2h0M1341.0 1221.2h0M1139.1 1225.9h0M1144.6 1234.1h0M1185.5 1233.4h0M1218.2 1236.4h0M1251.0 1234.1h0M1260.5 1232.7h0M1275.5 1234.1h0M1302.8 1234.1h0M1313.0 1229.3h0M1349.2 1231.7h0M1255.1 1242.3h0M1260.5 1245.0h0M1303.5 1245.0h0M1241.4 1247.7h0M1279.6 1248.4h0M1341.0 1247.7h0M1286.4 1253.9h0M1276.9 1260.0h0M1309.6 1258.0h0M1156.2 1266.2h0M1203.9 1265.2h0M1290.5 1265.5h0M1302.8 1266.8h0M1285.1 1270.9h0M1297.3 1274.3h0M1244.6 1274.3h0M1311.0 1276.4h0M1330.1 1271.6h0M1338.3 1272.3h0M1330.1 1279.1h0M1300.1 1283.2h0M1353.3 1287.3h0M1152.1 1290.7h0M1159.6 1289.3h0M1151.4 1298.2h0M1313.7 1296.2h0M1327.3 1290.0h0M1326.0 1299.6h0M1346.4 1288.7h0M1137.8 1309.8h0M1143.9 1308.4h0M1301.4 1311.2h0M1306.9 1311.2h0M1345.1 1305.0h0M1313.4 1322.5h0M1327.3 1321.4h0M1331.4 1317.3h0M1348.5 1321.4h0M1354.6 1310.5h0M1137.1 1337.4h0M1339.4 1340.1h0M1350.5 1335.0h0M1354.6 1330.9h0M1118.7 1366.4h0M1124.1 1360.9h0M1131.4 1374.3h0M1129.6 1382.5h0M1109.1 1355.5h0M1466.9 1152.0h0M1598.5 1153.0h0M1412.3 1188.7h0M1520.7 1188.7h0M1359.8 1194.6h0M1606.7 1171.4h0M1427.3 1198.0h0M1439.6 1198.6h0M1460.1 1200.4h0M1475.7 1205.1h0M1511.9 1201.4h0M1523.5 1200.0h0M1517.3 1206.8h0M1588.9 1201.4h0M1595.1 1204.1h0M1385.7 1207.5h0M1396.0 1210.2h0M1430.0 1207.5h0M1446.4 1208.2h0M1421.9 1213.6h0M1451.9 1213.6h0M1390.5 1218.4h0M1456.6 1219.1h0M1468.2 1221.6h0M1411.6 1222.2h0M1548.7 1219.1h0M1489.4 1227.3h0M1498.2 1228.7h0M1528.9 1224.6h0M1580.8 1228.0h0M1504.4 1235.5h0M1563.0 1236.8h0M1367.3 1239.6h0M1375.5 1237.5h0M1402.1 1241.6h0M1415.7 1242.3h0M1424.6 1247.7h0M1435.5 1244.3h0M1509.2 1246.4h0M1539.2 1246.4h0M1551.4 1245.0h0M1571.9 1247.7h0M1583.5 1249.8h0M1595.1 1240.2h0M1603.3 1235.5h0M1600.5 1247.7h0M1361.9 1253.2h0M1372.8 1256.6h0M1394.6 1253.2h0M1395.3 1258.0h0M1478.5 1254.6h0M1518.7 1256.6h0M1506.4 1260.0h0M1535.1 1255.9h0M1573.3 1262.7h0M1604.6 1255.9h0M1593.7 1261.4h0M1428.7 1263.4h0M1501.0 1264.1h0M1363.2 1265.5h0M1531.0 1265.5h0M1539.2 1270.9h0M1552.8 1273.0h0M1581.4 1269.6h0M1588.3 1270.9h0M1436.9 1273.0h0M1508.5 1275.0h0M1480.5 1277.8h0M1374.1 1276.4h0M1408.2 1279.1h0M1379.6 1281.8h0M1496.9 1280.5h0M1525.5 1283.2h0M1550.1 1280.5h0M1569.2 1284.6h0M1582.8 1283.2h0M1392.5 1285.9h0M1453.2 1285.9h0M1468.2 1286.6h0M1370.0 1288.7h0M1554.2 1288.7h0M1380.9 1294.1h0M1439.6 1296.2h0M1490.1 1291.4h0M1510.5 1295.5h0M1566.4 1290.0h0M1588.3 1303.7h0M1360.5 1300.9h0M1391.9 1299.6h0M1446.4 1299.6h0M1472.3 1296.8h0M1483.2 1299.6h0M1498.2 1302.3h0M1547.3 1302.3h0M1559.6 1305.0h0M1596.4 1302.3h0M1401.4 1305.0h0M1427.3 1309.1h0M1487.3 1307.8h0M1502.3 1309.1h0M1517.3 1305.7h0M1529.6 1307.8h0M1544.6 1309.8h0M1569.2 1311.8h0M1588.3 1311.8h0M1461.4 1314.6h0M1394.6 1315.9h0M1421.9 1315.3h0M1494.2 1315.3h0M1507.8 1315.9h0M1556.9 1314.6h0M1603.3 1315.9h0M1544.6 1317.3h0M1565.1 1318.7h0M1360.5 1320.0h0M1402.8 1321.4h0M1430.0 1318.7h0M1471.0 1320.0h0M1487.3 1320.0h0M1516.0 1322.8h0M1533.7 1322.1h0M1582.1 1320.7h0M1596.4 1325.5h0M1604.6 1328.2h0M1416.4 1328.2h0M1435.5 1329.6h0M1446.4 1325.5h0M1456.0 1326.9h0M1494.2 1329.6h0M1501.0 1330.9h0M1553.5 1330.3h0M1359.1 1329.6h0M1589.6 1333.0h0M1393.2 1339.1h0M1376.9 1336.4h0M1410.3 1340.5h0M1441.0 1335.0h0M1432.8 1340.5h0M1443.7 1341.2h0M1460.1 1336.4h0M1473.7 1336.4h0M1483.2 1339.1h0M1492.8 1336.4h0M1504.4 1340.5h0M1532.3 1335.7h0M1550.1 1339.1h0M1465.5 1344.6h0M1475.1 1343.2h0M1584.2 1356.2h0M1573.3 1360.9h0M1677.3 1146.8h0M1696.4 1144.1h0M1725.1 1141.4h0M1755.1 1145.5h0M1761.9 1152.3h0M1778.2 1144.1h0M1771.4 1150.9h0M1801.4 1142.7h0M1815.1 1140.0h0M1832.1 1148.9h0M1843.7 1149.5h0M1695.1 1153.6h0M1751.0 1153.6h0M1615.9 1163.2h0M1650.0 1163.9h0M1663.7 1161.8h0M1682.8 1161.1h0M1714.1 1163.2h0M1727.8 1164.5h0M1753.7 1163.2h0M1767.3 1159.1h0M1778.2 1164.5h0M1827.3 1161.8h0M1849.2 1168.0h0M1611.9 1170.0h0M1640.5 1174.1h0M1677.3 1172.7h0M1689.6 1176.8h0M1703.2 1176.8h0M1731.9 1176.8h0M1772.8 1175.5h0M1783.7 1174.1h0M1800.1 1172.7h0M1811.0 1176.8h0M1816.4 1179.6h0M1764.6 1179.6h0M1793.3 1182.3h0M1627.5 1184.3h0M1616.6 1190.5h0M1663.7 1185.0h0M1707.3 1189.8h0M1745.5 1191.8h0M1766.0 1186.4h0M1778.2 1191.8h0M1796.0 1187.7h0M1808.3 1190.5h0M1802.8 1194.6h0M1850.5 1190.5h0M1842.4 1194.6h0M1663.7 1193.2h0M1642.5 1199.3h0M1626.9 1198.6h0M1753.7 1198.6h0M1741.4 1204.1h0M1680.0 1201.4h0M1671.9 1205.5h0M1703.9 1209.6h0M1787.8 1200.0h0M1781.0 1206.8h0M1816.4 1204.1h0M1826.0 1201.4h0M1836.9 1204.1h0M1851.9 1206.8h0M1845.1 1200.0h0M1650.0 1210.2h0M1620.0 1217.1h0M1628.9 1215.0h0M1680.0 1217.1h0M1710.1 1219.1h0M1733.2 1217.1h0M1783.7 1215.0h0M1804.2 1213.6h0M1819.2 1212.3h0M1813.7 1220.5h0M1851.9 1220.5h0M1666.4 1226.6h0M1699.1 1230.0h0M1746.2 1228.0h0M1767.7 1230.7h0M1824.6 1227.3h0M1816.4 1228.7h0M1831.4 1234.1h0M1849.2 1227.3h0M1618.7 1232.7h0M1655.5 1234.1h0M1639.8 1238.2h0M1651.4 1239.6h0M1667.8 1241.2h0M1813.7 1243.0h0M1827.3 1243.7h0M1830.8 1249.1h0M1853.3 1238.2h0M1698.5 1250.5h0M1785.5 1249.5h0M1624.1 1255.2h0M1658.9 1258.7h0M1731.9 1255.7h0M1630.9 1262.7h0M1620.0 1264.1h0M1655.5 1262.7h0M1851.9 1261.4h0M1856.0 1255.9h0M1710.5 1270.3h0M1637.8 1274.3h0M1856.0 1273.7h0M1720.7 1278.4h0M1618.7 1279.8h0M1830.1 1283.9h0M1657.5 1287.3h0M1614.6 1288.7h0M1841.0 1291.1h0M1814.4 1291.7h0M1631.6 1292.1h0M1648.7 1291.4h0M1665.0 1294.1h0M1618.7 1298.2h0M1637.8 1300.9h0M1667.1 1308.4h0M1637.8 1306.4h0M1834.2 1310.2h0M1648.0 1313.9h0M1609.1 1315.3h0M1845.5 1320.3h0M1661.4 1320.7h0M1824.6 1324.8h0M1834.2 1327.5h0M1628.2 1321.4h0M1606.4 1328.2h0M1863.2 1142.7h0M1912.3 1141.4h0M2021.4 1140.0h0M2046.0 1145.5h0M1902.8 1149.5h0M1860.5 1153.6h0M1884.4 1155.7h0M1923.2 1158.4h0M1980.5 1157.7h0M2007.8 1161.1h0M2029.6 1160.5h0M2044.6 1163.2h0M1870.0 1165.9h0M1883.7 1170.0h0M1927.3 1170.0h0M1981.9 1178.2h0M2001.0 1180.9h0M2013.2 1180.2h0M2040.5 1172.7h0M2041.9 1180.9h0M1896.0 1179.6h0M1958.7 1182.3h0M1919.1 1182.3h0M1880.9 1189.8h0M1890.5 1189.1h0M1928.7 1188.4h0M1936.9 1192.5h0M1953.2 1187.7h0M1969.6 1187.1h0M1995.5 1187.7h0M2018.7 1189.1h0M2002.3 1191.8h0M1857.8 1195.9h0M1874.1 1203.4h0M1917.8 1206.8h0M1926.0 1203.4h0M1966.9 1199.3h0M1981.9 1204.1h0M1988.7 1206.8h0M2029.6 1207.5h0M2044.6 1201.4h0M2044.6 1208.2h0M1860.5 1219.1h0M1868.7 1217.7h0M1880.9 1220.5h0M1904.8 1221.8h0M1953.2 1219.1h0M1965.5 1221.8h0M1979.1 1216.4h0M2001.0 1221.2h0M2010.5 1218.4h0M2020.1 1217.7h0M1867.3 1227.3h0M2035.1 1228.7h0M2020.1 1232.7h0M1964.1 1232.7h0M1983.2 1228.7h0M1945.1 1235.5h0M1939.6 1238.2h0M1876.9 1236.8h0M1857.8 1234.1h0M1859.1 1245.0h0M1871.4 1249.1h0M1897.3 1245.0h0M1904.1 1240.9h0M1911.0 1247.7h0M1924.6 1247.7h0M1951.9 1246.4h0M1973.7 1242.3h0M2016.0 1246.4h0M2029.6 1242.3h0M2032.3 1245.0h0M1957.3 1253.2h0M1966.9 1253.2h0M1860.5 1255.9h0M1871.4 1258.7h0M1886.4 1255.9h0M2011.9 1253.2h0M2021.4 1258.7h0M2033.7 1261.4h0M2046.0 1261.4h0M1981.9 1260.0h0M1999.6 1264.1h0M1949.1 1260.0h0M1889.1 1266.8h0M1923.2 1268.2h0M1943.7 1269.6h0M1987.3 1269.6h0M2009.2 1269.6h0M2044.6 1268.2h0M1859.1 1273.7h0M1902.8 1273.7h0M1930.0 1275.0h0M1966.9 1276.4h0M1992.8 1277.8h0M2016.0 1276.4h0M2032.3 1275.0h0M2047.3 1279.1h0M1901.4 1281.8h0M1919.1 1281.8h0M1939.6 1279.1h0M1998.2 1284.6h0M2014.6 1281.8h0M2033.7 1284.6h0M1878.2 1291.4h0M1883.7 1287.3h0M1954.6 1287.3h0M1978.5 1288.7h0M2044.6 1287.3h0M1942.3 1294.1h0M1913.7 1296.8h0M2006.4 1295.5h0M2044.6 1296.8h0M1897.3 1298.9h0M1957.3 1300.3h0M1968.2 1301.6h0M2028.2 1302.3h0M1876.9 1299.6h0M2006.4 1302.3h0M1930.0 1303.7h0M1912.3 1306.4h0M1921.9 1310.5h0M1932.8 1306.4h0M1960.1 1311.8h0M2043.3 1313.9h0M1861.9 1316.9h0M1941.2 1320.0h0M1956.0 1322.1h0M2043.3 1326.9h0M2008.7 1330.9h0M1973.7 1332.7h0M2050.1 1341.9h0M2058.3 1345.9h0M1904.5 1348.3h0M2051.4 1356.9h0M2061.0 1358.2h0M2052.8 1363.7h0M2058.3 1369.1h0M2051.4 1373.9h0M2071.9 1360.9h0M1180.0 967.6h0M1235.6 981.8h0M1207.7 1032.7h0M1278.4 1034.2h0M1235.2 1042.6h0M1197.1 1058.0h0M1195.1 1069.7h0M1219.6 1071.1h0M1248.2 1079.6h0M1297.3 1085.9h0M1216.3 1095.8h0M1272.1 1099.0h0M1167.4 1102.4h0M1301.3 1102.1h0M1216.3 1106.6h0M1237.6 1108.9h0M1162.9 1111.4h0M1287.4 1114.3h0M1144.7 1115.2h0M1242.4 1117.4h0M1205.5 1118.3h0M1189.3 1121.0h0M1297.3 1122.8h0M1139.8 1127.3h0M1291.9 1130.0h0M1155.1 1133.0h0M1227.1 1131.8h0M1168.6 1133.6h0M1759.1 901.7h0M1682.2 928.0h0M1726.0 947.8h0M1697.9 959.3h0M1715.2 981.4h0M1759.3 995.3h0M1686.2 1025.2h0M1688.9 1039.9h0M1725.5 1039.0h0M1716.5 1040.8h0M1709.2 1043.5h0M1705.6 1047.1h0M1736.3 1046.8h0M1671.4 1056.2h0M1720.1 1054.4h0M1682.2 1066.6h0M1718.3 1064.3h0M1671.4 1079.9h0M1694.8 1079.6h0M1709.2 1085.0h0M1719.2 1085.0h0M1682.2 1088.6h0M1661.5 1098.5h0M1675.0 1103.9h0M1687.6 1103.9h0M1698.4 1102.1h0M1711.0 1103.9h0M1657.0 1112.9h0M1705.6 1111.1h0M1756.1 1112.9h0M1763.3 1112.9h0M1472.5 1112.0h0M1686.7 1120.1h0M1698.4 1120.1h0M1710.1 1129.1h0M1725.5 1129.1h0M1640.3 1133.6h0M1757.9 1133.6h0M1780.0 1016.2h0M1790.8 1056.7h0M1854.4 1054.9h0M1821.4 1076.5h0M1852.6 1082.3h0M1852.9 1094.9h0M2038.3 1101.5h0M1798.9 1105.3h0M2024.8 1113.8h0M2029.3 1115.6h0M2039.2 1119.2h0M1783.6 1118.8h0M1816.0 1127.3h0M1774.6 1124.6h0M1834.0 1131.8h0M2041.6 1130.9h0M1815.1 1137.2h0M2020.9 1136.3h0M1767.4 1114.7h0" stroke="#d62728" stroke-width="12.9" stroke-linecap="round" fill="none"/><path d="M213.6 1140.3v15.9M231.4 1136.8v15.9M206.8 1154.7v15.6M275.0 1153.3v15.7M182.3 1162.9v15.5M328.2 1165.4v15.5M228.7 1173.7v15.3M196.2 1178.7v15.3M290.4 1179.2v15.3M279.1 1194.6v15.0M319.8 1195.2v15.0M185.0 1206.9v14.8M191.8 1210.4v14.8M198.6 1211.7v14.7M187.7 1215.9v14.7M189.8 1221.4v14.6M326.2 1228.2v14.5M275.7 1237.8v14.3M302.3 1238.5v14.3M371.5 1234.7v14.4M380.7 1250.5v14.1M172.1 1266.0v13.9M189.5 1263.7v13.9M192.5 1278.8v13.7M337.1 1276.3v13.7M380.0 1274.6v13.8M350.0 1287.1v13.6M373.9 1290.1v13.5M158.0 1316.9v13.1M376.2 1324.4v13.0M150.2 1339.6v12.8M147.5 1354.0v12.5M161.1 1357.4v12.5M145.5 1358.8v12.5M542.3 1181.1v15.2M498.4 1245.4v14.2M585.0 1253.4v14.1M399.5 1269.1v13.9M597.0 1266.4v13.9M516.8 1277.3v13.7M440.1 1286.9v13.6M490.7 1286.9v13.6M576.2 1288.0v13.6M567.3 1292.1v13.5M610.9 1288.3v13.6M630.0 1291.5v13.5M454.1 1299.0v13.4M415.9 1300.4v13.4M404.3 1302.9v13.3M477.6 1308.4v13.2M420.3 1311.4v13.2M405.0 1318.5v13.1M513.7 1321.0v13.0M446.6 1323.1v13.0M413.9 1328.3v12.9M601.8 1340.3v12.7M709.6 1132.0v16.0M774.3 1137.5v15.9M805.7 1132.0v16.0M745.0 1142.0v15.8M759.6 1145.3v15.8M706.1 1155.0v15.6M723.9 1160.5v15.5M781.6 1161.6v15.5M869.4 1170.5v15.4M763.4 1178.7v15.3M716.8 1183.1v15.2M757.3 1188.0v15.1M665.6 1190.4v15.1M871.2 1214.5v14.7M666.9 1219.0v14.6M836.0 1222.7v14.6M656.6 1227.1v14.5M754.8 1234.0v14.4M767.9 1231.3v14.4M679.1 1245.7v14.2M669.7 1269.9v13.8M809.5 1273.6v13.8M834.6 1271.5v13.8M762.3 1286.0v13.6M653.0 1303.4v13.3M664.5 1316.6v13.1M1020.3 1150.6v15.7M1062.3 1161.6v15.5M926.6 1167.3v15.4M1068.7 1183.1v15.2M1060.5 1187.7v15.1M1013.4 1186.3v15.1M984.1 1193.9v15.0M1005.7 1198.0v15.0M1050.9 1195.6v15.0M972.8 1205.5v14.8M981.1 1213.1v14.7M1061.4 1213.5v14.7M910.7 1217.9v14.6M932.3 1221.1v14.6M948.0 1226.9v14.5M1041.4 1226.9v14.5M1034.6 1228.2v14.5M1029.8 1235.8v14.4M1014.5 1242.0v14.3M971.8 1247.5v14.2M936.8 1252.3v14.1M960.9 1255.3v14.1M920.3 1275.2v13.8M940.7 1289.0v13.5M918.0 1297.0v13.4M998.2 1314.4v13.1M1031.8 1314.4v13.1M1085.3 1327.9v12.9M1098.0 1326.8v13.0M1098.0 1358.8v12.5M1106.2 1344.4v12.7M230.1 1082.9v16.8M228.3 1097.8v16.5M206.4 1121.0v16.2M267.9 1119.2v16.2M719.1 913.6v18.0M795.1 1048.4v17.3M762.3 1056.6v17.2M753.1 1060.2v17.1M711.3 1090.1v16.6M723.9 1117.4v16.2M709.5 1128.2v16.0M1045.8 1043.5v17.4M936.0 1077.1v16.8M847.4 1113.2v16.3M826.2 1125.5v16.1M805.5 1128.2v16.0M1180.0 1140.3v15.9M1197.8 1136.8v15.9M1173.2 1154.7v15.6M1241.4 1153.3v15.7M1148.7 1162.9v15.5M1294.6 1165.4v15.5M1195.1 1173.7v15.3M1162.6 1178.7v15.3M1256.8 1179.2v15.3M1245.5 1194.6v15.0M1286.2 1195.2v15.0M1151.4 1206.9v14.8M1158.2 1210.4v14.8M1165.0 1211.7v14.7M1154.1 1215.9v14.7M1156.2 1221.4v14.6M1292.6 1228.2v14.5M1242.1 1237.8v14.3M1268.7 1238.5v14.3M1337.9 1234.7v14.4M1347.1 1250.5v14.1M1138.5 1266.0v13.9M1155.9 1263.7v13.9M1158.9 1278.8v13.7M1303.5 1276.3v13.7M1346.4 1274.6v13.8M1316.4 1287.1v13.6M1340.3 1290.1v13.5M1124.4 1316.9v13.1M1342.6 1324.4v13.0M1116.6 1339.6v12.8M1113.9 1354.0v12.5M1127.5 1357.4v12.5M1111.9 1358.8v12.5M1508.7 1181.1v15.2M1464.8 1245.4v14.2M1551.4 1253.4v14.1M1365.9 1269.1v13.9M1563.4 1266.4v13.9M1483.2 1277.3v13.7M1406.5 1286.9v13.6M1457.1 1286.9v13.6M1542.6 1288.0v13.6M1533.7 1292.1v13.5M1577.3 1288.3v13.6M1596.4 1291.5v13.5M1420.5 1299.0v13.4M1382.3 1300.4v13.4M1370.7 1302.9v13.3M1444.0 1308.4v13.2M1386.7 1311.4v13.2M1371.4 1318.5v13.1M1480.1 1321.0v13.0M1413.0 1323.1v13.0M1380.3 1328.3v12.9M1568.2 1340.3v12.7M1676.0 1132.0v16.0M1740.7 1137.5v15.9M1772.1 1132.0v16.0M1711.4 1142.0v15.8M1726.0 1145.3v15.8M1672.5 1155.0v15.6M1690.3 1160.5v15.5M1748.0 1161.6v15.5M1835.8 1170.5v15.4M1729.8 1178.7v15.3M1683.2 1183.1v15.2M1723.7 1188.0v15.1M1632.0 1190.4v15.1M1837.6 1214.5v14.7M1633.3 1219.0v14.6M1802.4 1222.7v14.6M1623.0 1227.1v14.5M1721.2 1234.0v14.4M1734.3 1231.3v14.4M1645.5 1245.7v14.2M1636.1 1269.9v13.8M1775.9 1273.6v13.8M1801.0 1271.5v13.8M1728.7 1286.0v13.6M1619.4 1303.4v13.3M1630.9 1316.6v13.1M1986.7 1150.6v15.7M2028.7 1161.6v15.5M1893.0 1167.3v15.4M2035.1 1183.1v15.2M2026.9 1187.7v15.1M1979.8 1186.3v15.1M1950.5 1193.9v15.0M1972.1 1198.0v15.0M2017.3 1195.6v15.0M1939.2 1205.5v14.8M1947.5 1213.1v14.7M2027.8 1213.5v14.7M1877.1 1217.9v14.6M1898.7 1221.1v14.6M1914.4 1226.9v14.5M2007.8 1226.9v14.5M2001.0 1228.2v14.5M1996.2 1235.8v14.4M1980.9 1242.0v14.3M1938.2 1247.5v14.2M1903.2 1252.3v14.1M1927.3 1255.3v14.1M1886.7 1275.2v13.8M1907.1 1289.0v13.5M1884.4 1297.0v13.4M1964.6 1314.4v13.1M1998.2 1314.4v13.1M2051.7 1327.9v12.9M2064.4 1326.8v13.0M2064.4 1358.8v12.5M2072.6 1344.4v12.7M1196.5 1082.9v16.8M1194.7 1097.8v16.5M1172.8 1121.0v16.2M1234.3 1119.2v16.2M1685.5 913.6v18.0M1761.5 1048.4v17.3M1728.7 1056.6v17.2M1719.5 1060.2v17.1M1677.7 1090.1v16.6M1690.3 1117.4v16.2M1675.9 1128.2v16.0M2012.2 1043.5v17.4M1902.4 1077.1v16.8M1813.8 1113.2v16.3M1792.6 1125.5v16.1M1771.9 1128.2v16.0" stroke="#800080" stroke-width="2.1" stroke-opacity="0.5" fill="none"/><path d="M213.6 1148.2h0M231.4 1144.8h0M206.8 1162.5h0M275.0 1161.1h0M182.3 1170.7h0M328.2 1173.1h0M228.7 1181.3h0M196.2 1186.4h0M290.4 1186.8h0M279.1 1202.1h0M319.8 1202.7h0M185.0 1214.3h0M191.8 1217.7h0M198.6 1219.1h0M187.7 1223.2h0M189.8 1228.7h0M326.2 1235.5h0M275.7 1245.0h0M302.3 1245.7h0M371.5 1241.9h0M380.7 1257.6h0M172.1 1273.0h0M189.5 1270.7h0M192.5 1285.7h0M337.1 1283.2h0M380.0 1281.4h0M350.0 1293.8h0M373.9 1296.8h0M158.0 1323.4h0M376.2 1330.9h0M150.2 1345.9h0M147.5 1360.3h0M161.1 1363.7h0M145.5 1365.0h0M542.3 1188.7h0M498.4 1252.5h0M585.0 1260.4h0M399.5 1276.0h0M597.0 1273.4h0M516.8 1284.2h0M440.1 1293.7h0M490.7 1293.7h0M576.2 1294.8h0M567.3 1298.9h0M610.9 1295.1h0M630.0 1298.2h0M454.1 1305.7h0M415.9 1307.1h0M404.3 1309.5h0M477.6 1315.0h0M420.3 1318.0h0M405.0 1325.1h0M513.7 1327.5h0M446.6 1329.6h0M413.9 1334.8h0M601.8 1346.6h0M709.6 1140.0h0M774.3 1145.5h0M805.7 1140.0h0M745.0 1150.0h0M759.6 1153.2h0M706.1 1162.8h0M723.9 1168.2h0M781.6 1169.3h0M869.4 1178.2h0M763.4 1186.4h0M716.8 1190.7h0M757.3 1195.5h0M665.6 1198.0h0M871.2 1221.8h0M666.9 1226.3h0M836.0 1230.0h0M656.6 1234.4h0M754.8 1241.2h0M767.9 1238.5h0M679.1 1252.8h0M669.7 1276.8h0M809.5 1280.5h0M834.6 1278.4h0M762.3 1292.8h0M653.0 1310.1h0M664.5 1323.2h0M1020.3 1158.4h0M1062.3 1169.3h0M926.6 1175.1h0M1068.7 1190.7h0M1060.5 1195.2h0M1013.4 1193.9h0M984.1 1201.4h0M1005.7 1205.5h0M1050.9 1203.1h0M972.8 1213.0h0M981.1 1220.5h0M1061.4 1220.9h0M910.7 1225.2h0M932.3 1228.4h0M948.0 1234.1h0M1041.4 1234.1h0M1034.6 1235.5h0M1029.8 1243.0h0M1014.5 1249.1h0M971.8 1254.6h0M936.8 1259.3h0M960.9 1262.3h0M920.3 1282.1h0M940.7 1295.8h0M918.0 1303.7h0M998.2 1321.0h0M1031.8 1321.0h0M1085.3 1334.4h0M1098.0 1333.3h0M1098.0 1365.0h0M1106.2 1350.7h0M230.1 1091.3h0M228.3 1106.0h0M206.4 1129.1h0M267.9 1127.3h0M719.1 922.6h0M795.1 1057.1h0M762.3 1065.2h0M753.1 1068.8h0M711.3 1098.5h0M723.9 1125.5h0M709.5 1136.3h0M1045.8 1052.2h0M936.0 1085.5h0M847.4 1121.3h0M826.2 1133.6h0M805.5 1136.3h0M1180.0 1148.2h0M1197.8 1144.8h0M1173.2 1162.5h0M1241.4 1161.1h0M1148.7 1170.7h0M1294.6 1173.1h0M1195.1 1181.3h0M1162.6 1186.4h0M1256.8 1186.8h0M1245.5 1202.1h0M1286.2 1202.7h0M1151.4 1214.3h0M1158.2 1217.7h0M1165.0 1219.1h0M1154.1 1223.2h0M1156.2 1228.7h0M1292.6 1235.5h0M1242.1 1245.0h0M1268.7 1245.7h0M1337.9 1241.9h0M1347.1 1257.6h0M1138.5 1273.0h0M1155.9 1270.7h0M1158.9 1285.7h0M1303.5 1283.2h0M1346.4 1281.4h0M1316.4 1293.8h0M1340.3 1296.8h0M1124.4 1323.4h0M1342.6 1330.9h0M1116.6 1345.9h0M1113.9 1360.3h0M1127.5 1363.7h0M1111.9 1365.0h0M1508.7 1188.7h0M1464.8 1252.5h0M1551.4 1260.4h0M1365.9 1276.0h0M1563.4 1273.4h0M1483.2 1284.2h0M1406.5 1293.7h0M1457.1 1293.7h0M1542.6 1294.8h0M1533.7 1298.9h0M1577.3 1295.1h0M1596.4 1298.2h0M1420.5 1305.7h0M1382.3 1307.1h0M1370.7 1309.5h0M1444.0 1315.0h0M1386.7 1318.0h0M1371.4 1325.1h0M1480.1 1327.5h0M1413.0 1329.6h0M1380.3 1334.8h0M1568.2 1346.6h0M1676.0 1140.0h0M1740.7 1145.5h0M1772.1 1140.0h0M1711.4 1150.0h0M1726.0 1153.2h0M1672.5 1162.8h0M1690.3 1168.2h0M1748.0 1169.3h0M1835.8 1178.2h0M1729.8 1186.4h0M1683.2 1190.7h0M1723.7 1195.5h0M1632.0 1198.0h0M1837.6 1221.8h0M1633.3 1226.3h0M1802.4 1230.0h0M1623.0 1234.4h0M1721.2 1241.2h0M1734.3 1238.5h0M1645.5 1252.8h0M1636.1 1276.8h0M1775.9 1280.5h0M1801.0 1278.4h0M1728.7 1292.8h0M1619.4 1310.1h0M1630.9 1323.2h0M1986.7 1158.4h0M2028.7 1169.3h0M1893.0 1175.1h0M2035.1 1190.7h0M2026.9 1195.2h0M1979.8 1193.9h0M1950.5 1201.4h0M1972.1 1205.5h0M2017.3 1203.1h0M1939.2 1213.0h0M1947.5 1220.5h0M2027.8 1220.9h0M1877.1 1225.2h0M1898.7 1228.4h0M1914.4 1234.1h0M2007.8 1234.1h0M2001.0 1235.5h0M1996.2 1243.0h0M1980.9 1249.1h0M1938.2 1254.6h0M1903.2 1259.3h0M1927.3 1262.3h0M1886.7 1282.1h0M1907.1 1295.8h0M1884.4 1303.7h0M1964.6 1321.0h0M1998.2 1321.0h0M2051.7 1334.4h0M2064.4 1333.3h0M2064.4 1365.0h0M2072.6 1350.7h0M1196.5 1091.3h0M1194.7 1106.0h0M1172.8 1129.1h0M1234.3 1127.3h0M1685.5 922.6h0M1761.5 1057.1h0M1728.7 1065.2h0M1719.5 1068.8h0M1677.7 1098.5h0M1690.3 1125.5h0M1675.9 1136.3h0M2012.2 1052.2h0M1902.4 1085.5h0M1813.8 1121.3h0M1792.6 1133.6h0M1771.9 1136.3h0" stroke="#800080" stroke-width="12.9" stroke-linecap="round" fill="none"/></g>
<rect x="141.2" y="774.4" width="1932.8" height="639.7" fill="none" stroke="#000" stroke-width="3.33"/>
<path d="M141.2 1414.1v14.6" stroke="#000" stroke-width="3.33"/>
<text x="141.2" y="1467.3" text-anchor="middle" textLength="61.2" lengthAdjust="spacingAndGlyphs">0.00</text>
<path d="M382.8 1414.1v14.6" stroke="#000" stroke-width="3.33"/>
<text x="382.8" y="1467.3" text-anchor="middle" textLength="61.2" lengthAdjust="spacingAndGlyphs">0.25</text>
<path d="M624.4 1414.1v14.6" stroke="#000" stroke-width="3.33"/>
<text x="624.4" y="1467.3" text-anchor="middle" textLength="61.2" lengthAdjust="spacingAndGlyphs">0.50</text>
<path d="M866.0 1414.1v14.6" stroke="#000" stroke-width="3.33"/>
<text x="866.0" y="1467.3" text-anchor="middle" textLength="61.2" lengthAdjust="spacingAndGlyphs">0.75</text>
<path d="M1107.6 1414.1v14.6" stroke="#000" stroke-width="3.33"/>
<text x="1107.6" y="1467.3" text-anchor="middle" textLength="61.2" lengthAdjust="spacingAndGlyphs">1.00</text>
<path d="M1349.2 1414.1v14.6" stroke="#000" stroke-width="3.33"/>
<text x="1349.2" y="1467.3" text-anchor="middle" textLength="61.2" lengthAdjust="spacingAndGlyphs">1.25</text>
<path d="M1590.8 1414.1v14.6" stroke="#000" stroke-width="3.33"/>
<text x="1590.8" y="1467.3" text-anchor="middle" textLength="61.2" lengthAdjust="spacingAndGlyphs">1.50</text>
<path d="M1832.4 1414.1v14.6" stroke="#000" stroke-width="3.33"/>
<text x="1832.4" y="1467.3" text-anchor="middle" textLength="61.2" lengthAdjust="spacingAndGlyphs">1.75</text>
<path d="M2074.0 1414.1v14.6" stroke="#000" stroke-width="3.33"/>
<text x="2074.0" y="1467.3" text-anchor="middle" textLength="61.2" lengthAdjust="spacingAndGlyphs">2.00</text>
<path d="M141.2 1394.1h-14.6" stroke="#000" stroke-width="3.33"/>
<text x="112.1" y="1406.1" text-anchor="end" textLength="43.7" lengthAdjust="spacingAndGlyphs">0.0</text>
<path d="M141.2 1311.2h-14.6" stroke="#000" stroke-width="3.33"/>
<text x="112.1" y="1323.2" text-anchor="end" textLength="43.7" lengthAdjust="spacingAndGlyphs">0.5</text>
<path d="M141.2 1228.4h-14.6" stroke="#000" stroke-width="3.33"/>
<text x="112.1" y="1240.4" text-anchor="end" textLength="43.7" lengthAdjust="spacingAndGlyphs">1.0</text>
<path d="M141.2 1145.5h-14.6" stroke="#000" stroke-width="3.33"/>
<text x="112.1" y="1157.5" text-anchor="end" textLength="43.7" lengthAdjust="spacingAndGlyphs">1.5</text>
<path d="M141.2 1062.7h-14.6" stroke="#000" stroke-width="3.33"/>
<text x="112.1" y="1074.7" text-anchor="end" textLength="43.7" lengthAdjust="spacingAndGlyphs">2.0</text>
<path d="M141.2 979.8h-14.6" stroke="#000" stroke-width="3.33"/>
<text x="112.1" y="991.8" text-anchor="end" textLength="43.7" lengthAdjust="spacingAndGlyphs">2.5</text>
<path d="M141.2 897.0h-14.6" stroke="#000" stroke-width="3.33"/>
<text x="112.1" y="909.0" text-anchor="end" textLength="43.7" lengthAdjust="spacingAndGlyphs">3.0</text>
<path d="M141.2 814.1h-14.6" stroke="#000" stroke-width="3.33"/>
<text x="112.1" y="826.1" text-anchor="end" textLength="43.7" lengthAdjust="spacingAndGlyphs">3.5</text>
<text><tspan x="809.2" y="1517.9" textLength="90.2" lengthAdjust="spacingAndGlyphs">Phase</tspan> <tspan x="913.1" y="1517.9" textLength="163.1" lengthAdjust="spacingAndGlyphs">(11.721047</tspan> <tspan x="1087.7" y="1517.9" textLength="16.9" lengthAdjust="spacingAndGlyphs">d</tspan><tspan x="1109.5" y="1505.4" textLength="34.3" lengthAdjust="spacingAndGlyphs" style="font-size:24.4px">−1</tspan> <tspan x="1159.7" y="1517.9" textLength="12.5" lengthAdjust="spacingAndGlyphs">/</tspan> <tspan x="1190.2" y="1517.9" textLength="130.4" lengthAdjust="spacingAndGlyphs">2.047599</tspan> <tspan x="1334.2" y="1517.9" textLength="45.3" lengthAdjust="spacingAndGlyphs">hrs</tspan> <tspan x="1393.2" y="1517.9" textLength="11.2" lengthAdjust="spacingAndGlyphs">)</tspan></text>
<text transform="translate(44.4 1092.7) rotate(-90)" text-anchor="middle" textLength="244.5" lengthAdjust="spacingAndGlyphs">Normalized flux</text>
<g clip-path="url(#c3)"><path d="M141.2 2193.8V2135.8M144.2 2194.5V2136.2M147.2 2194.3V2134.6M150.2 2193.3V2133.5M153.2 2193.3V2134.1M156.2 2193.3V2136.1M159.2 2194.0V2129.1M162.2 2193.4V2135.4M165.2 2194.5V2124.1M168.2 2194.4V2134.4M171.2 2195.2V2136.3M174.2 2194.9V2135.1M177.2 2193.5V2136.0M180.2 2193.8V2129.4M183.2 2193.6V2132.8M186.2 2194.5V2134.5M189.2 2194.3V2136.2M192.2 2193.3V2135.5M195.2 2194.6V2134.2M198.2 2193.8V2132.8M201.2 2194.1V2135.0M204.2 2194.8V2131.5M207.2 2193.7V2132.9M210.2 2194.3V2127.8M213.2 2194.7V2135.1M216.2 2195.2V2136.0M219.2 2194.0V2130.6M222.2 2193.5V2133.7M225.2 2193.3V2131.9M228.2 2194.7V2132.9M231.2 2195.0V2134.9M234.2 2194.6V2132.7M237.2 2194.4V2133.9M240.2 2194.9V2124.3M243.2 2194.1V2131.9M246.2 2193.3V2131.4M249.2 2194.5V2115.6M252.2 2194.8V2135.1M255.2 2194.0V2131.9M258.2 2193.2V2133.9M261.2 2193.5V2136.0M264.2 2193.3V2130.4M267.2 2193.5V2135.3M270.2 2194.0V2127.9M273.2 2193.4V2134.0M276.2 2194.3V2127.5M279.2 2194.8V2128.1M282.2 2193.8V2134.2M285.2 2193.9V2127.4M288.2 2195.1V2135.8M291.2 2193.6V2135.4M294.2 2193.7V2133.7M297.2 2194.4V2135.2M300.2 2193.2V2134.2M303.2 2193.9V2133.0M306.2 2195.1V2131.6M309.2 2194.2V2132.5M312.2 2194.6V2136.3M315.2 2195.0V2130.1M318.2 2194.9V2129.8M321.2 2194.0V2134.4M324.2 2193.4V2132.3M327.2 2193.3V2136.2M330.2 2193.6V2135.8M333.2 2193.9V2136.3M336.2 2193.2V2135.8M339.2 2193.4V2134.6M342.2 2193.3V2127.8M345.2 2194.4V2135.8M348.2 2193.7V2134.7M351.2 2193.9V2135.9M354.2 2194.9V2115.6M357.2 2194.1V2133.7M360.2 2193.4V2136.0M363.2 2193.9V2135.2M366.2 2194.9V2135.8M369.2 2193.2V2123.8M372.2 2194.3V2135.8M375.2 2194.3V2136.4M378.2 2194.3V2120.4M381.2 2194.9V2131.5M384.2 2193.7V2134.6M387.2 2193.5V2130.3M390.2 2194.3V2130.2M393.2 2193.9V2135.4M396.2 2194.8V2118.9M399.2 2194.9V2129.6M402.2 2194.8V2130.8M405.2 2193.7V2133.4M408.2 2193.9V2136.4M411.2 2193.3V2135.1M414.2 2193.7V2131.5M417.2 2195.1V2134.0M420.2 2195.1V2117.9M423.2 2195.1V2134.6M426.2 2193.6V2135.4M429.2 2193.6V2135.5M432.2 2194.4V2126.8M435.2 2194.9V2133.8M438.2 2194.5V2129.7M441.2 2193.4V2132.0M444.2 2195.0V2130.1M447.2 2194.7V2133.8M450.2 2193.6V2130.0M453.2 2193.9V2129.7M456.2 2195.1V2134.4M459.2 2194.0V2124.2M462.2 2194.6V2135.7M465.2 2193.5V2135.8M468.2 2195.0V2129.6M471.2 2193.5V2129.1M474.2 2195.2V2132.0M477.2 2193.9V2133.2M480.2 2193.5V2136.4M483.2 2195.1V2132.1M486.2 2194.3V2125.1M489.2 2194.1V2127.9M492.2 2194.9V2135.5M495.2 2193.7V2135.0M498.2 2193.7V2132.8M501.2 2193.7V2134.2M504.2 2193.5V2126.4M507.2 2193.9V2133.9M510.2 2194.4V2126.6M513.2 2194.0V2126.0M516.2 2194.2V2133.3M519.2 2194.2V2136.4M522.2 2194.1V2135.7M525.2 2193.2V2129.8M528.2 2193.5V2133.8M531.2 2194.7V2133.1M534.2 2193.9V2133.4M537.2 2194.3V2130.1M540.2 2193.4V2133.0M543.2 2193.7V2135.1M546.2 2194.7V2133.5M549.2 2194.3V2130.5M552.2 2195.0V2134.0M555.2 2194.4V2133.5M558.2 2194.2V2131.5M561.2 2194.1V2133.3M564.2 2194.2V2124.6M567.2 2194.6V2127.7M570.2 2195.1V2135.2M573.2 2194.3V2124.4M576.2 2194.9V2135.9M579.2 2193.4V2134.0M582.2 2193.3V2135.3M585.2 2193.3V2131.9M588.2 2194.8V2127.0M591.2 2193.5V2131.2M594.2 2194.5V2135.9M597.2 2195.0V2122.1M600.2 2193.6V2123.7M603.2 2194.0V2133.7M606.2 2195.2V2129.0M609.2 2193.5V2134.1M612.2 2194.2V2134.8M615.2 2193.6V2134.9M618.2 2194.6V2136.4M621.2 2194.3V2134.1M624.2 2193.2V2134.8M627.2 2194.4V2133.5M630.2 2193.3V2118.8M633.2 2194.8V2121.5M636.2 2193.4V2135.2M639.2 2193.3V2130.2M642.2 2193.7V2135.9M645.2 2194.0V2126.3M648.2 2194.8V2135.2M651.2 2193.5V2125.9M654.2 2194.3V2131.4M657.2 2193.4V2136.3M660.2 2194.6V2134.2M663.2 2193.3V2124.8M666.2 2194.5V2129.7M669.2 2193.4V2128.4M672.2 2193.3V2128.2M675.2 2194.1V2134.8M678.2 2194.3V2125.5M681.2 2193.7V2135.9M684.2 2194.3V2135.4M687.2 2193.4V2135.8M690.2 2193.3V2135.6M693.2 2193.8V2135.0M696.2 2194.7V2135.1M699.2 2194.2V2135.7M702.2 2193.9V2136.4M705.2 2193.7V2136.4M708.2 2194.7V2133.1M711.2 2193.6V2133.8M714.2 2195.1V2136.0M717.2 2194.8V2134.1M720.2 2194.2V2128.9M723.2 2194.0V2133.5M726.2 2194.6V2119.5M729.2 2193.9V2129.0M732.2 2194.6V2132.3M735.2 2194.0V2134.7M738.2 2193.3V2135.9M741.2 2193.3V2130.8M744.2 2193.7V2135.8M747.2 2193.4V2128.8M750.2 2194.9V2131.8M753.2 2193.8V2135.3M756.2 2193.8V2133.9M759.2 2193.5V2134.0M762.2 2193.7V2122.8M765.2 2195.1V2133.2M768.2 2193.7V2122.3M771.2 2193.8V2134.6M774.2 2193.2V2134.5M777.2 2194.1V2133.6M780.2 2193.6V2133.5M783.2 2193.2V2135.2M786.2 2193.4V2134.4M789.2 2193.3V2136.4M792.2 2193.8V2135.4M795.2 2194.4V2133.3M798.2 2194.7V2132.0M801.2 2194.6V2127.6M804.2 2194.0V2134.8M807.2 2195.2V2135.8M810.2 2194.6V2132.2M813.2 2193.3V2128.9M816.2 2195.0V2132.4M819.2 2194.7V2129.5M822.2 2193.5V2133.4M825.2 2194.2V2128.9M828.2 2194.8V2129.1M831.2 2194.4V2127.1M834.2 2194.6V2131.5M837.2 2193.7V2136.4M840.2 2193.5V2134.6M843.2 2193.4V2128.9M846.2 2194.3V2132.3M849.2 2194.5V2131.7M852.2 2194.2V2136.5M855.2 2194.8V2130.7M858.2 2194.2V2133.3M861.2 2194.5V2136.2M864.2 2194.7V2135.3M867.2 2193.3V2135.2M870.2 2194.7V2135.5M873.2 2194.7V2120.9M876.2 2194.2V2134.5M879.2 2194.2V2131.7M882.2 2194.7V2132.5M885.2 2194.5V2136.2M888.2 2193.5V2135.3M891.2 2194.7V2135.0M894.2 2194.3V2136.4M897.2 2193.3V2135.2M900.2 2194.5V2131.6M903.2 2194.6V2135.1M906.2 2194.2V2133.9M909.2 2194.1V2136.0M912.2 2195.0V2135.6M915.2 2195.2V2124.9M918.2 2193.2V2133.9M921.2 2194.8V2122.0M924.2 2194.1V2135.2M927.2 2193.6V2124.3M930.2 2193.6V2132.8M933.2 2193.5V2133.4M936.2 2195.1V2135.9M939.2 2194.8V2133.5M942.2 2195.0V2131.4M945.2 2193.7V2126.9M948.2 2194.2V2136.4M951.2 2193.2V2133.7M954.2 2194.1V2135.0M957.2 2193.5V2134.7M960.2 2193.8V2128.8M963.2 2193.2V2130.7M966.2 2194.9V2136.0M969.2 2195.1V2131.3M972.2 2195.0V2135.1M975.2 2193.9V2134.4M978.2 2195.2V2132.8M981.2 2193.9V2134.2M984.2 2193.8V2136.3M987.2 2193.4V2128.9M990.2 2193.8V2125.0M993.2 2193.7V2135.2M996.2 2194.2V2135.6M999.2 2193.9V2123.4M1002.2 2195.0V2129.5M1005.2 2194.5V2126.2M1008.2 2195.1V2133.2M1011.2 2194.6V2136.3M1014.2 2194.7V2134.0M1017.2 2194.7V2132.2M1020.2 2193.8V2136.3M1023.2 2195.1V2135.9M1026.2 2194.1V2134.7M1029.2 2193.8V2130.9M1032.2 2195.2V2135.2M1035.2 2194.5V2135.0M1038.2 2194.3V2134.4M1041.2 2193.5V2135.8M1044.2 2193.6V2126.6M1047.2 2194.2V2135.5M1050.2 2195.0V2114.5M1053.2 2194.1V2135.9M1056.2 2193.6V2136.1M1059.2 2193.9V2136.1M1062.2 2193.7V2135.2M1065.2 2194.3V2127.3M1068.2 2194.7V2134.3M1071.2 2194.0V2133.4M1074.2 2194.0V2134.8M1077.2 2193.3V2135.1M1080.2 2195.1V2135.9M1083.2 2194.2V2132.3M1086.2 2194.9V2135.5M1089.2 2193.7V2135.3M1092.2 2194.0V2134.0M1095.2 2195.1V2128.6M1098.2 2194.9V2136.4M1101.2 2193.3V2131.3M1104.2 2195.0V2133.8M1107.2 2194.4V2136.5M1110.2 2194.0V2125.5M1113.2 2194.9V2128.4M1116.2 2195.1V2135.3M1119.2 2193.4V2135.8M1122.2 2194.2V2131.7M1125.2 2195.1V2131.1M1128.2 2194.5V2130.4M1131.2 2194.1V2133.1M1134.2 2193.3V2130.1M1137.2 2193.7V2125.9M1140.2 2194.5V2135.0M1143.2 2193.5V2135.3M1146.2 2194.5V2131.5M1149.2 2193.4V2136.2M1152.2 2194.2V2132.8M1155.2 2194.0V2135.4M1158.2 2194.4V2136.5M1161.2 2193.8V2133.9M1164.2 2195.1V2132.2M1167.2 2195.0V2133.8M1170.2 2193.7V2135.3M1173.2 2195.1V2131.4M1176.2 2193.8V2136.4M1179.2 2194.2V2131.8M1182.2 2194.0V2135.3M1185.2 2194.5V2125.6M1188.2 2193.7V2136.4M1191.2 2193.9V2134.2M1194.2 2194.6V2135.6M1197.2 2194.8V2130.9M1200.2 2194.2V2135.5M1203.2 2195.1V2134.9M1206.2 2194.8V2135.4M1209.2 2193.6V2130.5M1212.2 2193.8V2123.8M1215.2 2194.2V2135.6M1218.2 2193.6V2134.2M1221.2 2194.5V2124.0M1224.2 2193.5V2134.4M1227.2 2193.6V2121.2M1230.2 2193.5V2136.3M1233.2 2193.3V2134.4M1236.2 2195.0V2127.5M1239.2 2194.7V2114.5M1242.2 2195.1V2134.8M1245.2 2193.6V2125.0M1248.2 2194.7V2136.4M1251.2 2194.5V2134.5M1254.2 2193.9V2134.8M1257.2 2193.5V2136.5M1260.2 2193.8V2134.7M1263.2 2195.1V2135.9M1266.2 2195.1V2135.5M1269.2 2193.9V2129.3M1272.2 2194.8V2134.1M1275.2 2193.3V2133.8M1278.2 2193.9V2125.9M1281.2 2193.6V2134.6M1284.2 2195.0V2136.4M1287.2 2194.0V2129.5M1290.2 2194.7V2136.3M1293.2 2193.3V2136.2M1296.2 2195.0V2135.3M1299.2 2194.7V2126.9M1302.2 2193.9V2135.2M1305.2 2195.1V2132.5M1308.2 2193.7V2131.2M1311.2 2193.8V2135.1M1314.2 2193.2V2130.6M1317.2 2195.0V2132.3M1320.2 2195.1V2136.4M1323.2 2193.7V2133.8M1326.2 2195.1V2123.6M1329.2 2194.0V2135.3M1332.2 2194.1V2133.6M1335.2 2195.1V2135.7M1338.2 2194.8V2130.9M1341.2 2194.8V2130.3M1344.2 2194.4V2134.8M1347.2 2193.8V2134.6M1350.2 2194.8V2136.2M1353.2 2193.6V2130.6M1356.2 2193.7V2136.2M1359.2 2193.3V2133.1M1362.2 2193.9V2120.0M1365.2 2195.0V2118.0M1368.2 2193.7V2136.1M1371.2 2193.4V2133.6M1374.2 2194.6V2134.0M1377.2 2193.7V2134.2M1380.2 2194.4V2131.8M1383.2 2194.7V2128.6M1386.2 2194.5V2136.0M1389.2 2194.9V2135.0M1392.2 2194.3V2134.5M1395.2 2194.7V2135.6M1398.2 2193.7V2135.3M1401.2 2193.5V2127.4M1404.2 2194.4V2134.8M1407.2 2194.0V2116.0M1410.2 2194.2V2135.4M1413.2 2194.8V2132.1M1416.2 2195.2V2136.0M1419.2 2194.1V2129.3M1422.2 2194.9V2126.2M1425.2 2193.3V2135.0M1428.2 2193.4V2135.6M1431.2 2195.1V2132.8M1434.2 2195.1V2134.5M1437.2 2194.9V2134.0M1440.2 2193.7V2130.2M1443.2 2195.1V2136.0M1446.2 2194.4V2132.4M1449.2 2193.6V2134.6M1452.2 2193.5V2135.5M1455.2 2193.7V2132.7M1458.2 2194.5V2135.5M1461.2 2193.2V2134.8M1464.2 2194.6V2135.6M1467.2 2193.8V2135.5M1470.2 2194.8V2133.2M1473.2 2193.3V2136.1M1476.2 2194.0V2133.1M1479.2 2194.5V2136.1M1482.2 2193.5V2131.5M1485.2 2194.0V2135.1M1488.2 2193.8V2123.6M1491.2 2193.8V2133.0M1494.2 2193.9V2134.2M1497.2 2194.9V2114.5M1500.2 2193.9V2135.6M1503.2 2194.7V2135.5M1506.2 2193.2V2126.8M1509.2 2194.0V2129.3M1512.2 2194.0V2127.5M1515.2 2194.1V2135.8M1518.2 2193.2V2133.1M1521.2 2194.5V2126.4M1524.2 2193.4V2132.4M1527.2 2193.9V2133.6M1530.2 2193.5V2135.1M1533.2 2194.2V2125.6M1536.2 2193.4V2133.7M1539.2 2194.8V2122.2M1542.2 2193.6V2135.9M1545.2 2195.1V2120.9M1548.2 2194.2V2136.3M1551.2 2195.1V2134.4M1554.2 2195.0V2132.4M1557.2 2194.8V2135.8M1560.2 2194.8V2135.4M1563.2 2194.0V2128.6M1566.2 2194.9V2135.7M1569.2 2193.6V2134.4M1572.2 2194.2V2134.5M1575.2 2193.4V2135.3M1578.2 2194.6V2126.9M1581.2 2193.3V2133.0M1584.2 2194.7V2136.3M1587.2 2194.9V2136.0M1590.2 2194.4V2133.1M1593.2 2194.5V2135.0M1596.2 2194.0V2132.8M1599.2 2194.1V2132.0M1602.2 2194.1V2134.1M1605.2 2193.2V2132.4M1608.2 2194.2V2135.4M1611.2 2194.7V2130.1M1614.2 2194.1V2135.7M1617.2 2194.1V2136.0M1620.2 2193.5V2134.1M1623.2 2193.4V2134.0M1626.2 2194.2V2136.3M1629.2 2194.5V2136.1M1632.2 2194.7V2130.2M1635.2 2194.2V2136.3M1638.2 2194.2V2134.5M1641.2 2195.1V2135.9M1644.2 2194.9V2114.5M1647.2 2194.7V2129.4M1650.2 2193.6V2119.7M1653.2 2194.2V2123.3M1656.2 2195.0V2135.7M1659.2 2194.8V2125.3M1662.2 2193.3V2134.7M1665.2 2194.7V2135.8M1668.2 2195.0V2135.1M1671.2 2194.8V2135.8M1674.2 2194.2V2125.9M1677.2 2193.6V2135.2M1680.2 2194.2V2134.9M1683.2 2193.3V2135.7M1686.2 2193.5V2124.9M1689.2 2194.6V2127.0M1692.2 2193.5V2130.0M1695.2 2193.4V2133.3M1698.2 2194.5V2134.6M1701.2 2194.9V2133.1M1704.2 2194.4V2127.5M1707.2 2193.4V2115.7M1710.2 2194.5V2134.4M1713.2 2194.8V2135.2M1716.2 2195.2V2132.9M1719.2 2193.9V2130.4M1722.2 2194.1V2135.7M1725.2 2194.7V2136.3M1728.2 2194.8V2135.3M1731.2 2194.5V2119.1M1734.2 2194.4V2131.9M1737.2 2193.8V2136.5M1740.2 2193.3V2135.8M1743.2 2194.4V2134.1M1746.2 2194.2V2127.0M1749.2 2193.5V2135.4M1752.2 2194.5V2136.4M1755.2 2193.2V2134.7M1758.2 2193.4V2134.6M1761.2 2193.6V2132.8M1764.2 2194.4V2135.5M1767.2 2194.4V2133.8M1770.2 2193.5V2124.9M1773.2 2193.7V2135.8M1776.2 2193.4V2132.2M1779.2 2194.9V2130.1M1782.2 2194.0V2135.2M1785.2 2193.2V2132.2M1788.2 2194.3V2134.7M1791.2 2194.5V2134.0M1794.2 2195.1V2130.9M1797.2 2193.7V2126.7M1800.2 2193.3V2133.3M1803.2 2194.0V2135.4M1806.2 2193.3V2130.2M1809.2 2193.2V2133.1M1812.2 2195.1V2135.9M1815.2 2193.6V2132.6M1818.2 2194.2V2132.2M1821.2 2194.8V2135.7M1824.2 2193.8V2135.0M1827.2 2193.3V2127.3M1830.2 2194.8V2131.2M1833.2 2193.2V2128.7M1836.2 2194.7V2133.9M1839.2 2194.7V2134.0M1842.2 2193.7V2136.0M1845.2 2193.7V2136.3M1848.2 2193.9V2130.7M1851.2 2194.6V2128.7M1854.2 2194.6V2135.2M1857.2 2194.3V2134.1M1860.2 2194.8V2133.4M1863.2 2193.7V2132.2M1866.2 2195.1V2135.5M1869.2 2195.0V2136.4M1872.2 2193.7V2135.4M1875.2 2194.7V2124.3M1878.2 2194.7V2134.8M1881.2 2195.0V2134.8M1884.2 2193.7V2126.5M1887.2 2194.5V2131.5M1890.2 2194.5V2120.3M1893.2 2194.1V2128.8M1896.2 2194.6V2128.3M1899.2 2194.1V2131.1M1902.2 2194.3V2135.0M1905.2 2193.6V2132.4M1908.2 2193.4V2126.3M1911.2 2193.5V2136.4M1914.2 2193.4V2125.4M1917.2 2193.9V2135.9M1920.2 2193.3V2136.3M1923.2 2194.6V2132.3M1926.2 2194.6V2130.9M1929.2 2193.3V2132.8M1932.2 2193.9V2129.4M1935.2 2194.8V2127.2M1938.2 2193.3V2128.0M1941.2 2195.0V2124.4M1944.2 2193.4V2135.5M1947.2 2193.4V2136.4M1950.2 2194.9V2129.5M1953.2 2194.5V2129.2M1956.2 2194.5V2135.1M1959.2 2193.4V2136.1M1962.2 2194.7V2135.5M1965.2 2193.8V2134.2M1968.2 2193.2V2135.3M1971.2 2193.8V2131.2M1974.2 2193.9V2134.9M1977.2 2195.1V2133.6M1980.2 2194.9V2132.5M1983.2 2193.3V2134.3M1986.2 2194.1V2130.3M1989.2 2193.9V2131.4M1992.2 2194.3V2135.5M1995.2 2194.9V2136.1M1998.2 2194.8V2135.7M2001.2 2193.2V2135.6M2004.2 2194.7V2120.5M2007.2 2193.2V2133.7M2010.2 2194.2V2129.8M2013.2 2193.6V2133.6M2016.2 2193.9V2129.0M2019.2 2193.7V2124.4M2022.2 2193.8V2135.5M2025.2 2194.6V2133.6M2028.2 2193.4V2132.2M2031.2 2193.4V2130.0M2034.2 2194.6V2130.0M2037.2 2194.5V2134.7M2040.2 2194.0V2134.4M2043.2 2195.0V2136.1M2046.2 2195.0V2136.4M2049.2 2193.6V2135.2M2052.2 2195.0V2133.6M2055.2 2194.0V2127.5M2058.2 2193.7V2133.9M2061.2 2194.3V2130.6M2064.2 2194.7V2132.1M2067.2 2193.9V2134.8M2070.2 2193.5V2128.7M2073.2 2194.5V2130.8M147.7 2193.0V2107.1M160.8 2193.0V2109.0M175.0 2193.0V2088.8M189.5 2193.0V2111.2M195.5 2193.0V2107.1M205.8 2193.0V2096.7M217.8 2193.0V2103.5M232.3 2193.0V2088.0M241.0 2193.0V2076.2M249.5 2193.0V2065.3M257.4 2193.0V2110.6M270.5 2193.0V2110.6M278.7 2193.0V2113.3M286.8 2193.0V2111.2M296.9 2193.0V2072.4M306.8 2193.0V2109.8M316.9 2193.0V2090.2M330.5 2193.0V2071.9M341.9 2193.0V2098.9M348.2 2193.0V2105.2M361.9 2193.0V2082.5M375.2 2193.0V2039.7M388.6 2193.0V2075.7M402.2 2193.0V2095.3M406.1 2193.0V2098.9M421.9 2193.0V2073.5M431.4 2193.0V2118.0M438.2 2193.0V1971.5M454.3 2193.0V2068.3M470.2 2193.0V2092.1M492.0 2193.0V2085.5M512.4 2193.0V2049.2M525.0 2193.0V2124.3M532.9 2193.0V1937.9M539.2 2193.0V2121.5M552.5 2193.0V2051.4M573.3 2193.0V2061.2M582.3 2193.0V2122.1M595.1 2193.0V2119.3M599.2 2193.0V2115.3M600.0 2193.0V2115.3M613.6 2193.0V2103.5M624.0 2193.0V2125.3M636.3 2193.0V2040.8M663.0 2193.0V2022.2M681.8 2193.0V2123.4M690.0 2193.0V1933.9M709.7 2193.0V2114.4M717.0 2193.0V2030.7M734.2 2193.0V2123.4M743.8 2193.0V2070.8M778.7 2193.0V2124.3M813.3 2193.0V2126.2M825.0 2193.0V2127.5M831.9 2193.0V2113.1M843.3 2193.0V2062.6M864.0 2193.0V2119.9M883.4 2193.0V2098.1M908.5 2193.0V2107.6M920.5 2193.0V2116.6M923.8 2193.0V2001.5M949.7 2193.0V2126.2M1069.7 2193.0V2125.3M1107.0 2193.0V2110.6M1125.6 2193.0V2118.0M1165.9 2193.0V2101.1M1187.2 2193.0V2126.2M1198.7 2193.0V2123.4M1208.8 2193.0V2119.9M1223.2 2193.0V2123.4M1229.5 2193.0V2124.0M1262.2 2193.0V2118.8M1277.8 2193.0V2129.7M1292.2 2193.0V2092.9M1305.3 2193.0V2118.5M1319.2 2193.0V2076.2M1325.5 2193.0V2121.5M1346.0 2193.0V2121.5M1372.7 2193.0V2118.0M1385.0 2193.0V2119.3M1406.5 2193.0V2101.9M1422.3 2193.0V2127.5M1443.6 2193.0V2125.6M1491.9 2193.0V2128.9M1501.4 2193.0V2130.3M1514.5 2193.0V2124.3M1526.3 2193.0V2121.5M1549.2 2193.0V2124.8M1556.0 2193.0V2125.3M1565.5 2193.0V2120.2M1577.0 2193.0V2124.3M1595.0 2193.0V2125.6M1620.1 2193.0V2127.0M1626.4 2193.0V2121.5M1635.1 2193.0V2128.1M1655.6 2193.0V2125.6M1664.6 2193.0V2128.9M1677.4 2193.0V2127.0M1701.4 2193.0V2124.8M1706.3 2193.0V2088.2M1719.1 2193.0V2126.4M1736.8 2193.0V2111.7M1751.8 2193.0V2129.7M1765.5 2193.0V2131.1M1775.6 2193.0V2121.5M1794.7 2193.0V2104.3M1803.1 2193.0V2130.3M1813.8 2193.0V2131.6M1830.1 2193.0V2129.7M1840.5 2193.0V2124.8M1850.0 2193.0V2124.3M1862.3 2193.0V2122.6M1875.4 2193.0V2127.5M1888.8 2193.0V2126.4M1901.9 2193.0V2128.9M1908.2 2193.0V2107.9M1917.7 2193.0V2122.1M1936.8 2193.0V2127.0M1956.4 2193.0V2119.3M1973.6 2193.0V2127.0M1988.6 2193.0V2087.2M2001.4 2193.0V2110.6M2012.4 2193.0V2127.0M2019.4 2193.0V2124.8M2034.2 2193.0V2111.2M2047.3 2193.0V2119.3M2065.5 2193.0V2126.4M2070.5 2193.0V2125.3M964.4 2193.0V1896.3M1004.6 2193.0V1703.4M1045.0 2193.0V1893.0M1085.4 2193.0V2019.4M1787.3 2193.0V1934.8M1867.7 2193.0V1845.8M1948.6 2193.0V1621.9M2029.5 2193.0V1844.4" fill="none" stroke="#1f77b4" stroke-width="6.25" stroke-linecap="round"/><rect x="141.2" y="2141.0" width="1932.8" height="52" fill="#1f77b4"/></g>
<rect x="141.2" y="1562.8" width="1932.8" height="640.2" fill="none" stroke="#000" stroke-width="3.33"/>
<path d="M463.3 2203.0v14.6" stroke="#000" stroke-width="3.33"/>
<text x="463.3" y="2256.0" text-anchor="middle" textLength="17.5" lengthAdjust="spacingAndGlyphs">5</text>
<path d="M866.0 2203.0v14.6" stroke="#000" stroke-width="3.33"/>
<text x="866.0" y="2256.0" text-anchor="middle" textLength="35.0" lengthAdjust="spacingAndGlyphs">10</text>
<path d="M1268.7 2203.0v14.6" stroke="#000" stroke-width="3.33"/>
<text x="1268.7" y="2256.0" text-anchor="middle" textLength="35.0" lengthAdjust="spacingAndGlyphs">15</text>
<path d="M1671.3 2203.0v14.6" stroke="#000" stroke-width="3.33"/>
<text x="1671.3" y="2256.0" text-anchor="middle" textLength="35.0" lengthAdjust="spacingAndGlyphs">20</text>
<path d="M2074.0 2203.0v14.6" stroke="#000" stroke-width="3.33"/>
<text x="2074.0" y="2256.0" text-anchor="middle" textLength="35.0" lengthAdjust="spacingAndGlyphs">25</text>
<path d="M141.2 2203.0h-14.6" stroke="#000" stroke-width="3.33"/>
<text x="112.1" y="2215.0" text-anchor="end" textLength="61.2" lengthAdjust="spacingAndGlyphs">0.00</text>
<path d="M141.2 2064.8h-14.6" stroke="#000" stroke-width="3.33"/>
<text x="112.1" y="2076.8" text-anchor="end" textLength="61.2" lengthAdjust="spacingAndGlyphs">0.05</text>
<path d="M141.2 1926.6h-14.6" stroke="#000" stroke-width="3.33"/>
<text x="112.1" y="1938.6" text-anchor="end" textLength="61.2" lengthAdjust="spacingAndGlyphs">0.10</text>
<path d="M141.2 1788.4h-14.6" stroke="#000" stroke-width="3.33"/>
<text x="112.1" y="1800.4" text-anchor="end" textLength="61.2" lengthAdjust="spacingAndGlyphs">0.15</text>
<path d="M141.2 1650.2h-14.6" stroke="#000" stroke-width="3.33"/>
<text x="112.1" y="1662.2" text-anchor="end" textLength="61.2" lengthAdjust="spacingAndGlyphs">0.20</text>
<text><tspan x="983.8" y="2307.0" textLength="146.1" lengthAdjust="spacingAndGlyphs">frequency</tspan> <tspan x="1144.4" y="2307.0" textLength="30.0" lengthAdjust="spacingAndGlyphs">(d</tspan><tspan x="1179.2" y="2294.5" textLength="32.3" lengthAdjust="spacingAndGlyphs" style="font-size:24.4px">−1</tspan><tspan x="1218.6" y="2307.0" textLength="11.2" lengthAdjust="spacingAndGlyphs">)</tspan></text>
<text transform="translate(25.6 1883.7) rotate(-90)" text-anchor="middle" textLength="371" lengthAdjust="spacingAndGlyphs">BLS power (normalised)</text>
<text transform="translate(1957.2 1591.8) rotate(-90)"><tspan x="-2.0" y="0">2</tspan><tspan x="14.6" y="0" font-style="italic" textLength="26.0" lengthAdjust="spacingAndGlyphs">Ω</tspan></text>
<text transform="translate(1014.0 1675.7) rotate(-90)"><tspan x="-0.8" y="0" font-style="italic" textLength="23.2" lengthAdjust="spacingAndGlyphs">Ω</tspan></text>
<text transform="translate(541.0 1922.8) rotate(-90)"><tspan x="-0.8" y="0" font-style="italic" textLength="23.2" lengthAdjust="spacingAndGlyphs">Ω</tspan><tspan x="25.6" y="8.3" style="font-size:48px">/</tspan><tspan x="40.9" y="0">2</tspan></text>
<text transform="translate(383.8 2029.9) rotate(-90)"><tspan x="-0.8" y="0" font-style="italic" textLength="23.2" lengthAdjust="spacingAndGlyphs">Ω</tspan><tspan x="25.6" y="8.3" style="font-size:48px">/</tspan><tspan x="40.9" y="0">3</tspan></text>
<text transform="translate(305.0 2063.6) rotate(-90)"><tspan x="-0.8" y="0" font-style="italic" textLength="23.2" lengthAdjust="spacingAndGlyphs">Ω</tspan><tspan x="25.6" y="8.3" style="font-size:48px">/</tspan><tspan x="40.9" y="0">4</tspan></text>
</svg></body></html>
